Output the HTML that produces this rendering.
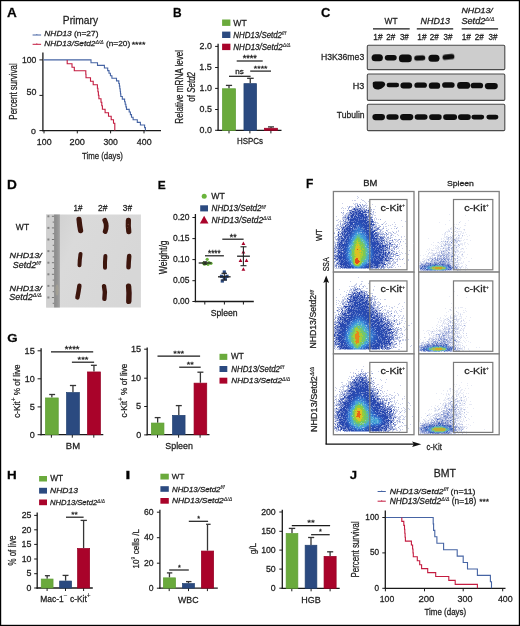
<!DOCTYPE html>
<html><head><meta charset="utf-8"><style>
html,body{margin:0;padding:0;background:#fff;overflow:hidden;}
svg{display:block;font-family:"Liberation Sans", sans-serif;will-change:transform;}
text{stroke:#222;stroke-width:0.26px;}
</style></head><body>
<svg shape-rendering="auto" width="520" height="626" viewBox="0 0 520 626" fill="#222">
<defs>
<filter id="bl" x="-30%" y="-60%" width="160%" height="220%"><feGaussianBlur stdDeviation="0.45"/></filter>
<filter id="bl2" filterUnits="userSpaceOnUse" x="0" y="0" width="520" height="626"><feGaussianBlur stdDeviation="0.45"/></filter>
<filter id="fb" x="-50%" y="-50%" width="200%" height="200%"><feGaussianBlur stdDeviation="2"/></filter>
<linearGradient id="pg" x1="0" y1="0" x2="1" y2="0.4"><stop offset="0" stop-color="#cdcdcd"/><stop offset="0.35" stop-color="#dadada"/><stop offset="1" stop-color="#d7d7d7"/></linearGradient>
<linearGradient id="rg" x1="0" y1="0" x2="1" y2="0"><stop offset="0" stop-color="#8a8a8a"/><stop offset="0.6" stop-color="#969696"/><stop offset="1" stop-color="#a4a4a4"/></linearGradient>
<clipPath id="clip00"><rect x="334.09999999999997" y="192.2" width="79.2" height="79.2"/></clipPath><clipPath id="clip01"><rect x="419.4" y="192.2" width="79.1" height="79.2"/></clipPath><clipPath id="clip10"><rect x="334.09999999999997" y="272.8" width="79.2" height="80.4"/></clipPath><clipPath id="clip11"><rect x="419.4" y="272.8" width="79.1" height="80.4"/></clipPath><clipPath id="clip20"><rect x="334.09999999999997" y="354.59999999999997" width="79.2" height="79.4"/></clipPath><clipPath id="clip21"><rect x="419.4" y="354.59999999999997" width="79.1" height="79.4"/></clipPath>
</defs>
<rect width="520" height="626" fill="#fff"/>
<text transform="translate(6.96 16.50) scale(1.0603 1)" font-size="12.791" fill="#000"><tspan font-weight="bold">A</tspan></text>
<text transform="translate(62.86 23.50) scale(0.9611 1)" font-size="10.621">Primary</text>
<line x1="32.6" y1="35.0" x2="41.1" y2="35.0" stroke="#4664a4" stroke-width="1.0"/>
<line x1="36.8" y1="34.0" x2="36.8" y2="35.0" stroke="#4664a4" stroke-width="0.8"/>
<text transform="translate(44.34 36.30) scale(1.0459 1)" font-size="8.0"><tspan font-style="italic">NHD13</tspan> (n=27)</text>
<line x1="32.6" y1="44.3" x2="41.1" y2="44.3" stroke="#c41c40" stroke-width="1.0"/>
<line x1="36.8" y1="43.3" x2="36.8" y2="44.3" stroke="#c41c40" stroke-width="0.8"/>
<text transform="translate(44.34 46.20) scale(1.0545 1)" font-size="7.862"><tspan font-style="italic">NHD13/Setd2</tspan><tspan font-style="italic" font-size="4.87" dy="-2.59" stroke-width="0.12">Δ/Δ</tspan><tspan dy="2.59"> (n=20)</tspan></text>
<text transform="translate(131.66 46.69) scale(1.1516 1)" font-size="7.692">****</text>
<line x1="42.9" y1="52.6" x2="42.9" y2="131.25" stroke="#1a1a1a" stroke-width="1.3"/>
<line x1="42.25" y1="130.6" x2="161" y2="130.6" stroke="#1a1a1a" stroke-width="1.3"/>
<line x1="39.4" y1="59.9" x2="42.9" y2="59.9" stroke="#1a1a1a" stroke-width="1"/>
<line x1="39.4" y1="95.4" x2="42.9" y2="95.4" stroke="#1a1a1a" stroke-width="1"/>
<line x1="39.4" y1="130.6" x2="42.9" y2="130.6" stroke="#1a1a1a" stroke-width="1"/>
<line x1="44" y1="130.4" x2="44" y2="133.4" stroke="#1a1a1a" stroke-width="1"/>
<line x1="77.3" y1="130.4" x2="77.3" y2="133.4" stroke="#1a1a1a" stroke-width="1"/>
<line x1="110.6" y1="130.4" x2="110.6" y2="133.4" stroke="#1a1a1a" stroke-width="1"/>
<line x1="144" y1="130.4" x2="144" y2="133.4" stroke="#1a1a1a" stroke-width="1"/>
<text transform="translate(22.04 62.62) scale(1.0355 1)" font-size="8.333">100</text>
<text transform="translate(26.54 94.51) scale(1.0170 1)" font-size="8.757">50</text>
<text transform="translate(30.96 133.52) scale(1.0914 1)" font-size="8.051">0</text>
<text transform="translate(36.83 145.00) scale(1.0300 1)" font-size="8.596">100</text>
<text transform="translate(69.54 145.00) scale(1.0683 1)" font-size="8.596">200</text>
<text transform="translate(103.42 145.00) scale(1.0054 1)" font-size="8.596">300</text>
<text transform="translate(136.80 145.00) scale(1.0322 1)" font-size="8.596">400</text>
<text transform="translate(81.93 158.80) scale(0.8477 1)" font-size="9.241">Time (days)</text>
<text transform="translate(16.80 119.65) rotate(-90) scale(0.7094 1)" font-size="11.172">Percent survival</text>
<path d="M43.5 59.9H91V62.8H97.5V65.4H104.4V68.0H107.7V70.6H109V73.2H110.4V75.8H111.9V78.3H116.5V80.9H118.8V83.5H119.4V86.1H119.8V88.7H120.2V91.3H120.5V93.9H120.8V96.5H122.3V99.1H124.6V101.7H125.2V104.3H125.9V106.9H126.5V109.4H129.2V112.0H130.4V114.6H131.5V117.2H133.1V119.8H137.3V122.4H140.4V125.0H144.6V127.6H145.4V130.4" fill="none" stroke="#4664a4" stroke-width="1.1"/>
<path d="M67.2 59.9H67.2V63.7H72.0V67.2H74.3V70.7H85.8V74.2H86.0V77.7H90.5V81.2H93.2V84.7H97.4V88.2H97.9V91.7H98.4V95.2H98.9V98.7H101V102.2H101.8V105.7H102.4V109.2H105.1V112.7H108.5V116.2H111.2V119.7H113.5V123.2H114.8V126.7H114.8V130.4" fill="none" stroke="#c41c40" stroke-width="1.1"/>
<text transform="translate(173.10 16.70) scale(0.9920 1)" font-size="12.064" fill="#000"><tspan font-weight="bold">B</tspan></text>
<rect x="222.10" y="19.50" width="8.30" height="6.40" fill="#6aaa3c"/>
<text transform="translate(233.37 25.90) scale(0.9357 1)" font-size="9.302">WT</text>
<rect x="222.10" y="31.60" width="8.30" height="6.40" fill="#2b4a80"/>
<text transform="translate(233.36 38.00) scale(0.9219 1)" font-size="8.552"><tspan font-style="italic">NHD13/Setd2</tspan><tspan font-style="italic" font-size="5.30" dy="-2.82" stroke-width="0.12">f/f</tspan></text>
<rect x="222.10" y="43.70" width="8.30" height="6.40" fill="#a9032a"/>
<text transform="translate(233.35 50.10) scale(0.9370 1)" font-size="8.552"><tspan font-style="italic">NHD13/Setd2</tspan><tspan font-style="italic" font-size="5.30" dy="-2.82" stroke-width="0.12">Δ/Δ</tspan></text>
<line x1="218.1" y1="43.8" x2="218.1" y2="131.05" stroke="#1a1a1a" stroke-width="1.3"/>
<line x1="217.45" y1="130.4" x2="281.5" y2="130.4" stroke="#1a1a1a" stroke-width="1.3"/>
<line x1="215.1" y1="130.3" x2="218.1" y2="130.3" stroke="#1a1a1a" stroke-width="1"/>
<line x1="215.1" y1="109.5" x2="218.1" y2="109.5" stroke="#1a1a1a" stroke-width="1"/>
<line x1="215.1" y1="88.4" x2="218.1" y2="88.4" stroke="#1a1a1a" stroke-width="1"/>
<line x1="215.1" y1="67.5" x2="218.1" y2="67.5" stroke="#1a1a1a" stroke-width="1"/>
<line x1="215.1" y1="46.4" x2="218.1" y2="46.4" stroke="#1a1a1a" stroke-width="1"/>
<text transform="translate(199.48 133.11) scale(1.0000 1)" font-size="8.898">0.0</text>
<text transform="translate(199.51 112.31) scale(1.0000 1)" font-size="8.898">0.5</text>
<text transform="translate(199.48 91.21) scale(1.0000 1)" font-size="8.898">1.0</text>
<text transform="translate(199.33 70.31) scale(1.0000 1)" font-size="9.026">1.5</text>
<text transform="translate(199.48 49.21) scale(1.0000 1)" font-size="8.898">2.0</text>
<line x1="229" y1="130.4" x2="229" y2="133.4" stroke="#1a1a1a" stroke-width="1"/>
<line x1="249.9" y1="130.4" x2="249.9" y2="133.4" stroke="#1a1a1a" stroke-width="1"/>
<line x1="270.9" y1="130.4" x2="270.9" y2="133.4" stroke="#1a1a1a" stroke-width="1"/>
<line x1="229.0" y1="88.4" x2="229.0" y2="85.4" stroke="#353535" stroke-width="1.3"/>
<line x1="225.9" y1="85.4" x2="232.1" y2="85.4" stroke="#353535" stroke-width="1.3"/>
<rect x="222.45" y="88.75" width="13.10" height="41.65" fill="#6aaa3c" stroke="#5e9d34" stroke-width="0.7"/>
<line x1="250.25" y1="83.3" x2="250.25" y2="78.3" stroke="#353535" stroke-width="1.3"/>
<line x1="247.1" y1="78.3" x2="253.7" y2="78.3" stroke="#353535" stroke-width="1.3"/>
<rect x="243.95" y="83.65" width="12.60" height="46.75" fill="#2b4a80" stroke="#22406f" stroke-width="0.7"/>
<line x1="271.04999999999995" y1="127.9" x2="271.04999999999995" y2="126.9" stroke="#353535" stroke-width="1.3"/>
<line x1="268" y1="126.9" x2="274" y2="126.9" stroke="#353535" stroke-width="1.3"/>
<rect x="264.55" y="128.25" width="13.00" height="2.15" fill="#a9032a" stroke="#960024" stroke-width="0.7"/>
<text transform="translate(237.05 144.40) scale(0.9240 1)" font-size="8.596">HSPCs</text>
<line x1="236.7" y1="61" x2="262.7" y2="61" stroke="#1a1a1a" stroke-width="1.2"/>
<text transform="translate(242.65 60.88) scale(1.1039 1)" font-size="8.262">****</text>
<line x1="229" y1="76.3" x2="250.6" y2="76.3" stroke="#1a1a1a" stroke-width="1.2"/>
<text transform="translate(235.37 73.60) scale(1.1428 1)" font-size="7.063">ns</text>
<line x1="250.2" y1="71.1" x2="271" y2="71.1" stroke="#1a1a1a" stroke-width="1.2"/>
<text transform="translate(253.86 71.39) scale(1.0940 1)" font-size="7.977">****</text>
<text transform="translate(182.90 123.66) rotate(-90) scale(0.7160 1)" font-size="11.31">Relative mRNA level</text>
<text transform="translate(195.10 101.63) rotate(-90) scale(0.7494 1)" font-size="10.621">of <tspan font-style="italic">Setd2</tspan></text>
<text transform="translate(320.97 16.90) scale(1.0800 1)" font-size="12.034" fill="#000"><tspan font-weight="bold">C</tspan></text>
<text transform="translate(384.57 24.20) scale(0.9606 1)" font-size="8.721">WT</text>
<text transform="translate(420.62 23.60) scale(1.0210 1)" font-size="8.739"><tspan font-style="italic">NHD13</tspan></text>
<text transform="translate(461.43 13.40) scale(1.1434 1)" font-size="7.724"><tspan font-style="italic">NHD13/</tspan></text>
<text transform="translate(461.44 23.90) scale(1.1038 1)" font-size="8.276"><tspan font-style="italic">Setd2</tspan><tspan font-style="italic" font-size="5.13" dy="-2.73" stroke-width="0.12">Δ/Δ</tspan></text>
<line x1="373" y1="28.9" x2="409.7" y2="28.9" stroke="#1a1a1a" stroke-width="1.1"/>
<line x1="416.8" y1="28.9" x2="453.2" y2="28.9" stroke="#1a1a1a" stroke-width="1.1"/>
<line x1="461.7" y1="28.9" x2="498.1" y2="28.9" stroke="#1a1a1a" stroke-width="1.1"/>
<text transform="translate(373.37 39.50) scale(0.9565 1)" font-size="8.721">1#</text>
<text transform="translate(386.29 39.50) scale(0.9465 1)" font-size="8.596">2#</text>
<text transform="translate(399.89 39.50) scale(0.9359 1)" font-size="8.596">3#</text>
<text transform="translate(417.27 39.50) scale(0.9565 1)" font-size="8.721">1#</text>
<text transform="translate(429.79 39.50) scale(0.9465 1)" font-size="8.596">2#</text>
<text transform="translate(443.59 39.50) scale(0.9359 1)" font-size="8.596">3#</text>
<text transform="translate(461.67 39.50) scale(0.9565 1)" font-size="8.721">1#</text>
<text transform="translate(474.79 39.50) scale(0.9465 1)" font-size="8.596">2#</text>
<text transform="translate(488.49 39.50) scale(0.9359 1)" font-size="8.596">3#</text>
<rect x="367.3" y="45.3" width="137.5" height="24.3" rx="1.2" fill="#cdcdcd" stroke="#4a4a4a" stroke-width="1.1"/>
<rect x="367.3" y="74" width="137.5" height="26.4" rx="1.2" fill="#cdcdcd" stroke="#4a4a4a" stroke-width="1.1"/>
<rect x="367.3" y="104.2" width="137.5" height="26.4" rx="1.2" fill="#cdcdcd" stroke="#4a4a4a" stroke-width="1.1"/>
<text transform="translate(320.89 60.00) scale(0.9459 1)" font-size="9.169">H3K36me3</text>
<text transform="translate(352.76 88.70) scale(1.0680 1)" font-size="8.453">H3</text>
<text transform="translate(336.81 118.30) scale(0.9691 1)" font-size="8.828">Tubulin</text>
<rect x="371.60" y="54.25" width="11.30" height="7.10" rx="3.50" fill="#0d0d0d" filter="url(#bl)" transform="rotate(0 377.2 57.8)"/>
<rect x="384.80" y="54.95" width="11.90" height="5.50" rx="2.75" fill="#0d0d0d" filter="url(#bl)" transform="rotate(0 390.8 57.7)"/>
<rect x="398.90" y="54.55" width="12.90" height="7.60" rx="3.50" fill="#0d0d0d" filter="url(#bl)" transform="rotate(0 405.4 58.3)"/>
<rect x="414.20" y="55.45" width="11.10" height="5.00" rx="2.50" fill="#0d0d0d" filter="url(#bl)" transform="rotate(-3 419.8 58.0)"/>
<rect x="428.40" y="54.65" width="11.10" height="7.20" rx="3.50" fill="#0d0d0d" filter="url(#bl)" transform="rotate(0 434.0 58.2)"/>
<rect x="442.50" y="54.25" width="11.90" height="5.30" rx="2.65" fill="#0d0d0d" filter="url(#bl)" transform="rotate(-6 448.4 56.9)"/>
<path d="M372.7 83Q372.5 81.4 375.2 81.4H381.9Q385.3 81.8 385.2 84.8Q384.1 88.1 378.6 89.6Q373.7 89.9 372.9 86.6Z" fill="#0d0d0d" filter="url(#bl)"/>
<rect x="386.60" y="82.65" width="12.50" height="4.50" rx="2.25" fill="#0d0d0d" filter="url(#bl)" transform="rotate(0 392.9 84.9)"/>
<rect x="400.40" y="82.45" width="11.80" height="6.00" rx="3.00" fill="#0d0d0d" filter="url(#bl)" transform="rotate(0 406.3 85.4)"/>
<rect x="414.40" y="82.45" width="12.50" height="5.40" rx="2.70" fill="#0d0d0d" filter="url(#bl)" transform="rotate(0 420.6 85.2)"/>
<rect x="428.80" y="82.45" width="11.40" height="6.40" rx="3.20" fill="#0d0d0d" filter="url(#bl)" transform="rotate(0 434.5 85.7)"/>
<rect x="442.10" y="82.25" width="12.50" height="5.60" rx="2.80" fill="#0d0d0d" filter="url(#bl)" transform="rotate(0 448.4 85.0)"/>
<rect x="457.10" y="81.95" width="13.10" height="6.90" rx="3.45" fill="#0d0d0d" filter="url(#bl)" transform="rotate(0 463.6 85.4)"/>
<rect x="470.60" y="82.65" width="12.50" height="5.70" rx="2.85" fill="#0d0d0d" filter="url(#bl)" transform="rotate(0 476.9 85.5)"/>
<rect x="484.80" y="82.95" width="13.00" height="6.20" rx="3.10" fill="#0d0d0d" filter="url(#bl)" transform="rotate(0 491.3 86.0)"/>
<rect x="372.40" y="114.00" width="12.60" height="6.20" rx="3.10" fill="#0d0d0d" filter="url(#bl)" transform="rotate(0 378.7 117.1)"/>
<rect x="386.40" y="114.35" width="12.20" height="5.50" rx="2.75" fill="#0d0d0d" filter="url(#bl)" transform="rotate(0 392.5 117.1)"/>
<rect x="400.00" y="114.00" width="13.30" height="6.20" rx="3.10" fill="#0d0d0d" filter="url(#bl)" transform="rotate(0 406.6 117.1)"/>
<rect x="414.70" y="114.35" width="12.80" height="5.50" rx="2.75" fill="#0d0d0d" filter="url(#bl)" transform="rotate(0 421.1 117.1)"/>
<rect x="429.10" y="114.25" width="12.60" height="5.70" rx="2.85" fill="#0d0d0d" filter="url(#bl)" transform="rotate(0 435.4 117.1)"/>
<rect x="443.10" y="114.15" width="14.00" height="5.90" rx="2.95" fill="#0d0d0d" filter="url(#bl)" transform="rotate(0 450.1 117.1)"/>
<rect x="458.00" y="114.25" width="12.80" height="5.70" rx="2.85" fill="#0d0d0d" filter="url(#bl)" transform="rotate(0 464.4 117.1)"/>
<rect x="471.40" y="114.65" width="12.80" height="4.90" rx="2.45" fill="#0d0d0d" filter="url(#bl)" transform="rotate(0 477.8 117.1)"/>
<rect x="486.40" y="114.65" width="12.00" height="4.90" rx="2.45" fill="#0d0d0d" filter="url(#bl)" transform="rotate(0 492.4 117.1)"/>
<text transform="translate(6.88 188.50) scale(1.0837 1)" font-size="12.645" fill="#000"><tspan font-weight="bold">D</tspan></text>
<text transform="translate(73.59 210.80) scale(0.9080 1)" font-size="8.866">1#</text>
<text transform="translate(97.97 210.80) scale(0.9743 1)" font-size="8.739">2#</text>
<text transform="translate(122.78 210.80) scale(0.9527 1)" font-size="8.739">3#</text>
<text transform="translate(15.87 230.40) scale(0.9596 1)" font-size="8.866">WT</text>
<text transform="translate(9.62 258.00) scale(1.1480 1)" font-size="7.862"><tspan font-style="italic">NHD13/</tspan></text>
<text transform="translate(12.75 268.00) scale(1.0158 1)" font-size="8.828"><tspan font-style="italic">Setd2</tspan><tspan font-style="italic" font-size="5.47" dy="-2.91" stroke-width="0.12">f/f</tspan></text>
<text transform="translate(9.62 290.60) scale(1.1480 1)" font-size="7.862"><tspan font-style="italic">NHD13/</tspan></text>
<text transform="translate(9.25 300.00) scale(1.0220 1)" font-size="8.828"><tspan font-style="italic">Setd2</tspan><tspan font-style="italic" font-size="5.47" dy="-2.91" stroke-width="0.12">Δ/Δ</tspan></text>
<rect x="46.2" y="214.5" width="94.7" height="93" fill="url(#pg)"/>
<rect x="46.2" y="214.5" width="7.9" height="93" fill="#d0d0d0"/>
<rect x="54.1" y="214.5" width="5.8" height="93" fill="url(#rg)"/>
<ellipse cx="57" cy="290" rx="1.6" ry="5.5" fill="#bcb498" opacity="0.35" filter="url(#bl2)"/>
<line x1="51.9" y1="216.3" x2="54.1" y2="216.3" stroke="#5e5e5e" stroke-width="0.8"/>
<rect x="47.40" y="215.30" width="2.00" height="2.00" fill="#858585"/>
<line x1="52.7" y1="222.10000000000002" x2="54.1" y2="222.10000000000002" stroke="#5e5e5e" stroke-width="0.8"/>
<line x1="51.9" y1="227.9" x2="54.1" y2="227.9" stroke="#5e5e5e" stroke-width="0.8"/>
<rect x="47.40" y="226.90" width="2.00" height="2.00" fill="#858585"/>
<line x1="52.7" y1="233.70000000000002" x2="54.1" y2="233.70000000000002" stroke="#5e5e5e" stroke-width="0.8"/>
<line x1="51.9" y1="239.5" x2="54.1" y2="239.5" stroke="#5e5e5e" stroke-width="0.8"/>
<rect x="47.40" y="238.50" width="2.00" height="2.00" fill="#858585"/>
<line x1="52.7" y1="245.3" x2="54.1" y2="245.3" stroke="#5e5e5e" stroke-width="0.8"/>
<line x1="51.9" y1="251.10000000000002" x2="54.1" y2="251.10000000000002" stroke="#5e5e5e" stroke-width="0.8"/>
<rect x="47.40" y="250.10" width="2.00" height="2.00" fill="#858585"/>
<line x1="52.7" y1="256.90000000000003" x2="54.1" y2="256.90000000000003" stroke="#5e5e5e" stroke-width="0.8"/>
<line x1="51.9" y1="262.7" x2="54.1" y2="262.7" stroke="#5e5e5e" stroke-width="0.8"/>
<rect x="47.40" y="261.70" width="2.00" height="2.00" fill="#858585"/>
<line x1="52.7" y1="268.5" x2="54.1" y2="268.5" stroke="#5e5e5e" stroke-width="0.8"/>
<line x1="51.9" y1="274.3" x2="54.1" y2="274.3" stroke="#5e5e5e" stroke-width="0.8"/>
<rect x="47.40" y="273.30" width="2.00" height="2.00" fill="#858585"/>
<line x1="52.7" y1="280.1" x2="54.1" y2="280.1" stroke="#5e5e5e" stroke-width="0.8"/>
<line x1="51.9" y1="285.9" x2="54.1" y2="285.9" stroke="#5e5e5e" stroke-width="0.8"/>
<rect x="47.40" y="284.90" width="2.00" height="2.00" fill="#858585"/>
<line x1="52.7" y1="291.7" x2="54.1" y2="291.7" stroke="#5e5e5e" stroke-width="0.8"/>
<line x1="51.9" y1="297.5" x2="54.1" y2="297.5" stroke="#5e5e5e" stroke-width="0.8"/>
<rect x="47.40" y="296.50" width="2.00" height="2.00" fill="#858585"/>
<line x1="52.7" y1="303.3" x2="54.1" y2="303.3" stroke="#5e5e5e" stroke-width="0.8"/>
<path d="M79.0 219.3Q79.6 226.0 80.6 230.6" fill="none" stroke="#3e1511" stroke-width="5.2" stroke-linecap="round" filter="url(#bl2)"/>
<path d="M104.8 220.3Q107.5 226.0 105.2 231.5" fill="none" stroke="#3e1511" stroke-width="4.8" stroke-linecap="round" filter="url(#bl2)"/>
<path d="M128.4 220.4Q128.0 226.0 128.8 231.6" fill="none" stroke="#3e1511" stroke-width="5.2" stroke-linecap="round" filter="url(#bl2)"/>
<circle cx="128.3" cy="224.5" r="0.8" fill="#7a4a40" opacity="0.7"/><circle cx="127.6" cy="227.5" r="0.6" fill="#7a4a40" opacity="0.6"/>
<path d="M80.5 254.0Q79.6 260.0 79.5 265.3" fill="none" stroke="#3e1511" stroke-width="4.0" stroke-linecap="round" filter="url(#bl2)"/>
<path d="M105.4 256.0Q104.8 262.0 105.0 267.8" fill="none" stroke="#3e1511" stroke-width="4.0" stroke-linecap="round" filter="url(#bl2)"/>
<path d="M129.2 256.0Q128.6 262.0 128.5 267.2" fill="none" stroke="#3e1511" stroke-width="4.5" stroke-linecap="round" filter="url(#bl2)"/>
<path d="M79.4 285.8Q78.6 292.0 77.4 297.4" fill="none" stroke="#3e1511" stroke-width="4.4" stroke-linecap="round" filter="url(#bl2)"/>
<path d="M104.0 286.2Q105.6 292.0 104.4 298.8" fill="none" stroke="#3e1511" stroke-width="4.4" stroke-linecap="round" filter="url(#bl2)"/>
<path d="M128.6 286.3Q129.4 293.0 128.8 301.4" fill="none" stroke="#3e1511" stroke-width="5.4" stroke-linecap="round" filter="url(#bl2)"/>
<text transform="translate(157.70 188.80) scale(1.0401 1)" font-size="11.483" fill="#000"><tspan font-weight="bold">E</tspan></text>
<circle cx="204.2" cy="196.2" r="2.5" fill="#6ab43c"/>
<text transform="translate(211.36 198.70) scale(1.0226 1)" font-size="8.576">WT</text>
<rect x="200.20" y="205.30" width="7.80" height="6.10" fill="#2b4a80"/>
<text transform="translate(211.55 211.40) scale(0.9654 1)" font-size="8.414"><tspan font-style="italic">NHD13/Setd2</tspan><tspan font-style="italic" font-size="5.22" dy="-2.78" stroke-width="0.12">f/f</tspan></text>
<path d="M204.15 215.82999999999998L208.45000000000002 223.57H199.85Z" fill="#a9032a"/>
<text transform="translate(211.54 222.60) scale(0.9926 1)" font-size="8.414"><tspan font-style="italic">NHD13/Setd2</tspan><tspan font-style="italic" font-size="5.22" dy="-2.78" stroke-width="0.12">Δ/Δ</tspan></text>
<line x1="195.4" y1="214" x2="195.4" y2="302.15" stroke="#1a1a1a" stroke-width="1.3"/>
<line x1="194.75" y1="301.5" x2="253.8" y2="301.5" stroke="#1a1a1a" stroke-width="1.3"/>
<line x1="192.4" y1="301.5" x2="195.4" y2="301.5" stroke="#1a1a1a" stroke-width="1"/>
<line x1="192.4" y1="280.7" x2="195.4" y2="280.7" stroke="#1a1a1a" stroke-width="1"/>
<line x1="192.4" y1="259.6" x2="195.4" y2="259.6" stroke="#1a1a1a" stroke-width="1"/>
<line x1="192.4" y1="238.6" x2="195.4" y2="238.6" stroke="#1a1a1a" stroke-width="1"/>
<line x1="192.4" y1="217.5" x2="195.4" y2="217.5" stroke="#1a1a1a" stroke-width="1"/>
<text transform="translate(172.94 304.12) scale(1.0000 1)" font-size="8.475">0.00</text>
<text transform="translate(172.96 283.32) scale(1.0000 1)" font-size="8.475">0.05</text>
<text transform="translate(172.94 262.22) scale(1.0000 1)" font-size="8.475">0.10</text>
<text transform="translate(172.96 241.22) scale(1.0000 1)" font-size="8.475">0.15</text>
<text transform="translate(172.94 220.12) scale(1.0000 1)" font-size="8.475">0.20</text>
<line x1="204.8" y1="301.5" x2="204.8" y2="304.5" stroke="#1a1a1a" stroke-width="1"/>
<line x1="224.4" y1="301.5" x2="224.4" y2="304.5" stroke="#1a1a1a" stroke-width="1"/>
<line x1="243.4" y1="301.5" x2="243.4" y2="304.5" stroke="#1a1a1a" stroke-width="1"/>
<text transform="translate(210.71 315.80) scale(0.9804 1)" font-size="8.828">Spleen</text>
<text transform="translate(167.10 274.33) rotate(-90) scale(0.7468 1)" font-size="11.586">Weight/g</text>
<line x1="205" y1="255.8" x2="223.9" y2="255.8" stroke="#1a1a1a" stroke-width="1.2"/>
<text transform="translate(208.07 256.08) scale(0.9443 1)" font-size="8.547">****</text>
<line x1="222.3" y1="239.2" x2="243.6" y2="239.2" stroke="#1a1a1a" stroke-width="1.2"/>
<text transform="translate(229.86 239.68) scale(1.0194 1)" font-size="8.547">**</text>
<circle cx="207.2" cy="259.3" r="1.6" fill="#6ab43c"/>
<circle cx="203.5" cy="263" r="1.6" fill="#6ab43c"/>
<circle cx="206" cy="263.5" r="1.6" fill="#6ab43c"/>
<circle cx="209" cy="262.6" r="1.6" fill="#6ab43c"/>
<circle cx="211" cy="263.3" r="1.6" fill="#6ab43c"/>
<circle cx="204.5" cy="264.2" r="1.6" fill="#6ab43c"/>
<circle cx="208" cy="264.3" r="1.6" fill="#6ab43c"/>
<line x1="198.7" y1="263" x2="211.5" y2="263" stroke="#222" stroke-width="1.3"/>
<line x1="205.1" y1="261.8" x2="205.1" y2="264.2" stroke="#222" stroke-width="1.1"/>
<line x1="203" y1="261.8" x2="207.2" y2="261.8" stroke="#222" stroke-width="1.0"/>
<line x1="203" y1="264.2" x2="207.2" y2="264.2" stroke="#222" stroke-width="1.0"/>
<rect x="222.70" y="270.40" width="3.20" height="3.20" fill="#2b4a80"/>
<rect x="219.90" y="274.70" width="3.20" height="3.20" fill="#2b4a80"/>
<rect x="225.40" y="274.70" width="3.20" height="3.20" fill="#2b4a80"/>
<rect x="220.70" y="279.40" width="3.20" height="3.20" fill="#2b4a80"/>
<rect x="222.70" y="275.90" width="3.20" height="3.20" fill="#2b4a80"/>
<rect x="223.70" y="277.40" width="3.20" height="3.20" fill="#2b4a80"/>
<line x1="218" y1="276.8" x2="230.6" y2="276.8" stroke="#222" stroke-width="1.3"/>
<line x1="224.3" y1="273.3" x2="224.3" y2="280" stroke="#222" stroke-width="1.1"/>
<line x1="221.5" y1="273.3" x2="227" y2="273.3" stroke="#222" stroke-width="1.1"/>
<line x1="221.5" y1="280" x2="227" y2="280" stroke="#222" stroke-width="1.1"/>
<path d="M243.4 241.48999999999998L245.3 244.91H241.5Z" fill="#a9032a"/>
<path d="M243.4 250.09L245.3 253.51000000000002H241.5Z" fill="#a9032a"/>
<path d="M240.5 258.59000000000003L242.4 262.01H238.6Z" fill="#a9032a"/>
<path d="M246.5 258.59000000000003L248.4 262.01H244.6Z" fill="#a9032a"/>
<path d="M243.4 267.29L245.3 270.71H241.5Z" fill="#a9032a"/>
<line x1="237.1" y1="256.2" x2="249.9" y2="256.2" stroke="#222" stroke-width="1.3"/>
<line x1="243.4" y1="246.8" x2="243.4" y2="265.7" stroke="#222" stroke-width="1.1"/>
<line x1="240.5" y1="246.8" x2="246.5" y2="246.8" stroke="#222" stroke-width="1.1"/>
<line x1="240.5" y1="265.7" x2="246.5" y2="265.7" stroke="#222" stroke-width="1.1"/>
<text transform="translate(306.09 188.40) scale(0.9625 1)" font-size="12.5" fill="#000"><tspan font-weight="bold">F</tspan></text>
<text transform="translate(363.23 185.50) scale(1.1383 1)" font-size="8.285">BM</text>
<text transform="translate(446.91 185.50) scale(1.1051 1)" font-size="7.862">Spleen</text>
<rect x="333.4" y="191.5" width="80.6" height="80.6" fill="#fff" stroke="#7f7f7f" stroke-width="1.3"/>
<g clip-path="url(#clip00)"><path transform="translate(334 192)" fill="#7dc853" d="M0 0m23 46h2v1h-2zm-1 1h4v1h-4zm0 1h1v1h-1zm2 0h2v1h-2zm-3 1h1v1h-1zm3 0h3v1h-3zm-4 1h3v1h-3zm6 0h2v1h-2zm-5 1h1v1h-1zm4 0h2v1h-2zm3 0h1v1h-1zm-8 1h1v1h-1zm6 0h3v1h-3zm-6 1h2v1h-2zm6 0h1v1h-1zm2 0h2v1h-2zm-8 1h1v1h-1zm7 0h2v1h-2zm-7 1h1v1h-1zm7 0h3v1h-3zm-7 1h1v1h-1zm7 0h1v1h-1zm2 0h1v1h-1zm-10 1h2v1h-2zm8 0h1v1h-1zm3 0h1v1h-1zm-11 1h1v1h-1zm9 0h3v1h-3zm-10 1h1v1h-1zm11 0h2v1h-2zm-11 1h2v1h-2zm9 0h1v1h-1zm2 0h2v1h-2zm-11 1h2v1h-2zm11 0h2v1h-2zm-11 1h2v1h-2zm11 0h2v1h-2zm-10 1h1v1h-1zm10 0h3v1h-3zm-11 1h3v1h-3zm10 0h2v1h-2zm-9 1h1v1h-1zm9 0h2v1h-2zm-9 1h1v1h-1zm8 0h2v1h-2zm3 0h1v1h-1zm-11 1h1v1h-1zm8 0h2v1h-2zm-8 1h1v1h-1zm8 0h1v1h-1zm-8 1h1v1h-1zm8 0h2v1h-2zm-8 1h1v1h-1zm8 0h1v1h-1zm-8 1h1v1h-1zm7 0h1v1h-1zm-6 1h1v1h-1zm5 0h1v1h-1zm-4 1h4v1h-4z"/>
<path transform="translate(334 192)" fill="#3269c8" d="M0 0m25 34h1v1h-1zm-1 1h1v1h-1zm-2 1h1v1h-1zm4 0h1v1h-1zm0 1h3v1h-3zm-6 1h2v1h-2zm3 0h1v1h-1zm-4 1h2v1h-2zm9 0h1v1h-1zm0 1h1v1h-1zm2 0h1v1h-1zm-12 1h2v1h-2zm-1 1h2v1h-2zm14 0h2v1h-2zm-14 1h1v1h-1zm15 0h1v1h-1zm0 1h1v1h-1zm-16 1h2v1h-2zm16 0h1v1h-1zm-16 1h1v1h-1zm-1 1h2v1h-2zm19 0h1v1h-1zm-19 1h1v1h-1zm19 0h1v1h-1zm-19 1h1v1h-1zm19 0h1v1h-1zm-20 1h1v1h-1zm22 2h1v1h-1zm-22 1h1v1h-1zm-1 2h1v1h-1zm0 1h1v1h-1zm24 0h1v1h-1zm0 1h1v1h-1zm0 1h1v1h-1zm-25 1h1v1h-1zm25 0h1v1h-1zm-24 1h1v1h-1zm24 0h1v1h-1zm-24 1h1v1h-1zm-1 1h1v1h-1zm25 1h1v1h-1zm0 1h1v1h-1zm-25 1h1v1h-1zm25 0h1v1h-1zm-25 1h2v1h-2zm25 0h1v1h-1zm-24 1h2v1h-2zm23 0h2v1h-2zm0 1h1v1h-1zm-22 1h1v1h-1zm1 1h1v1h-1zm20 0h1v1h-1zm-20 1h2v1h-2zm17 1h1v1h-1zm-15 1h1v1h-1zm14 0h1v1h-1zm-1 1h1v1h-1zm-2 1h2v1h-2z"/>
<path transform="translate(334 192)" fill="#93a2d5" d="M0 0m23 12h1v1h-1zm2 0h1v1h-1zm3 0h1v1h-1zm2 1h1v1h-1zm-15 1h1v1h-1zm6 0h1v1h-1zm6 0h1v1h-1zm2 0h1v1h-1zm-14 1h1v1h-1zm6 0h2v1h-2zm6 0h1v1h-1zm5 0h1v1h-1zm4 0h1v1h-1zm-22 1h1v1h-1zm5 0h1v1h-1zm2 0h4v1h-4zm7 0h1v1h-1zm2 0h1v1h-1zm-12 1h1v1h-1zm6 0h2v1h-2zm3 0h1v1h-1zm2 0h2v1h-2zm6 0h1v1h-1zm2 0h1v1h-1zm-24 1h1v1h-1zm7 0h1v1h-1zm2 0h1v1h-1zm4 0h1v1h-1zm5 0h1v1h-1zm2 0h1v1h-1zm-17 1h2v1h-2zm13 0h1v1h-1zm7 0h1v1h-1zm3 0h1v1h-1zm-32 1h1v1h-1zm2 0h1v1h-1zm6 0h1v1h-1zm2 0h1v1h-1zm-5 1h1v1h-1zm3 0h1v1h-1zm3 0h1v1h-1zm11 0h1v1h-1zm2 0h1v1h-1zm3 0h1v1h-1zm-20 1h1v1h-1zm2 0h2v1h-2zm18 0h2v1h-2zm3 0h1v1h-1zm-26 1h1v1h-1zm4 0h1v1h-1zm5 0h1v1h-1zm2 0h1v1h-1zm8 0h1v1h-1zm2 0h1v1h-1zm-21 1h1v1h-1zm2 0h1v1h-1zm6 0h1v1h-1zm4 0h1v1h-1zm12 0h1v1h-1zm-26 1h2v1h-2zm7 0h1v1h-1zm3 0h1v1h-1zm15 0h2v1h-2zm4 0h1v1h-1zm-26 1h1v1h-1zm25 0h1v1h-1zm-26 1h2v1h-2zm19 0h1v1h-1zm5 0h2v1h-2zm11 0h1v1h-1zm-35 1h1v1h-1zm4 0h1v1h-1zm18 0h2v1h-2zm3 0h2v1h-2zm-26 1h1v1h-1zm3 0h1v1h-1zm19 0h1v1h-1zm-21 1h1v1h-1zm25 0h1v1h-1zm3 0h3v1h-3zm-33 1h1v1h-1zm8 0h1v1h-1zm25 0h1v1h-1zm-33 1h1v1h-1zm2 0h3v1h-3zm7 0h1v1h-1zm20 0h1v1h-1zm13 0h1v1h-1zm-40 1h1v1h-1zm6 0h1v1h-1zm10 0h1v1h-1zm13 0h1v1h-1zm-31 1h1v1h-1zm3 0h2v1h-2zm3 0h1v1h-1zm26 0h1v1h-1zm3 0h2v1h-2zm5 0h1v1h-1zm-38 1h1v1h-1zm3 0h1v1h-1zm30 0h1v1h-1zm3 0h2v1h-2zm-34 1h1v1h-1zm9 0h1v1h-1zm23 0h1v1h-1zm7 0h1v1h-1zm13 0h1v1h-1zm-58 1h1v1h-1zm5 0h1v1h-1zm24 0h1v1h-1zm8 0h2v1h-2zm3 0h2v1h-2zm-37 1h3v1h-3zm31 0h2v1h-2zm8 0h1v1h-1zm6 0h1v1h-1zm-48 1h1v1h-1zm2 0h1v1h-1zm40 0h1v1h-1zm-34 1h1v1h-1zm31 0h2v1h-2zm8 0h1v1h-1zm8 0h1v1h-1zm-59 1h1v1h-1zm5 0h2v1h-2zm4 0h1v1h-1zm2 0h1v1h-1zm28 0h1v1h-1zm4 0h3v1h-3zm6 0h1v1h-1zm-8 1h2v1h-2zm5 0h3v1h-3zm4 0h1v1h-1zm3 0h1v1h-1zm-46 1h1v1h-1zm33 0h1v1h-1zm4 0h1v1h-1zm8 0h1v1h-1zm5 0h1v1h-1zm-55 1h1v1h-1zm2 0h1v1h-1zm36 0h1v1h-1zm4 0h1v1h-1zm2 0h2v1h-2zm3 0h2v1h-2zm-44 1h2v1h-2zm37 0h1v1h-1zm7 0h2v1h-2zm4 0h2v1h-2zm-50 1h2v1h-2zm3 0h1v1h-1zm6 0h1v1h-1zm33 0h1v1h-1zm11 0h1v1h-1zm-54 1h2v1h-2zm4 0h2v1h-2zm5 0h1v1h-1zm27 0h1v1h-1zm5 0h2v1h-2zm3 0h1v1h-1zm2 0h1v1h-1zm2 0h1v1h-1zm2 0h1v1h-1zm8 0h1v1h-1zm5 0h1v1h-1zm-60 1h2v1h-2zm39 0h2v1h-2zm6 0h1v1h-1zm5 0h2v1h-2zm-51 1h1v1h-1zm2 0h1v1h-1zm42 0h1v1h-1zm2 0h1v1h-1zm16 0h1v1h-1zm-61 1h1v1h-1zm4 0h1v1h-1zm36 0h1v1h-1zm8 0h1v1h-1zm2 0h1v1h-1zm2 0h1v1h-1zm-54 1h2v1h-2zm47 0h2v1h-2zm3 0h1v1h-1zm-52 1h1v1h-1zm46 0h1v1h-1zm4 0h1v1h-1zm2 0h5v1h-5zm7 0h1v1h-1zm3 0h1v1h-1zm-62 1h1v1h-1zm3 0h1v1h-1zm40 0h1v1h-1zm3 0h1v1h-1zm5 0h1v1h-1zm3 0h1v1h-1zm2 0h1v1h-1zm-56 1h3v1h-3zm42 0h1v1h-1zm10 0h1v1h-1zm4 0h1v1h-1zm3 0h1v1h-1zm3 0h1v1h-1zm-62 1h1v1h-1zm6 0h1v1h-1zm32 0h1v1h-1zm11 0h2v1h-2zm9 0h1v1h-1zm2 0h2v1h-2zm-59 1h1v1h-1zm45 0h1v1h-1zm3 0h1v1h-1zm4 0h1v1h-1zm6 0h1v1h-1zm-55 1h1v1h-1zm3 0h1v1h-1zm42 0h2v1h-2zm3 0h1v1h-1zm2 0h1v1h-1zm5 0h1v1h-1zm-60 1h2v1h-2zm3 0h1v1h-1zm49 0h3v1h-3zm6 0h1v1h-1zm-58 1h1v1h-1zm2 0h1v1h-1zm46 0h1v1h-1zm3 0h1v1h-1zm3 0h2v1h-2zm5 0h2v1h-2zm-9 1h1v1h-1zm8 0h1v1h-1zm-10 1h1v1h-1zm4 0h1v1h-1zm7 0h1v1h-1zm4 0h1v1h-1zm-62 1h1v1h-1zm2 0h1v1h-1zm44 0h1v1h-1zm5 0h1v1h-1zm4 0h2v1h-2zm3 0h3v1h-3zm-58 1h1v1h-1zm7 0h1v1h-1zm42 0h1v1h-1zm5 0h2v1h-2zm4 0h1v1h-1zm3 0h1v1h-1zm2 0h1v1h-1zm-64 1h1v1h-1zm46 0h1v1h-1zm4 0h1v1h-1zm5 0h5v1h-5zm-54 1h3v1h-3zm52 0h1v1h-1zm2 0h1v1h-1zm-6 1h2v1h-2zm4 0h1v1h-1zm2 0h1v1h-1zm3 0h1v1h-1zm-57 1h1v1h-1zm3 0h1v1h-1zm46 0h1v1h-1zm4 0h2v1h-2zm5 0h1v1h-1zm4 0h1v1h-1zm5 0h1v1h-1zm-65 1h2v1h-2zm46 0h1v1h-1zm6 0h1v1h-1zm3 0h1v1h-1zm-58 1h2v1h-2zm4 0h1v1h-1zm45 0h2v1h-2zm3 0h2v1h-2zm3 0h1v1h-1zm2 0h1v1h-1zm-57 1h1v1h-1zm3 0h1v1h-1zm2 0h1v1h-1zm44 0h1v1h-1zm5 0h1v1h-1zm7 0h1v1h-1zm-59 1h1v1h-1zm2 0h1v1h-1zm48 0h1v1h-1zm2 0h3v1h-3zm-52 1h1v1h-1zm3 0h1v1h-1zm40 0h4v1h-4zm8 0h1v1h-1zm10 0h1v1h-1zm-62 1h1v1h-1zm4 0h2v1h-2zm3 0h1v1h-1zm43 0h1v1h-1zm2 0h1v1h-1zm5 0h1v1h-1zm-57 1h2v1h-2zm4 0h1v1h-1zm34 0h1v1h-1zm2 0h1v1h-1zm-39 1h1v1h-1zm2 0h1v1h-1zm2 0h1v1h-1zm38 0h2v1h-2zm4 0h3v1h-3zm5 0h1v1h-1zm2 0h1v1h-1zm2 0h1v1h-1zm-51 1h1v1h-1zm2 0h1v1h-1zm2 0h1v1h-1zm2 0h5v1h-5zm6 0h2v1h-2zm9 0h1v1h-1zm2 0h3v1h-3zm4 0h2v1h-2zm3 0h3v1h-3zm5 0h2v1h-2zm3 0h1v1h-1zm2 0h2v1h-2zm3 0h1v1h-1z"/>
<path transform="translate(334 192)" fill="#6da9e2" d="M0 0m23 40h1v1h-1zm2 0h2v1h-2zm-5 3h1v1h-1zm11 0h1v1h-1zm-13 2h1v1h-1zm-1 2h1v1h-1zm0 5h1v1h-1zm-2 1h2v1h-2zm19 1h1v1h-1zm-20 1h1v1h-1zm20 1h1v1h-1zm-19 1h1v1h-1zm20 0h2v1h-2zm-1 1h2v1h-2zm-20 1h1v1h-1zm22 1h1v1h-1zm-22 1h1v1h-1zm0 2h1v1h-1zm19 5h1v1h-1zm0 1h1v1h-1zm0 1h2v1h-2zm-15 2h1v1h-1z"/>
<path transform="translate(334 192)" fill="#5d73c0" d="M0 0m25 16h2v1h-2zm-6 1h1v1h-1zm2 0h2v1h-2zm5 0h1v1h-1zm4 1h1v1h-1zm0 1h1v1h-1zm-12 1h1v1h-1zm13 0h3v1h-3zm-15 1h1v1h-1zm-1 1h1v1h-1zm-1 1h1v1h-1zm20 0h1v1h-1zm-20 1h1v1h-1zm20 0h1v1h-1zm-21 1h1v1h-1zm23 0h1v1h-1zm-23 1h1v1h-1zm23 0h1v1h-1zm1 1h1v1h-1zm-26 2h1v1h-1zm1 1h1v1h-1zm25 0h2v1h-2zm-27 1h2v1h-2zm28 1h1v1h-1zm0 1h2v1h-2zm2 2h1v1h-1zm-32 1h2v1h-2zm33 2h2v1h-2zm-33 1h1v1h-1zm-1 1h1v1h-1zm35 0h1v1h-1zm-35 1h1v1h-1zm35 0h1v1h-1zm-36 1h1v1h-1zm37 0h2v1h-2zm0 1h1v1h-1zm-38 1h2v1h-2zm40 0h1v1h-1zm2 1h1v1h-1zm-42 1h1v1h-1zm41 0h3v1h-3zm-42 1h2v1h-2zm43 0h1v1h-1zm-43 1h1v1h-1zm42 0h3v1h-3zm-41 1h1v1h-1zm-1 1h1v1h-1zm44 0h1v1h-1zm2 0h1v1h-1zm-47 2h1v1h-1zm49 0h1v1h-1zm-49 1h1v1h-1zm47 0h1v1h-1zm3 0h1v1h-1zm-3 1h1v1h-1zm-48 1h1v1h-1zm2 0h1v1h-1zm49 0h1v1h-1zm2 0h1v1h-1zm-52 1h1v1h-1zm48 0h1v1h-1zm2 0h1v1h-1zm2 0h1v1h-1zm-3 1h1v1h-1zm-49 2h1v1h-1zm49 1h1v1h-1zm-49 1h1v1h-1zm50 0h3v1h-3zm0 1h2v1h-2zm-51 1h1v1h-1zm51 0h1v1h-1zm-52 1h2v1h-2zm51 0h1v1h-1zm0 1h1v1h-1zm2 0h1v1h-1zm-2 1h1v1h-1zm2 0h1v1h-1zm-52 1h1v1h-1zm50 0h1v1h-1zm-50 1h1v1h-1zm49 0h1v1h-1zm3 0h1v1h-1zm-4 2h1v1h-1zm-3 1h1v1h-1zm2 0h2v1h-2zm-45 1h1v1h-1zm45 0h1v1h-1zm-1 1h2v1h-2zm-44 1h1v1h-1zm41 0h1v1h-1zm2 0h3v1h-3zm0 1h1v1h-1z"/>
<path transform="translate(334 192)" fill="#2849b1" d="M0 0m21 24h2v1h-2zm3 0h1v1h-1zm2 0h2v1h-2zm-6 1h1v1h-1zm2 0h4v1h-4zm5 0h1v1h-1zm-8 1h3v1h-3zm4 0h1v1h-1zm2 0h3v1h-3zm4 0h1v1h-1zm-10 1h3v1h-3zm4 0h1v1h-1zm6 0h1v1h-1zm-10 1h1v1h-1zm8 0h4v1h-4zm-7 1h1v1h-1zm9 0h3v1h-3zm-11 1h2v1h-2zm12 0h2v1h-2zm-13 1h2v1h-2zm14 0h1v1h-1zm-14 1h2v1h-2zm15 0h1v1h-1zm-1 1h2v1h-2zm-14 1h1v1h-1zm15 0h2v1h-2zm-17 1h1v1h-1zm-1 1h4v1h-4zm18 0h3v1h-3zm-17 1h1v1h-1zm-1 1h2v1h-2zm20 0h1v1h-1zm-20 1h2v1h-2zm20 0h2v1h-2zm-21 1h1v1h-1zm22 0h1v1h-1zm-22 1h2v1h-2zm23 0h1v1h-1zm-24 1h2v1h-2zm24 0h2v1h-2zm-24 1h2v1h-2zm25 0h1v1h-1zm0 1h1v1h-1zm-26 1h1v1h-1zm27 0h1v1h-1zm-27 1h1v1h-1zm26 0h2v1h-2zm-27 1h1v1h-1zm29 0h1v1h-1zm0 1h1v1h-1zm1 2h1v1h-1zm-30 1h1v1h-1zm29 0h3v1h-3zm-30 1h2v1h-2zm31 0h2v1h-2zm-31 1h2v1h-2zm31 0h1v1h-1zm-31 1h1v1h-1zm31 0h3v1h-3zm-32 1h2v1h-2zm33 0h1v1h-1zm1 1h2v1h-2zm-33 1h1v1h-1zm33 0h1v1h-1zm-34 1h1v1h-1zm34 0h2v1h-2zm0 1h1v1h-1zm1 1h1v1h-1zm-35 1h1v1h-1zm34 0h2v1h-2zm-35 1h1v1h-1zm0 1h1v1h-1zm2 0h1v1h-1zm32 0h1v1h-1zm4 0h1v1h-1zm-2 1h2v1h-2zm-35 1h2v1h-2zm34 0h1v1h-1zm-33 1h1v1h-1zm33 0h2v1h-2zm-33 1h1v1h-1zm32 0h1v1h-1zm-33 1h1v1h-1zm2 0h1v1h-1zm31 0h1v1h-1zm-32 1h1v1h-1zm32 0h2v1h-2zm-31 1h1v1h-1zm29 0h4v1h-4zm-29 1h2v1h-2zm30 0h1v1h-1zm-29 1h1v1h-1zm26 0h1v1h-1zm-26 1h3v1h-3zm2 1h1v1h-1zm23 0h2v1h-2zm-22 1h1v1h-1zm20 0h1v1h-1zm2 0h1v1h-1z"/>
<path transform="translate(334 192)" fill="#9cbee7" d="M0 0m27 40h1v1h-1zm-4 1h1v1h-1zm-8 13h1v1h-1zm16 0h1v1h-1zm5 1h1v1h-1zm0 11h1v1h-1zm-19 5h1v1h-1zm3 5h7v1h-7zm8 0h1v1h-1z"/>
<path transform="translate(334 192)" fill="#5d72bf" d="M0 0m23 13h1v1h-1zm3 0h1v1h-1zm6 4h1v1h-1zm-17 1h3v1h-3zm17 0h1v1h-1zm2 1h1v1h-1zm0 1h1v1h-1zm-23 5h1v1h-1zm26 0h1v1h-1zm1 2h1v1h-1zm-29 1h1v1h-1zm29 0h1v1h-1zm1 1h1v1h-1zm1 3h1v1h-1zm-33 3h1v1h-1zm36 1h2v1h-2zm-38 1h1v1h-1zm38 0h1v1h-1zm9 4h1v1h-1zm-48 4h1v1h-1zm44 0h1v1h-1zm1 1h1v1h-1zm9 2h1v1h-1zm-6 1h1v1h-1zm-49 1h1v1h-1zm52 1h1v1h-1zm3 1h1v1h-1zm4 2h1v1h-1zm-62 2h1v1h-1zm1 1h1v1h-1zm56 1h1v1h-1zm-57 2h2v1h-2zm57 1h1v1h-1zm5 0h1v1h-1zm-62 2h1v1h-1zm63 0h1v1h-1zm-62 3h1v1h-1zm56 0h1v1h-1zm-55 7h1v1h-1z"/>
<path transform="translate(334 192)" fill="#57b9af" d="M0 0m24 42h1v1h-1zm-1 1h3v1h-3zm-1 1h1v1h-1zm2 0h2v1h-2zm-2 1h1v1h-1zm-1 1h1v1h-1zm5 0h2v1h-2zm1 1h1v1h-1zm0 1h1v1h-1zm2 0h1v1h-1zm-2 1h1v1h-1zm2 0h2v1h-2zm1 1h1v1h-1zm-11 1h1v1h-1zm11 0h1v1h-1zm-12 1h2v1h-2zm13 1h2v1h-2zm-14 1h1v1h-1zm0 1h2v1h-2zm14 0h2v1h-2zm-14 1h1v1h-1zm15 0h1v1h-1zm-15 1h1v1h-1zm15 0h2v1h-2zm0 1h2v1h-2zm-15 1h1v1h-1zm0 1h1v1h-1zm16 0h1v1h-1zm-17 1h2v1h-2zm16 0h2v1h-2zm0 1h2v1h-2zm-16 1h1v1h-1zm16 0h2v1h-2zm0 1h1v1h-1zm0 1h1v1h-1zm-15 1h1v1h-1zm14 0h2v1h-2zm-14 2h2v1h-2zm12 0h2v1h-2zm2 1h1v1h-1zm-13 1h1v1h-1zm11 0h1v1h-1zm-10 2h1v1h-1zm1 1h1v1h-1zm6 0h1v1h-1zm-3 1h2v1h-2z"/>
<path transform="translate(334 192)" fill="#5d74c1" d="M0 0m23 18h2v1h-2zm4 0h2v1h-2zm-7 1h4v1h-4zm5 0h1v1h-1zm2 0h1v1h-1zm-8 1h2v1h-2zm4 0h1v1h-1zm5 0h1v1h-1zm2 2h1v1h-1zm-14 1h1v1h-1zm0 1h1v1h-1zm15 0h1v1h-1zm2 0h1v1h-1zm-18 1h1v1h-1zm18 0h1v1h-1zm-17 1h1v1h-1zm17 0h1v1h-1zm-18 1h1v1h-1zm19 0h1v1h-1zm-20 1h1v1h-1zm21 0h1v1h-1zm0 1h2v1h-2zm-22 1h2v1h-2zm22 0h1v1h-1zm-22 1h1v1h-1zm23 0h1v1h-1zm-24 1h2v1h-2zm0 1h1v1h-1zm24 0h1v1h-1zm0 1h2v1h-2zm-26 1h1v1h-1zm2 0h1v1h-1zm26 0h1v1h-1zm-27 1h1v1h-1zm26 0h2v1h-2zm-26 1h1v1h-1zm-2 2h1v1h-1zm-1 1h3v1h-3zm33 0h1v1h-1zm-1 1h1v1h-1zm-31 1h1v1h-1zm-1 1h1v1h-1zm33 0h1v1h-1zm1 1h2v1h-2zm-35 1h2v1h-2zm36 0h1v1h-1zm0 1h2v1h-2zm2 1h1v1h-1zm-1 2h2v1h-2zm2 1h1v1h-1zm-40 1h1v1h-1zm39 0h2v1h-2zm3 0h1v1h-1zm-44 1h1v1h-1zm41 0h2v1h-2zm3 0h1v1h-1zm-44 2h1v1h-1zm43 0h1v1h-1zm-42 1h1v1h-1zm43 0h2v1h-2zm-44 1h1v1h-1zm45 0h1v1h-1zm-45 1h1v1h-1zm45 0h1v1h-1zm-44 1h1v1h-1zm43 0h1v1h-1zm2 0h1v1h-1zm-46 1h1v1h-1zm0 2h1v1h-1zm46 0h1v1h-1zm0 1h1v1h-1zm-47 1h2v1h-2zm46 0h1v1h-1zm3 0h1v1h-1zm-48 1h1v1h-1zm47 0h1v1h-1zm-1 1h1v1h-1zm-47 1h2v1h-2zm2 1h1v1h-1zm43 0h2v1h-2zm2 1h1v1h-1zm-4 1h3v1h-3zm-42 1h1v1h-1zm2 0h1v1h-1zm42 0h1v1h-1zm-43 1h1v1h-1zm41 0h1v1h-1zm-2 2h3v1h-3zm-37 1h2v1h-2zm37 0h1v1h-1zm-36 1h2v1h-2zm33 0h1v1h-1z"/>
<path transform="translate(334 192)" fill="#c9d0e9" d="M0 0m22 11h2v1h-2zm-2 1h2v1h-2zm6 0h1v1h-1zm3 1h1v1h-1zm2 0h1v1h-1zm-15 1h3v1h-3zm16 0h1v1h-1zm-15 1h1v1h-1zm17 1h1v1h-1zm2 0h1v1h-1zm-22 1h1v1h-1zm20 0h1v1h-1zm2 0h1v1h-1zm0 1h1v1h-1zm1 1h1v1h-1zm-26 3h1v1h-1zm27 0h2v1h-2zm-28 1h1v1h-1zm30 0h1v1h-1zm-31 1h2v1h-2zm-1 1h1v1h-1zm0 1h1v1h-1zm32 0h1v1h-1zm-32 1h1v1h-1zm-2 2h1v1h-1zm0 1h1v1h-1zm37 0h1v1h-1zm0 1h2v1h-2zm-39 2h1v1h-1zm40 0h2v1h-2zm-39 1h1v1h-1zm40 0h1v1h-1zm-42 1h1v1h-1zm2 0h1v1h-1zm-2 1h2v1h-2zm45 0h1v1h-1zm-45 1h1v1h-1zm45 0h1v1h-1zm-46 1h2v1h-2zm46 1h2v1h-2zm6 1h2v1h-2zm0 1h1v1h-1zm2 0h1v1h-1zm-2 1h1v1h-1zm2 1h1v1h-1zm-55 1h1v1h-1zm53 0h1v1h-1zm2 0h1v1h-1zm-55 1h1v1h-1zm55 0h3v1h-3zm2 2h1v1h-1zm3 1h1v1h-1zm-61 1h1v1h-1zm59 0h1v1h-1zm3 0h1v1h-1zm-62 1h1v1h-1zm58 0h1v1h-1zm3 0h1v1h-1zm-61 1h1v1h-1zm60 0h1v1h-1zm1 1h1v1h-1zm-61 1h1v1h-1zm61 0h2v1h-2zm-1 2h1v1h-1zm3 1h1v1h-1zm-1 1h1v1h-1zm0 2h1v1h-1zm0 1h1v1h-1zm-1 3h1v1h-1zm0 1h1v1h-1zm0 1h1v1h-1zm0 2h2v1h-2zm-2 1h1v1h-1zm0 1h2v1h-2zm0 1h2v1h-2zm-59 1h1v1h-1zm58 0h3v1h-3zm0 1h2v1h-2zm-1 1h1v1h-1zm-57 1h1v1h-1zm57 0h1v1h-1zm-1 1h1v1h-1zm-55 1h1v1h-1zm53 0h1v1h-1z"/>
<path transform="translate(334 192)" fill="#dec023" d="M0 0m23 50h1v1h-1zm0 2h2v1h-2zm-1 1h1v1h-1zm2 0h1v1h-1zm-2 1h4v1h-4zm0 1h3v1h-3zm-1 1h5v1h-5zm0 1h2v1h-2zm3 0h2v1h-2zm-3 1h4v1h-4zm5 0h1v1h-1zm-5 1h6v1h-6zm0 1h4v1h-4zm0 1h6v1h-6zm1 1h4v1h-4zm-1 1h5v1h-5zm1 1h4v1h-4zm-1 1h5v1h-5zm0 1h1v1h-1zm3 0h2v1h-2zm0 1h2v1h-2zm1 1h1v1h-1zm0 2h1v1h-1zm-4 1h1v1h-1zm3 0h1v1h-1zm-2 1h2v1h-2z"/>
<path transform="translate(334 192)" fill="#284bb3" d="M0 0m22 27h1v1h-1zm3 0h1v1h-1zm-4 1h3v1h-3zm4 0h2v1h-2zm-2 1h6v1h-6zm-3 1h3v1h-3zm5 0h4v1h-4zm-1 1h1v1h-1zm3 0h1v1h-1zm2 0h1v1h-1zm-9 1h1v1h-1zm9 0h2v1h-2zm-10 1h1v1h-1zm10 0h2v1h-2zm-10 1h1v1h-1zm11 0h2v1h-2zm-12 1h1v1h-1zm11 0h1v1h-1zm2 0h2v1h-2zm-13 1h1v1h-1zm13 0h1v1h-1zm-15 1h1v1h-1zm2 0h1v1h-1zm13 0h2v1h-2zm-15 1h1v1h-1zm2 0h1v1h-1zm14 0h2v1h-2zm1 1h1v1h-1zm-18 1h2v1h-2zm18 0h1v1h-1zm-18 1h1v1h-1zm18 0h1v1h-1zm-17 1h1v1h-1zm19 0h1v1h-1zm-1 1h2v1h-2zm-20 1h1v1h-1zm-1 1h1v1h-1zm22 0h3v1h-3zm-23 2h2v1h-2zm25 0h1v1h-1zm-25 1h1v1h-1zm25 0h1v1h-1zm-26 1h2v1h-2zm26 0h1v1h-1zm-25 1h1v1h-1zm26 0h2v1h-2zm0 1h1v1h-1zm-27 1h1v1h-1zm27 0h2v1h-2zm0 1h2v1h-2zm-27 1h1v1h-1zm28 0h1v1h-1zm1 1h1v1h-1zm-30 1h1v1h-1zm29 0h2v1h-2zm-29 1h1v1h-1zm30 0h1v1h-1zm-31 1h1v1h-1zm32 0h1v1h-1zm-31 1h1v1h-1zm30 0h2v1h-2zm-30 1h1v1h-1zm30 0h3v1h-3zm-31 1h1v1h-1zm31 0h1v1h-1zm-31 1h1v1h-1zm32 0h1v1h-1zm-31 1h1v1h-1zm-1 1h2v1h-2zm31 0h3v1h-3zm1 1h1v1h-1zm-31 1h1v1h-1zm30 0h1v1h-1zm0 1h1v1h-1zm0 1h1v1h-1zm-29 1h2v1h-2zm27 0h3v1h-3zm-27 1h2v1h-2zm26 0h2v1h-2zm-25 1h1v1h-1zm26 0h1v1h-1zm-26 1h1v1h-1zm24 0h1v1h-1zm-1 1h2v1h-2zm-21 1h2v1h-2zm19 0h3v1h-3zm-18 1h2v1h-2zm17 0h2v1h-2z"/>
<path transform="translate(334 192)" fill="#5d77c5" d="M0 0m25 24h1v1h-1zm-4 1h1v1h-1zm5 0h1v1h-1zm2 0h1v1h-1zm-6 1h1v1h-1zm2 0h1v1h-1zm4 0h1v1h-1zm-4 1h1v1h-1zm2 0h3v1h-3zm-6 1h1v1h-1zm4 0h1v1h-1zm-5 1h1v1h-1zm2 0h1v1h-1zm8 1h1v1h-1zm-9 1h1v1h-1zm8 0h1v1h-1zm2 0h1v1h-1zm-11 1h1v1h-1zm12 0h1v1h-1zm-14 1h2v1h-2zm3 0h1v1h-1zm-4 1h1v1h-1zm2 0h1v1h-1zm-2 1h1v1h-1zm3 0h1v1h-1zm14 0h1v1h-1zm-3 1h1v1h-1zm-13 1h1v1h-1zm17 0h1v1h-1zm-17 1h1v1h-1zm18 0h1v1h-1zm-19 1h1v1h-1zm-2 1h1v1h-1zm20 0h1v1h-1zm1 1h1v1h-1zm-21 1h2v1h-2zm0 1h1v1h-1zm22 0h1v1h-1zm-24 1h2v1h-2zm24 0h1v1h-1zm-24 1h1v1h-1zm-1 3h1v1h-1zm25 0h1v1h-1zm2 0h1v1h-1zm-28 1h1v1h-1zm28 0h2v1h-2zm-28 1h2v1h-2zm1 1h1v1h-1zm30 2h2v1h-2zm-31 1h1v1h-1zm0 1h1v1h-1zm-1 1h1v1h-1zm32 0h1v1h-1zm0 1h1v1h-1zm2 0h1v1h-1zm-33 1h1v1h-1zm30 0h1v1h-1zm-31 1h1v1h-1zm34 0h1v1h-1zm-35 1h2v1h-2zm36 0h1v1h-1zm-3 1h1v1h-1zm3 0h1v1h-1zm-36 1h1v1h-1zm2 0h1v1h-1zm30 0h1v1h-1zm2 0h3v1h-3zm-2 1h1v1h-1zm2 0h2v1h-2zm-34 1h1v1h-1zm32 1h1v1h-1zm3 0h1v1h-1zm-35 1h1v1h-1zm31 0h1v1h-1zm2 0h1v1h-1zm-33 1h1v1h-1zm2 0h1v1h-1zm29 0h1v1h-1zm3 0h2v1h-2zm-33 1h1v1h-1zm30 0h1v1h-1zm3 0h1v1h-1zm-32 1h1v1h-1zm3 0h1v1h-1zm24 2h1v1h-1zm2 0h1v1h-1zm-26 1h1v1h-1zm25 0h3v1h-3zm-24 1h1v1h-1zm23 0h1v1h-1zm-25 1h1v1h-1zm1 1h1v1h-1z"/>
<path transform="translate(334 192)" fill="#c9cfe9" d="M0 0m26 10h1v1h-1zm-7 1h1v1h-1zm2 0h1v1h-1zm11 0h1v1h-1zm-1 1h1v1h-1zm1 1h2v1h-2zm-19 1h1v1h-1zm22 0h1v1h-1zm-21 1h1v1h-1zm20 0h1v1h-1zm-23 1h1v1h-1zm26 2h1v1h-1zm1 2h2v1h-2zm-30 1h2v1h-2zm31 0h1v1h-1zm-30 1h1v1h-1zm-1 1h1v1h-1zm33 0h1v1h-1zm0 2h1v1h-1zm1 1h1v1h-1zm-38 1h1v1h-1zm38 0h1v1h-1zm2 0h1v1h-1zm-38 1h1v1h-1zm-1 1h1v1h-1zm-1 1h1v1h-1zm-1 2h2v1h-2zm44 0h1v1h-1zm-45 1h2v1h-2zm0 1h1v1h-1zm47 0h1v1h-1zm2 0h2v1h-2zm-2 1h1v1h-1zm-48 1h2v1h-2zm51 0h1v1h-1zm5 0h1v1h-1zm-3 1h1v1h-1zm-1 1h1v1h-1zm0 1h1v1h-1zm5 0h1v1h-1zm-58 1h1v1h-1zm56 0h1v1h-1zm1 1h1v1h-1zm3 0h2v1h-2zm-3 1h2v1h-2zm2 1h1v1h-1zm5 0h1v1h-1zm-3 1h1v1h-1zm-61 1h1v1h-1zm61 2h2v1h-2zm3 0h1v1h-1zm-1 1h2v1h-2zm0 1h1v1h-1zm1 1h1v1h-1zm2 0h1v1h-1zm-1 1h1v1h-1zm0 1h1v1h-1zm-2 1h1v1h-1zm4 0h1v1h-1zm-2 1h1v1h-1zm-1 1h1v1h-1zm0 1h1v1h-1zm4 0h1v1h-1zm-3 2h1v1h-1zm-1 1h1v1h-1zm1 1h1v1h-1zm2 0h1v1h-1zm-2 2h2v1h-2zm0 2h1v1h-1zm-1 1h1v1h-1zm-1 1h1v1h-1zm2 0h1v1h-1zm0 1h1v1h-1zm-2 1h1v1h-1zm-1 1h2v1h-2zm-1 2h1v1h-1zm-1 2h1v1h-1zm-1 1h1v1h-1zm-1 1h1v1h-1zm3 0h1v1h-1z"/>
<path transform="translate(334 192)" fill="#7cc6ce" d="M0 0m28 48h1v1h-1zm-9 1h1v1h-1zm10 1h1v1h-1zm3 2h1v1h-1zm-14 1h1v1h-1zm-2 3h1v1h-1zm17 0h1v1h-1zm-1 4h1v1h-1zm-17 1h1v1h-1zm19 0h1v1h-1zm-17 3h1v1h-1zm-1 3h1v1h-1zm15 0h1v1h-1zm-3 3h1v1h-1zm-1 2h1v1h-1z"/>
<path transform="translate(334 192)" fill="#c9cfe9" d="M0 0m23 4h1v1h-1zm1 1h1v1h-1zm-1 1h1v1h-1zm4 1h1v1h-1zm12 0h1v1h-1zm-21 1h1v1h-1zm2 0h2v1h-2zm8 0h2v1h-2zm2 1h1v1h-1zm4 0h1v1h-1zm-3 1h1v1h-1zm-23 1h1v1h-1zm30 1h1v1h-1zm3 2h1v1h-1zm-33 1h1v1h-1zm-1 1h1v1h-1zm2 0h1v1h-1zm30 1h2v1h-2zm-30 1h1v1h-1zm49 0h1v1h-1zm-17 2h1v1h-1zm-39 4h1v1h-1zm0 4h2v1h-2zm65 0h1v1h-1zm-16 1h1v1h-1zm20 0h1v1h-1zm-21 1h1v1h-1zm10 0h1v1h-1zm-11 1h1v1h-1zm3 0h1v1h-1zm-1 1h1v1h-1zm7 0h1v1h-1zm3 0h1v1h-1zm-7 1h1v1h-1zm2 0h1v1h-1zm4 1h2v1h-2zm8 0h1v1h-1zm-5 1h1v1h-1zm-3 1h1v1h-1zm4 2h1v1h-1zm-2 1h1v1h-1zm2 0h1v1h-1zm-2 1h1v1h-1zm1 2h1v1h-1zm4 2h1v1h-1zm3 0h1v1h-1zm-3 1h1v1h-1zm0 2h1v1h-1zm4 0h1v1h-1zm-2 2h1v1h-1zm2 2h1v1h-1zm8 0h1v1h-1zm-7 3h1v1h-1zm3 4h1v1h-1zm-7 3h1v1h-1zm3 0h1v1h-1zm3 1h1v1h-1zm-5 4h1v1h-1zm-3 1h1v1h-1zm8 0h1v1h-1zm0 1h1v1h-1zm-4 3h1v1h-1zm-6 3h1v1h-1zm2 0h1v1h-1z"/>
<path transform="translate(334 192)" fill="#2845ab" d="M0 0m24 14h1v1h-1zm-4 2h1v1h-1zm0 1h1v1h-1zm3 0h1v1h-1zm-2 1h1v1h-1zm13 0h1v1h-1zm-16 1h2v1h-2zm13 0h1v1h-1zm-15 1h1v1h-1zm14 0h1v1h-1zm-13 1h1v1h-1zm19 0h1v1h-1zm-4 1h1v1h-1zm-18 3h1v1h-1zm0 1h1v1h-1zm0 1h1v1h-1zm23 2h2v1h-2zm0 2h1v1h-1zm0 1h1v1h-1zm2 0h1v1h-1zm-28 1h1v1h-1zm-2 2h1v1h-1zm-1 2h1v1h-1zm2 1h1v1h-1zm30 0h1v1h-1zm0 1h1v1h-1zm-36 1h1v1h-1zm4 1h1v1h-1zm33 0h1v1h-1zm-37 1h1v1h-1zm0 1h1v1h-1zm38 0h1v1h-1zm-35 1h1v1h-1zm39 1h1v1h-1zm3 3h1v1h-1zm-2 1h1v1h-1zm-42 2h1v1h-1zm42 0h1v1h-1zm9 0h1v1h-1zm-51 1h1v1h-1zm0 1h1v1h-1zm44 0h1v1h-1zm2 0h1v1h-1zm0 1h1v1h-1zm4 0h1v1h-1zm-3 1h1v1h-1zm-1 3h1v1h-1zm0 2h1v1h-1zm3 0h2v1h-2zm-3 1h1v1h-1zm-48 3h1v1h-1zm50 0h1v1h-1zm-53 2h1v1h-1zm51 0h1v1h-1zm5 0h1v1h-1zm-53 1h1v1h-1zm48 0h1v1h-1zm1 1h2v1h-2zm-49 3h1v1h-1zm45 0h1v1h-1zm2 1h2v1h-2zm-44 2h1v1h-1zm1 1h1v1h-1zm36 0h1v1h-1z"/>
<path transform="translate(334 192)" fill="#c9d0e9" d="M0 0m21 13h1v1h-1zm3 0h1v1h-1zm4 0h1v1h-1zm-3 1h1v1h-1zm5 0h1v1h-1zm1 1h1v1h-1zm-13 1h1v1h-1zm15 0h1v1h-1zm-20 4h2v1h-2zm1 1h1v1h-1zm23 0h1v1h-1zm-25 1h1v1h-1zm24 0h1v1h-1zm-24 1h1v1h-1zm26 0h1v1h-1zm-1 1h2v1h-2zm-28 2h1v1h-1zm0 1h2v1h-2zm31 0h1v1h-1zm0 1h1v1h-1zm-33 1h3v1h-3zm34 0h1v1h-1zm1 1h1v1h-1zm-34 1h1v1h-1zm33 0h1v1h-1zm-35 2h2v1h-2zm1 1h1v1h-1zm36 1h1v1h-1zm-37 1h1v1h-1zm40 1h2v1h-2zm1 1h1v1h-1zm-42 1h1v1h-1zm0 1h1v1h-1zm42 0h2v1h-2zm-44 1h1v1h-1zm45 0h1v1h-1zm-45 1h1v1h-1zm46 0h1v1h-1zm2 0h2v1h-2zm-48 1h1v1h-1zm47 0h1v1h-1zm-47 1h1v1h-1zm49 0h1v1h-1zm-51 2h1v1h-1zm50 0h5v1h-5zm-50 1h1v1h-1zm53 0h1v1h-1zm3 1h1v1h-1zm-3 1h2v1h-2zm4 0h1v1h-1zm-57 1h1v1h-1zm58 0h1v1h-1zm-58 1h1v1h-1zm58 1h1v1h-1zm-3 1h1v1h-1zm2 0h1v1h-1zm-58 1h1v1h-1zm58 0h2v1h-2zm-58 1h1v1h-1zm58 1h2v1h-2zm-58 1h1v1h-1zm58 0h1v1h-1zm1 1h1v1h-1zm-1 1h1v1h-1zm2 1h1v1h-1zm-60 1h1v1h-1zm61 0h1v1h-1zm-4 4h1v1h-1zm3 1h1v1h-1zm-2 1h1v1h-1zm-2 2h1v1h-1zm-56 3h2v1h-2zm56 0h1v1h-1zm-56 1h1v1h-1zm54 0h1v1h-1zm-2 1h1v1h-1zm3 0h2v1h-2zm-55 1h1v1h-1zm54 0h1v1h-1zm-52 1h3v1h-3z"/>
<path transform="translate(334 192)" fill="#658ed5" d="M0 0m23 35h1v1h-1zm2 0h1v1h-1zm-2 1h1v1h-1zm4 0h2v1h-2zm-7 1h1v1h-1zm2 0h1v1h-1zm4 1h2v1h-2zm-7 2h1v1h-1zm10 0h1v1h-1zm2 1h1v1h-1zm-1 1h1v1h-1zm-15 4h1v1h-1zm18 2h1v1h-1zm1 2h1v1h-1zm-20 2h1v1h-1zm-2 8h1v1h-1zm24 1h1v1h-1zm-23 3h1v1h-1zm1 4h1v1h-1zm21 1h1v1h-1zm-2 2h1v1h-1zm-16 1h1v1h-1zm-1 1h1v1h-1zm13 1h1v1h-1zm-9 1h1v1h-1z"/>
<path transform="translate(334 192)" fill="#2b56ba" d="M0 0m24 30h1v1h-1zm1 1h2v1h-2zm-3 1h1v1h-1zm2 0h2v1h-2zm1 1h4v1h-4zm2 1h1v1h-1zm-6 1h1v1h-1zm5 0h1v1h-1zm-6 1h1v1h-1zm10 1h1v1h-1zm0 1h1v1h-1zm2 1h1v1h-1zm-15 1h1v1h-1zm0 1h1v1h-1zm15 0h1v1h-1zm1 1h1v1h-1zm-17 1h1v1h-1zm18 1h1v1h-1zm0 1h1v1h-1zm-20 1h1v1h-1zm0 1h1v1h-1zm21 0h1v1h-1zm-22 4h1v1h-1zm0 1h1v1h-1zm24 0h1v1h-1zm-25 1h1v1h-1zm-1 3h2v1h-2zm27 0h1v1h-1zm-27 1h1v1h-1zm27 0h2v1h-2zm-27 1h1v1h-1zm0 1h1v1h-1zm28 0h1v1h-1zm0 1h1v1h-1zm0 1h1v1h-1zm0 2h1v1h-1zm0 1h1v1h-1zm-27 3h1v1h-1zm-1 1h1v1h-1zm26 1h1v1h-1zm-24 1h1v1h-1zm22 1h1v1h-1zm-20 2h1v1h-1zm1 1h1v1h-1z"/>
<path transform="translate(334 192)" fill="#6080cb" d="M0 0m23 30h1v1h-1zm-1 3h1v1h-1zm0 1h3v1h-3zm7 0h1v1h-1zm-1 1h1v1h-1zm-7 1h1v1h-1zm8 0h1v1h-1zm-10 1h1v1h-1zm2 0h1v1h-1zm8 0h1v1h-1zm2 1h1v1h-1zm-13 2h1v1h-1zm13 0h1v1h-1zm2 3h1v1h-1zm-18 1h1v1h-1zm0 1h1v1h-1zm-2 3h1v1h-1zm22 0h1v1h-1zm-22 2h1v1h-1zm22 0h1v1h-1zm1 1h1v1h-1zm1 2h1v1h-1zm-1 1h1v1h-1zm-24 1h1v1h-1zm-1 6h1v1h-1zm27 3h1v1h-1zm-26 4h1v1h-1zm24 1h1v1h-1zm0 1h1v1h-1zm-3 3h1v1h-1zm-16 2h1v1h-1z"/>
<path transform="translate(334 192)" fill="#c9d0ea" d="M0 0m28 17h1v1h-1zm-9 1h1v1h-1zm10 0h1v1h-1zm-2 2h1v1h-1zm3 1h1v1h-1zm2 0h2v1h-2zm1 2h1v1h-1zm-18 1h1v1h-1zm0 2h1v1h-1zm19 0h2v1h-2zm-21 1h1v1h-1zm0 1h1v1h-1zm-1 1h1v1h-1zm2 0h1v1h-1zm-2 2h1v1h-1zm-1 1h1v1h-1zm28 2h2v1h-2zm-2 1h1v1h-1zm2 0h1v1h-1zm0 1h2v1h-2zm0 1h2v1h-2zm-32 2h1v1h-1zm34 0h1v1h-1zm-34 3h1v1h-1zm-1 1h1v1h-1zm2 1h1v1h-1zm1 1h1v1h-1zm32 0h1v1h-1zm3 0h2v1h-2zm2 4h1v1h-1zm3 0h1v1h-1zm-2 1h1v1h-1zm2 0h1v1h-1zm0 1h1v1h-1zm0 1h2v1h-2zm3 2h1v1h-1zm2 1h1v1h-1zm-2 1h1v1h-1zm-50 1h2v1h-2zm52 0h1v1h-1zm-52 1h1v1h-1zm48 1h1v1h-1zm2 0h2v1h-2zm-50 1h2v1h-2zm0 2h1v1h-1zm3 0h1v1h-1zm50 0h1v1h-1zm-1 1h1v1h-1zm-3 2h1v1h-1zm-49 1h1v1h-1zm1 3h1v1h-1zm48 0h1v1h-1zm0 1h1v1h-1zm-47 3h1v1h-1zm43 0h1v1h-1zm-1 1h1v1h-1zm0 1h1v1h-1zm-37 1h1v1h-1zm2 0h1v1h-1zm28 0h2v1h-2zm4 0h1v1h-1z"/>
<path transform="translate(334 192)" fill="#2848af" d="M0 0m24 21h1v1h-1zm2 0h1v1h-1zm-4 1h1v1h-1zm2 0h1v1h-1zm3 0h1v1h-1zm-6 1h1v1h-1zm3 0h6v1h-6zm-4 1h1v1h-1zm8 0h2v1h-2zm-10 1h1v1h-1zm11 0h3v1h-3zm2 1h1v1h-1zm-14 1h2v1h-2zm14 0h1v1h-1zm-15 1h3v1h-3zm15 0h2v1h-2zm2 1h1v1h-1zm-17 1h2v1h-2zm16 0h2v1h-2zm-16 1h1v1h-1zm16 0h1v1h-1zm-16 1h1v1h-1zm18 0h1v1h-1zm-19 1h2v1h-2zm18 0h2v1h-2zm-18 1h1v1h-1zm19 0h2v1h-2zm1 1h1v1h-1zm0 1h2v1h-2zm-22 1h1v1h-1zm0 1h1v1h-1zm23 0h1v1h-1zm-24 1h1v1h-1zm24 0h1v1h-1zm-25 1h1v1h-1zm25 0h3v1h-3zm1 1h2v1h-2zm-27 1h1v1h-1zm28 0h1v1h-1zm-27 1h1v1h-1zm27 0h2v1h-2zm-28 1h2v1h-2zm28 0h2v1h-2zm-28 1h1v1h-1zm30 0h1v1h-1zm-1 1h3v1h-3zm-30 1h1v1h-1zm0 1h1v1h-1zm31 1h1v1h-1zm1 1h1v1h-1zm1 1h2v1h-2zm-34 1h1v1h-1zm35 0h2v1h-2zm-36 1h2v1h-2zm36 0h1v1h-1zm-36 1h1v1h-1zm36 1h1v1h-1zm2 0h1v1h-1zm-38 1h1v1h-1zm37 0h2v1h-2zm0 1h1v1h-1zm2 0h1v1h-1zm-39 1h1v1h-1zm37 0h1v1h-1zm0 1h2v1h-2zm-38 1h2v1h-2zm39 0h3v1h-3zm-38 1h1v1h-1zm-1 1h1v1h-1zm39 0h2v1h-2zm1 1h1v1h-1zm-40 1h2v1h-2zm39 0h1v1h-1zm-39 1h2v1h-2zm38 0h2v1h-2zm-38 1h2v1h-2zm39 0h2v1h-2zm-39 1h1v1h-1zm38 0h1v1h-1zm-37 1h1v1h-1zm36 0h1v1h-1zm2 0h1v1h-1zm-38 1h2v1h-2zm36 0h2v1h-2zm-36 1h2v1h-2zm36 0h2v1h-2zm-34 1h1v1h-1zm32 0h4v1h-4zm-32 1h2v1h-2zm32 0h2v1h-2zm-1 1h3v1h-3zm-29 1h1v1h-1zm27 0h1v1h-1zm-27 1h2v1h-2z"/>
<path transform="translate(334 192)" fill="#4aacd0" d="M0 0m22 41h1v1h-1zm3 0h1v1h-1zm-2 1h1v1h-1zm2 0h1v1h-1zm-4 1h2v1h-2zm5 0h2v1h-2zm-5 1h1v1h-1zm5 0h1v1h-1zm-6 1h2v1h-2zm6 0h3v1h-3zm-6 1h1v1h-1zm8 0h1v1h-1zm-9 1h2v1h-2zm10 0h1v1h-1zm-10 1h1v1h-1zm11 0h1v1h-1zm-12 1h1v1h-1zm13 0h1v1h-1zm-13 1h1v1h-1zm13 0h1v1h-1zm-13 1h1v1h-1zm13 0h2v1h-2zm0 1h1v1h-1zm-14 1h1v1h-1zm-1 1h1v1h-1zm16 0h1v1h-1zm-16 1h1v1h-1zm18 2h1v1h-1zm-18 2h1v1h-1zm17 0h2v1h-2zm-18 1h2v1h-2zm1 2h1v1h-1zm18 0h1v1h-1zm-19 1h1v1h-1zm1 1h1v1h-1zm17 0h2v1h-2zm-17 1h2v1h-2zm17 0h1v1h-1zm-17 1h1v1h-1zm17 0h2v1h-2zm-16 1h1v1h-1zm15 0h2v1h-2zm-1 1h2v1h-2zm-14 1h1v1h-1zm13 0h1v1h-1zm2 0h1v1h-1zm-2 1h1v1h-1zm-12 1h1v1h-1zm10 0h2v1h-2zm3 0h1v1h-1zm-4 2h1v1h-1zm-6 1h2v1h-2zm4 0h1v1h-1z"/>
<path transform="translate(334 192)" fill="#c9d0e9" d="M0 0m22 14h2v1h-2zm4 0h1v1h-1zm-7 1h1v1h-1zm4 0h2v1h-2zm3 0h1v1h-1zm2 0h2v1h-2zm-1 1h1v1h-1zm2 0h1v1h-1zm-12 1h1v1h-1zm14 0h1v1h-1zm-13 1h1v1h-1zm-3 1h1v1h-1zm17 0h2v1h-2zm3 0h1v1h-1zm0 1h1v1h-1zm-22 1h1v1h-1zm0 1h1v1h-1zm0 1h1v1h-1zm22 0h2v1h-2zm-23 1h1v1h-1zm24 0h1v1h-1zm-24 1h1v1h-1zm-2 1h2v1h-2zm2 2h1v1h-1zm-3 2h2v1h-2zm0 1h1v1h-1zm32 1h2v1h-2zm-32 1h1v1h-1zm31 0h3v1h-3zm-32 1h1v1h-1zm34 1h1v1h-1zm-35 1h1v1h-1zm34 0h1v1h-1zm-34 1h1v1h-1zm-2 1h1v1h-1zm38 0h1v1h-1zm0 1h1v1h-1zm2 0h1v1h-1zm0 1h2v1h-2zm-41 1h1v1h-1zm42 0h2v1h-2zm-41 1h1v1h-1zm40 0h1v1h-1zm1 1h1v1h-1zm2 0h1v1h-1zm0 1h1v1h-1zm3 1h1v1h-1zm-2 2h1v1h-1zm4 0h1v1h-1zm-51 1h2v1h-2zm49 0h3v1h-3zm-48 1h1v1h-1zm48 0h1v1h-1zm2 0h1v1h-1zm-51 1h1v1h-1zm50 0h1v1h-1zm2 0h1v1h-1zm2 0h1v1h-1zm-4 1h1v1h-1zm-50 1h1v1h-1zm52 1h1v1h-1zm2 1h1v1h-1zm-53 1h1v1h-1zm-2 1h1v1h-1zm56 0h1v1h-1zm-1 1h2v1h-2zm-1 1h1v1h-1zm-54 1h1v1h-1zm55 0h1v1h-1zm0 1h2v1h-2zm-54 1h1v1h-1zm54 0h1v1h-1zm2 0h1v1h-1zm-58 1h1v1h-1zm58 0h1v1h-1zm-4 2h1v1h-1zm-54 1h1v1h-1zm56 0h1v1h-1zm-56 2h1v1h-1zm53 0h1v1h-1zm3 0h1v1h-1zm-55 1h1v1h-1zm55 0h1v1h-1zm-2 1h1v1h-1zm-52 1h1v1h-1zm51 0h1v1h-1zm2 0h2v1h-2zm-2 1h1v1h-1zm-50 1h1v1h-1zm49 0h1v1h-1zm3 0h1v1h-1zm-52 1h1v1h-1zm47 1h2v1h-2zm3 0h1v1h-1zm-48 1h1v1h-1zm46 0h1v1h-1zm-46 1h1v1h-1zm45 0h1v1h-1z"/>
<path transform="translate(334 192)" fill="#2e5fc0" d="M0 0m26 32h1v1h-1zm-3 1h1v1h-1zm3 1h1v1h-1zm-4 1h1v1h-1zm5 0h1v1h-1zm-8 3h1v1h-1zm10 0h1v1h-1zm-11 1h1v1h-1zm11 0h2v1h-2zm-13 5h2v1h-2zm17 0h1v1h-1zm0 1h1v1h-1zm0 1h2v1h-2zm-19 3h1v1h-1zm21 0h1v1h-1zm1 1h1v1h-1zm-22 1h1v1h-1zm21 0h1v1h-1zm-22 2h1v1h-1zm23 0h1v1h-1zm-23 1h1v1h-1zm24 0h1v1h-1zm0 1h1v1h-1zm-25 2h1v1h-1zm0 1h1v1h-1zm26 0h1v1h-1zm0 1h1v1h-1zm0 1h1v1h-1zm-26 1h1v1h-1zm26 0h1v1h-1zm0 1h1v1h-1zm-26 1h1v1h-1zm26 0h1v1h-1zm-27 1h2v1h-2zm27 1h1v1h-1zm0 1h1v1h-1zm-25 2h1v1h-1zm1 2h1v1h-1zm20 1h1v1h-1zm-19 1h2v1h-2zm18 0h2v1h-2zm-1 1h1v1h-1zm-15 1h2v1h-2zm14 0h1v1h-1zm-12 1h1v1h-1zm8 0h1v1h-1zm3 0h1v1h-1z"/>
<path transform="translate(334 192)" fill="#2846ad" d="M0 0m25 18h1v1h-1zm-1 1h1v1h-1zm2 0h1v1h-1zm2 0h1v1h-1zm-7 1h2v1h-2zm4 0h2v1h-2zm4 0h1v1h-1zm-10 1h1v1h-1zm3 0h1v1h-1zm3 0h1v1h-1zm2 0h2v1h-2zm-9 1h2v1h-2zm10 0h1v1h-1zm3 0h1v1h-1zm-14 1h3v1h-3zm14 0h1v1h-1zm-14 1h2v1h-2zm15 0h1v1h-1zm-15 1h1v1h-1zm15 0h1v1h-1zm-16 2h1v1h-1zm0 2h1v1h-1zm18 0h1v1h-1zm-19 1h1v1h-1zm20 1h1v1h-1zm-21 1h1v1h-1zm22 0h1v1h-1zm-25 2h1v1h-1zm3 0h1v1h-1zm-1 1h1v1h-1zm23 0h1v1h-1zm-24 1h2v1h-2zm-2 1h1v1h-1zm2 0h1v1h-1zm25 0h1v1h-1zm-27 2h2v1h-2zm28 0h2v1h-2zm1 1h1v1h-1zm-29 1h1v1h-1zm-2 1h1v1h-1zm32 0h1v1h-1zm1 2h1v1h-1zm-34 2h2v1h-2zm35 0h1v1h-1zm0 1h1v1h-1zm-35 1h2v1h-2zm0 1h1v1h-1zm35 0h2v1h-2zm-36 1h2v1h-2zm37 0h1v1h-1zm-36 1h1v1h-1zm37 0h1v1h-1zm-38 1h1v1h-1zm39 1h2v1h-2zm3 0h1v1h-1zm-43 1h1v1h-1zm40 0h2v1h-2zm3 0h2v1h-2zm-42 1h1v1h-1zm40 0h2v1h-2zm-41 1h1v1h-1zm43 0h1v1h-1zm-1 1h1v1h-1zm-43 1h1v1h-1zm43 0h1v1h-1zm2 0h1v1h-1zm-44 1h1v1h-1zm44 0h1v1h-1zm-45 1h2v1h-2zm45 0h1v1h-1zm0 1h1v1h-1zm-45 1h1v1h-1zm44 0h2v1h-2zm3 0h1v1h-1zm-46 1h1v1h-1zm46 0h1v1h-1zm-46 1h1v1h-1zm42 0h3v1h-3zm-43 1h2v1h-2zm44 0h2v1h-2zm-43 1h1v1h-1zm42 0h2v1h-2zm-1 1h2v1h-2zm-41 1h1v1h-1zm41 0h3v1h-3zm-41 1h1v1h-1zm40 1h1v1h-1zm2 0h1v1h-1zm-41 1h2v1h-2zm39 0h1v1h-1zm-39 1h3v1h-3zm37 0h1v1h-1zm-36 1h1v1h-1zm2 0h1v1h-1zm34 0h1v1h-1zm0 1h1v1h-1zm-33 1h1v1h-1zm32 0h1v1h-1z"/>
<path transform="translate(334 192)" fill="#c9d1eb" d="M0 0m19 31h1v1h-1zm-2 4h1v1h-1zm-8 16h1v1h-1zm-1 8h1v1h-1zm27 16h1v1h-1zm-18 1h1v1h-1zm15 0h1v1h-1zm3 0h1v1h-1z"/>
<path transform="translate(334 192)" fill="#387bd2" d="M0 0m24 36h2v1h-2zm-1 1h3v1h-3zm-1 1h1v1h-1zm2 0h2v1h-2zm4 0h1v1h-1zm-7 1h2v1h-2zm3 0h4v1h-4zm-4 1h3v1h-3zm0 1h1v1h-1zm8 0h3v1h-3zm-9 1h2v1h-2zm8 0h1v1h-1zm2 0h1v1h-1zm-11 1h2v1h-2zm12 0h1v1h-1zm-12 1h1v1h-1zm13 0h1v1h-1zm-14 2h1v1h-1zm15 0h1v1h-1zm0 1h2v1h-2zm-16 1h2v1h-2zm16 0h1v1h-1zm-16 1h1v1h-1zm-1 1h2v1h-2zm0 1h1v1h-1zm18 0h2v1h-2zm-18 1h1v1h-1zm19 0h2v1h-2zm1 1h1v1h-1zm-21 1h1v1h-1zm20 1h2v1h-2zm-20 1h1v1h-1zm22 0h1v1h-1zm-23 1h2v1h-2zm0 1h2v1h-2zm23 0h1v1h-1zm-23 1h1v1h-1zm23 0h1v1h-1zm-22 1h1v1h-1zm23 1h1v1h-1zm-24 1h1v1h-1zm23 0h2v1h-2zm-23 1h1v1h-1zm23 0h1v1h-1zm-22 1h1v1h-1zm22 0h1v1h-1zm-23 1h1v1h-1zm22 0h2v1h-2zm-21 1h1v1h-1zm21 0h1v1h-1zm0 1h1v1h-1zm-1 1h2v1h-2zm-19 1h2v1h-2zm19 0h1v1h-1zm-18 1h1v1h-1zm16 1h1v1h-1zm-1 1h1v1h-1zm-13 1h1v1h-1zm11 0h2v1h-2zm-10 1h1v1h-1zm8 0h2v1h-2zm-6 1h2v1h-2zm4 0h2v1h-2z"/>
<path transform="translate(334 192)" fill="#e74e17" d="M0 0m23 57h1v1h-1zm-1 9h2v1h-2zm-1 1h3v1h-3zm0 1h4v1h-4zm0 1h5v1h-5zm0 1h4v1h-4zm1 1h2v1h-2z"/>
<path transform="translate(334 192)" fill="#6ac381" d="M0 0m23 44h1v1h-1zm0 1h3v1h-3zm-1 1h1v1h-1zm3 0h1v1h-1zm-4 1h1v1h-1zm5 0h1v1h-1zm2 0h1v1h-1zm-8 1h2v1h-2zm6 0h1v1h-1zm-6 1h1v1h-1zm8 0h1v1h-1zm-9 1h1v1h-1zm9 0h1v1h-1zm-8 1h1v1h-1zm7 0h1v1h-1zm2 0h1v1h-1zm0 1h2v1h-2zm-10 1h1v1h-1zm11 0h1v1h-1zm-12 1h2v1h-2zm11 0h2v1h-2zm-10 1h1v1h-1zm11 0h1v1h-1zm-12 1h2v1h-2zm12 0h2v1h-2zm-14 1h1v1h-1zm2 0h1v1h-1zm13 0h1v1h-1zm-14 1h2v1h-2zm14 0h1v1h-1zm-12 1h1v1h-1zm12 0h2v1h-2zm0 1h1v1h-1zm0 1h1v1h-1zm-14 1h1v1h-1zm14 0h1v1h-1zm-14 1h2v1h-2zm13 1h2v1h-2zm-12 1h1v1h-1zm12 0h2v1h-2zm-12 1h1v1h-1zm11 0h1v1h-1zm-11 1h1v1h-1zm11 0h2v1h-2zm-1 1h1v1h-1zm-10 1h1v1h-1zm11 0h1v1h-1zm-2 2h1v1h-1zm-1 1h1v1h-1zm-1 1h1v1h-1z"/>
<path transform="translate(334 192)" fill="#a8cf35" d="M0 0m23 48h1v1h-1zm-1 1h2v1h-2zm2 1h2v1h-2zm-2 1h3v1h-3zm-1 1h2v1h-2zm4 0h1v1h-1zm-2 1h1v1h-1zm2 0h1v1h-1zm2 0h1v1h-1zm-6 1h1v1h-1zm5 0h1v1h-1zm-5 1h1v1h-1zm4 0h2v1h-2zm1 1h1v1h-1zm2 0h1v1h-1zm-2 1h1v1h-1zm2 0h2v1h-2zm-8 1h1v1h-1zm5 0h1v1h-1zm2 0h1v1h-1zm-7 1h1v1h-1zm7 0h2v1h-2zm-7 1h1v1h-1zm5 0h2v1h-2zm3 0h1v1h-1zm-8 1h1v1h-1zm7 0h2v1h-2zm-7 1h2v1h-2zm6 0h3v1h-3zm-6 1h1v1h-1zm6 0h3v1h-3zm-5 1h1v1h-1zm5 0h2v1h-2zm-6 1h1v1h-1zm6 0h2v1h-2zm-6 1h1v1h-1zm6 0h1v1h-1zm-6 1h1v1h-1zm6 0h1v1h-1zm-6 1h1v1h-1zm6 0h1v1h-1zm-6 1h1v1h-1zm6 0h1v1h-1zm-6 1h1v1h-1zm6 0h1v1h-1zm-6 1h1v1h-1zm5 0h1v1h-1zm-4 1h1v1h-1zm3 0h1v1h-1z"/>
<path transform="translate(334 192)" fill="#5d75c2" d="M0 0m24 20h1v1h-1zm-4 1h2v1h-2zm3 0h1v1h-1zm-3 1h2v1h-2zm3 0h1v1h-1zm2 0h2v1h-2zm4 0h1v1h-1zm-6 1h1v1h-1zm7 1h1v1h-1zm-13 2h2v1h-2zm13 0h1v1h-1zm2 0h1v1h-1zm0 1h2v1h-2zm-17 2h1v1h-1zm2 0h2v1h-2zm17 1h1v1h-1zm-19 1h1v1h-1zm18 0h2v1h-2zm0 1h1v1h-1zm-20 1h1v1h-1zm22 0h1v1h-1zm-22 1h1v1h-1zm1 1h1v1h-1zm20 0h1v1h-1zm-20 2h1v1h-1zm21 0h2v1h-2zm3 0h1v1h-1zm-27 1h2v1h-2zm26 0h1v1h-1zm-24 1h1v1h-1zm24 0h1v1h-1zm-25 2h1v1h-1zm-1 1h1v1h-1zm28 0h1v1h-1zm-30 1h2v1h-2zm0 1h1v1h-1zm30 1h1v1h-1zm-30 1h2v1h-2zm-1 1h1v1h-1zm32 0h2v1h-2zm-30 1h1v1h-1zm30 0h4v1h-4zm-32 1h2v1h-2zm33 0h1v1h-1zm-33 1h1v1h-1zm34 0h1v1h-1zm2 0h1v1h-1zm-36 1h1v1h-1zm-1 1h1v1h-1zm35 0h1v1h-1zm-36 1h1v1h-1zm0 1h1v1h-1zm2 0h1v1h-1zm36 0h1v1h-1zm-2 1h1v1h-1zm2 0h1v1h-1zm-38 1h1v1h-1zm2 0h1v1h-1zm38 0h1v1h-1zm-40 1h2v1h-2zm39 0h1v1h-1zm3 0h1v1h-1zm-42 1h1v1h-1zm39 0h2v1h-2zm-39 1h2v1h-2zm40 0h2v1h-2zm2 1h1v1h-1zm-43 1h2v1h-2zm40 0h3v1h-3zm-39 2h1v1h-1zm38 0h1v1h-1zm3 0h2v1h-2zm-1 2h2v1h-2zm-2 1h1v1h-1zm-37 1h1v1h-1zm38 0h1v1h-1zm-39 1h1v1h-1zm38 0h1v1h-1zm-38 1h1v1h-1zm39 0h1v1h-1zm-36 1h1v1h-1zm37 0h1v1h-1zm-38 1h1v1h-1zm36 1h1v1h-1zm-34 1h1v1h-1zm28 0h2v1h-2zm-29 1h2v1h-2zm31 0h1v1h-1zm2 0h1v1h-1zm-5 1h4v1h-4z"/>
<path transform="translate(334 192)" fill="#4094da" d="M0 0m23 39h1v1h-1zm1 1h1v1h-1zm-3 1h1v1h-1zm3 0h1v1h-1zm2 0h2v1h-2zm-5 1h2v1h-2zm5 0h1v1h-1zm2 0h1v1h-1zm0 1h2v1h-2zm-9 1h2v1h-2zm8 0h4v1h-4zm-8 1h1v1h-1zm10 0h3v1h-3zm-11 1h2v1h-2zm11 0h3v1h-3zm-11 1h1v1h-1zm12 0h2v1h-2zm-12 1h1v1h-1zm13 0h1v1h-1zm-14 1h1v1h-1zm15 0h2v1h-2zm-15 1h1v1h-1zm15 0h2v1h-2zm-16 1h2v1h-2zm0 1h1v1h-1zm17 0h1v1h-1zm0 1h2v1h-2zm0 1h1v1h-1zm2 0h1v1h-1zm-20 1h1v1h-1zm18 0h1v1h-1zm-18 1h1v1h-1zm20 0h1v1h-1zm-20 2h2v1h-2zm0 1h1v1h-1zm20 0h1v1h-1zm-1 1h2v1h-2zm1 1h1v1h-1zm-21 1h2v1h-2zm21 0h1v1h-1zm-1 1h2v1h-2zm-19 1h1v1h-1zm20 0h1v1h-1zm-21 1h2v1h-2zm20 0h1v1h-1zm-19 1h1v1h-1zm0 1h1v1h-1zm19 0h1v1h-1zm-19 1h2v1h-2zm2 2h1v1h-1zm14 0h2v1h-2zm-1 1h1v1h-1zm-2 1h3v1h-3zm-9 1h1v1h-1zm9 0h1v1h-1zm-8 1h1v1h-1zm6 0h1v1h-1zm-3 1h2v1h-2z"/>
<path transform="translate(334 192)" fill="#2950b6" d="M0 0m22 29h1v1h-1zm-1 2h3v1h-3zm0 1h1v1h-1zm2 0h1v1h-1zm4 0h2v1h-2zm-6 1h1v1h-1zm-1 1h2v1h-2zm8 0h1v1h-1zm-8 1h1v1h-1zm10 0h1v1h-1zm-13 4h1v1h-1zm14 0h1v1h-1zm1 1h1v1h-1zm-16 1h1v1h-1zm18 0h1v1h-1zm0 1h1v1h-1zm-19 1h1v1h-1zm20 1h1v1h-1zm-21 1h1v1h-1zm-1 1h1v1h-1zm22 0h2v1h-2zm1 1h1v1h-1zm-22 1h1v1h-1zm-1 1h1v1h-1zm23 0h1v1h-1zm1 1h1v1h-1zm-25 1h1v1h-1zm25 0h1v1h-1zm-25 1h1v1h-1zm-1 1h1v1h-1zm1 1h1v1h-1zm26 0h1v1h-1zm-27 1h1v1h-1zm27 0h1v1h-1zm1 3h1v1h-1zm-28 2h1v1h-1zm-1 1h1v1h-1zm1 1h1v1h-1zm28 0h1v1h-1zm-28 1h1v1h-1zm-1 2h2v1h-2zm29 0h1v1h-1zm-28 1h1v1h-1zm0 1h1v1h-1zm27 0h1v1h-1zm-1 1h2v1h-2zm-24 3h2v1h-2zm23 0h1v1h-1zm-22 1h1v1h-1zm21 0h1v1h-1zm-1 1h1v1h-1zm-2 1h1v1h-1zm-14 1h1v1h-1zm13 0h1v1h-1z"/></g>
<rect x="369.8" y="199.5" width="37.2" height="70.3" fill="none" stroke="#7a7a7a" stroke-width="1.2"/>
<text transform="translate(380.45 210.80) scale(1.1331 1)" font-size="9.517">c-Kit<tspan font-size="4.76" dy="-3.52" stroke-width="0.12">+</tspan></text>
<rect x="418.7" y="191.5" width="80.5" height="80.6" fill="#fff" stroke="#7f7f7f" stroke-width="1.3"/>
<g clip-path="url(#clip01)"><path transform="translate(419 192)" fill="#cfd5ec" d="M0 0m26 58h1v1h-1zm1 2h1v1h-1zm1 1h1v1h-1zm0 2h1v1h-1zm-8 2h4v1h-4zm-1 2h1v1h-1zm2 0h1v1h-1zm3 0h1v1h-1zm3 0h1v1h-1zm-13 1h1v1h-1zm9 0h1v1h-1zm2 0h1v1h-1zm2 0h2v1h-2zm-13 1h1v1h-1zm3 0h1v1h-1zm11 0h1v1h-1zm-19 1h3v1h-3zm5 0h1v1h-1zm-9 1h1v1h-1zm26 1h1v1h-1zm3 1h1v1h-1zm1 1h1v1h-1zm-34 4h1v1h-1zm2 0h1v1h-1zm28 0h2v1h-2z"/>
<path transform="translate(419 192)" fill="#86a8dc" d="M0 0m22 73h1v1h-1zm6 2h1v1h-1zm-17 3h2v1h-2zm4 0h2v1h-2zm3 0h1v1h-1zm5 0h2v1h-2z"/>
<path transform="translate(419 192)" fill="#5e87d1" d="M0 0m24 73h1v1h-1zm2 0h1v1h-1zm1 1h1v1h-1zm2 1h1v1h-1zm-20 2h2v1h-2zm18 0h1v1h-1z"/>
<path transform="translate(419 192)" fill="#cfd5ec" d="M0 0m31 53h1v1h-1zm-5 3h2v1h-2zm7 0h1v1h-1zm-6 1h1v1h-1zm5 0h2v1h-2zm-8 1h1v1h-1zm4 0h1v1h-1zm-3 1h2v1h-2zm3 0h1v1h-1zm5 0h1v1h-1zm-8 1h2v1h-2zm7 0h1v1h-1zm-9 1h1v1h-1zm4 0h1v1h-1zm-7 1h1v1h-1zm5 0h1v1h-1zm6 0h2v1h-2zm1 1h1v1h-1zm-4 1h1v1h-1zm-13 1h1v1h-1zm14 0h2v1h-2zm-15 2h1v1h-1zm17 0h1v1h-1zm0 1h2v1h-2zm0 1h1v1h-1zm2 1h1v1h-1zm-32 1h1v1h-1zm3 0h1v1h-1zm28 0h2v1h-2zm7 3h1v1h-1zm-3 2h1v1h-1zm2 0h1v1h-1z"/>
<path transform="translate(419 192)" fill="#e7eaf5" d="M0 0m33 45h1v1h-1zm3 1h1v1h-1zm-5 1h2v1h-2zm7 0h1v1h-1zm-13 3h1v1h-1zm11 0h1v1h-1zm2 0h1v1h-1zm-11 1h2v1h-2zm4 0h1v1h-1zm3 0h1v1h-1zm2 0h3v1h-3zm-11 1h1v1h-1zm8 0h1v1h-1zm2 0h2v1h-2zm-7 1h1v1h-1zm9 0h1v1h-1zm-12 1h3v1h-3zm6 0h1v1h-1zm2 0h1v1h-1zm2 0h3v1h-3zm-10 1h3v1h-3zm10 0h2v1h-2zm-13 1h2v1h-2zm3 0h1v1h-1zm10 0h3v1h-3zm-14 1h1v1h-1zm2 0h1v1h-1zm12 0h1v1h-1zm-13 1h1v1h-1zm9 0h1v1h-1zm6 0h1v1h-1zm-16 2h1v1h-1zm16 0h1v1h-1zm-20 1h2v1h-2zm19 0h1v1h-1zm-2 1h1v1h-1zm2 0h2v1h-2zm-20 1h2v1h-2zm21 0h1v1h-1zm-24 1h1v1h-1zm23 0h1v1h-1zm-2 1h1v1h-1zm3 1h1v1h-1zm-27 1h1v1h-1zm2 0h1v1h-1zm23 1h1v1h-1zm-26 1h1v1h-1zm26 0h1v1h-1zm-33 1h1v1h-1zm32 0h1v1h-1zm2 1h1v1h-1zm3 2h1v1h-1zm1 1h1v1h-1z"/>
<path transform="translate(419 192)" fill="#cfd5ec" d="M0 0m33 47h1v1h-1zm2 1h1v1h-1zm-1 1h1v1h-1zm2 0h2v1h-2zm-2 1h1v1h-1zm-2 1h2v1h-2zm-4 1h2v1h-2zm3 0h1v1h-1zm3 0h1v1h-1zm-4 1h1v1h-1zm-1 1h1v1h-1zm-5 1h1v1h-1zm8 0h1v1h-1zm2 0h1v1h-1zm-6 1h1v1h-1zm-2 1h1v1h-1zm8 0h1v1h-1zm-9 1h1v1h-1zm8 0h3v1h-3zm-10 1h1v1h-1zm-3 1h1v1h-1zm13 0h2v1h-2zm-13 1h1v1h-1zm-2 1h2v1h-2zm0 1h1v1h-1zm-4 3h1v1h-1zm20 0h1v1h-1zm0 1h1v1h-1zm-24 1h1v1h-1zm25 2h1v1h-1zm-35 1h1v1h-1zm3 0h1v1h-1zm32 0h1v1h-1zm0 1h1v1h-1zm2 1h1v1h-1zm2 3h1v1h-1z"/>
<path transform="translate(419 192)" fill="#e7eaf5" d="M0 0m30 56h1v1h-1zm-6 4h1v1h-1zm2 1h1v1h-1zm0 2h1v1h-1zm4 1h1v1h-1zm-11 1h1v1h-1zm7 0h1v1h-1zm-3 1h1v1h-1zm-3 2h1v1h-1zm-20 4h2v1h-2zm32 0h1v1h-1zm-32 5h1v1h-1zm0 1h1v1h-1zm33 0h2v1h-2z"/>
<path transform="translate(419 192)" fill="#b7c1e2" d="M0 0m38 36h1v1h-1zm-6 4h1v1h-1zm7 3h1v1h-1zm4 0h1v1h-1zm-14 2h1v1h-1zm3 0h1v1h-1zm-3 1h1v1h-1zm10 2h1v1h-1zm-17 1h1v1h-1zm9 0h1v1h-1zm2 0h1v1h-1zm5 0h1v1h-1zm-10 1h1v1h-1zm9 0h1v1h-1zm-11 1h1v1h-1zm0 1h2v1h-2zm4 0h1v1h-1zm-5 1h2v1h-2zm4 0h1v1h-1zm3 0h1v1h-1zm2 0h2v1h-2zm6 0h1v1h-1zm-18 1h1v1h-1zm7 2h1v1h-1zm1 1h1v1h-1zm0 1h1v1h-1zm6 1h1v1h-1zm-6 1h1v1h-1zm6 0h1v1h-1zm-20 1h1v1h-1zm8 0h2v1h-2zm5 0h2v1h-2zm-5 1h1v1h-1zm2 0h2v1h-2zm3 0h1v1h-1zm6 0h1v1h-1zm8 0h1v1h-1zm-28 1h1v1h-1zm5 0h2v1h-2zm3 0h1v1h-1zm6 0h2v1h-2zm4 0h1v1h-1zm2 0h1v1h-1zm-17 1h2v1h-2zm4 0h1v1h-1zm4 0h1v1h-1zm12 0h1v1h-1zm-20 1h1v1h-1zm6 0h1v1h-1zm4 0h1v1h-1zm4 0h1v1h-1zm-21 1h2v1h-2zm8 0h1v1h-1zm6 0h1v1h-1zm3 0h3v1h-3zm4 0h1v1h-1zm3 0h1v1h-1zm-18 1h1v1h-1zm13 0h1v1h-1zm6 0h1v1h-1zm-27 1h1v1h-1zm4 0h1v1h-1zm3 0h2v1h-2zm5 0h1v1h-1zm17 0h1v1h-1zm-27 1h1v1h-1zm2 0h1v1h-1zm2 0h2v1h-2zm4 0h2v1h-2zm7 0h1v1h-1zm3 0h2v1h-2zm3 0h1v1h-1zm-24 1h1v1h-1zm4 0h2v1h-2zm6 0h2v1h-2zm4 0h1v1h-1zm5 0h2v1h-2zm3 0h1v1h-1zm6 0h1v1h-1zm-34 1h1v1h-1zm12 0h1v1h-1zm6 0h1v1h-1zm10 0h2v1h-2zm-26 1h2v1h-2zm3 0h2v1h-2zm26 0h1v1h-1zm4 0h1v1h-1zm-35 2h1v1h-1zm31 0h1v1h-1zm5 0h1v1h-1zm-3 1h1v1h-1zm3 0h1v1h-1zm-5 1h1v1h-1zm-31 1h1v1h-1zm35 0h1v1h-1zm-35 1h1v1h-1zm3 0h1v1h-1zm2 0h1v1h-1zm2 0h1v1h-1zm8 0h1v1h-1zm2 0h1v1h-1zm6 0h1v1h-1zm3 0h1v1h-1zm2 0h1v1h-1zm8 0h1v1h-1z"/>
<path transform="translate(419 192)" fill="#395cba" d="M0 0m11 71h1v1h-1zm5 1h1v1h-1zm7 0h1v1h-1zm-12 1h1v1h-1zm4 0h1v1h-1zm14 0h1v1h-1zm-26 1h1v1h-1zm2 0h1v1h-1zm24 0h1v1h-1zm1 1h2v1h-2zm-28 1h1v1h-1zm4 0h1v1h-1zm1 1h2v1h-2zm22 0h1v1h-1zm2 0h1v1h-1z"/>
<path transform="translate(419 192)" fill="#cfd5eb" d="M0 0m40 30h1v1h-1zm-4 5h1v1h-1zm-5 1h1v1h-1zm14 1h1v1h-1zm-15 2h1v1h-1zm-4 1h1v1h-1zm-7 10h1v1h-1zm24 6h1v1h-1zm-30 2h1v1h-1zm-3 2h1v1h-1zm-1 1h1v1h-1zm38 12h1v1h-1z"/>
<path transform="translate(419 192)" fill="#e7eaf5" d="M0 0m45 16h1v1h-1zm-15 6h1v1h-1zm16 1h1v1h-1zm-16 5h1v1h-1zm19 0h1v1h-1zm-8 1h1v1h-1zm-21 1h1v1h-1zm14 0h1v1h-1zm0 1h1v1h-1zm12 0h1v1h-1zm-20 1h1v1h-1zm9 0h1v1h-1zm2 0h1v1h-1zm2 0h1v1h-1zm6 1h2v1h-2zm-4 2h1v1h-1zm4 3h1v1h-1zm-18 1h1v1h-1zm19 1h1v1h-1zm-21 1h1v1h-1zm-2 1h1v1h-1zm24 0h1v1h-1zm3 1h1v1h-1zm-2 1h1v1h-1zm-39 2h1v1h-1zm38 1h2v1h-2zm4 1h1v1h-1zm-37 2h1v1h-1zm4 0h1v1h-1zm30 1h1v1h-1zm-36 1h1v1h-1zm37 0h1v1h-1zm-35 1h1v1h-1zm32 1h1v1h-1zm-36 2h1v1h-1zm37 0h1v1h-1zm-39 1h1v1h-1zm2 0h1v1h-1zm2 0h1v1h-1zm-3 1h1v1h-1zm-2 1h1v1h-1zm38 0h1v1h-1zm0 1h1v1h-1zm-39 2h1v1h-1zm42 0h1v1h-1zm-47 1h1v1h-1zm3 0h1v1h-1zm43 2h1v1h-1zm-2 1h1v1h-1zm7 0h1v1h-1zm-8 3h1v1h-1zm5 0h2v1h-2zm-3 3h1v1h-1zm1 3h1v1h-1zm1 1h1v1h-1zm-2 2h1v1h-1z"/>
<path transform="translate(419 192)" fill="#e7eaf5" d="M0 0m30 49h1v1h-1zm5 0h1v1h-1zm-2 1h1v1h-1zm-3 1h1v1h-1zm0 3h1v1h-1zm-2 1h1v1h-1zm3 1h1v1h-1zm3 0h1v1h-1zm-6 1h1v1h-1zm-5 1h1v1h-1zm6 0h1v1h-1zm3 0h1v1h-1zm-5 1h1v1h-1zm2 0h1v1h-1zm3 0h1v1h-1zm2 0h1v1h-1zm-11 1h1v1h-1zm8 0h1v1h-1zm0 1h2v1h-2zm3 0h1v1h-1zm-13 1h1v1h-1zm9 0h1v1h-1zm3 0h1v1h-1zm-2 1h1v1h-1zm5 0h1v1h-1zm-16 1h1v1h-1zm5 0h1v1h-1zm6 0h1v1h-1zm3 0h1v1h-1zm-3 1h1v1h-1zm2 0h1v1h-1zm0 1h1v1h-1zm-22 1h1v1h-1zm4 0h1v1h-1zm18 0h1v1h-1zm2 0h1v1h-1zm-5 1h1v1h-1zm3 0h1v1h-1zm1 1h1v1h-1zm-29 1h2v1h-2zm26 0h2v1h-2zm3 1h1v1h-1zm2 1h1v1h-1zm0 1h1v1h-1zm2 0h1v1h-1zm-1 1h1v1h-1z"/>
<path transform="translate(419 192)" fill="#a1b6e1" d="M0 0m19 72h1v1h-1zm-13 5h1v1h-1zm8 1h1v1h-1z"/>
<path transform="translate(419 192)" fill="#92b9e2" d="M0 0m13 78h1v1h-1zm7 0h3v1h-3z"/>
<path transform="translate(419 192)" fill="#bed8f2" d="M0 0m7 76h1v1h-1z"/>
<path transform="translate(419 192)" fill="#6f84c9" d="M0 0m32 50h1v1h-1zm1 14h1v1h-1zm-9 2h1v1h-1zm-11 1h1v1h-1zm5 1h1v1h-1zm3 1h1v1h-1zm-6 1h1v1h-1zm5 0h2v1h-2zm-11 1h1v1h-1zm7 0h1v1h-1zm5 0h1v1h-1zm-15 1h1v1h-1zm7 0h2v1h-2zm12 0h1v1h-1zm3 0h2v1h-2zm-21 1h1v1h-1zm20 0h1v1h-1zm4 0h1v1h-1zm5 1h1v1h-1zm-33 1h1v1h-1zm2 0h1v1h-1zm26 1h1v1h-1zm-28 1h1v1h-1zm2 0h1v1h-1zm25 0h1v1h-1z"/>
<path transform="translate(419 192)" fill="#a3c356" d="M0 0m13 75h1v1h-1zm2 0h1v1h-1zm8 0h2v1h-2zm-10 1h3v1h-3zm10 0h3v1h-3zm-6 1h2v1h-2zm3 0h2v1h-2z"/>
<path transform="translate(419 192)" fill="#4991cb" d="M0 0m13 73h2v1h-2zm3 0h1v1h-1zm2 0h1v1h-1zm-9 1h1v1h-1zm15 0h1v1h-1zm-15 1h2v1h-2zm18 0h1v1h-1zm-18 1h1v1h-1zm18 0h1v1h-1zm-16 1h2v1h-2z"/>
<path transform="translate(419 192)" fill="#cfd6ec" d="M0 0m18 69h1v1h-1zm9 2h1v1h-1zm5 2h2v1h-2zm-32 3h1v1h-1zm33 1h1v1h-1zm-6 1h1v1h-1zm2 0h1v1h-1z"/>
<path transform="translate(419 192)" fill="#e7eaf5" d="M0 0m33 41h1v1h-1zm-2 1h1v1h-1zm3 0h1v1h-1zm2 0h1v1h-1zm3 0h1v1h-1zm-10 1h1v1h-1zm6 0h1v1h-1zm3 1h1v1h-1zm2 0h1v1h-1zm-12 1h1v1h-1zm3 0h1v1h-1zm9 0h1v1h-1zm-12 1h1v1h-1zm4 0h1v1h-1zm2 0h1v1h-1zm4 0h1v1h-1zm2 0h2v1h-2zm-13 1h1v1h-1zm3 0h1v1h-1zm7 0h1v1h-1zm2 0h1v1h-1zm-13 1h1v1h-1zm12 0h1v1h-1zm-13 1h1v1h-1zm2 0h1v1h-1zm2 0h1v1h-1zm12 0h1v1h-1zm-18 1h1v1h-1zm3 0h2v1h-2zm-4 1h3v1h-3zm0 1h1v1h-1zm18 0h2v1h-2zm-16 1h1v1h-1zm14 0h2v1h-2zm-17 1h1v1h-1zm17 0h1v1h-1zm-18 1h1v1h-1zm19 1h1v1h-1zm-21 1h1v1h-1zm18 0h3v1h-3zm-17 1h1v1h-1zm20 0h1v1h-1zm-22 1h1v1h-1zm20 0h2v1h-2zm-19 1h1v1h-1zm22 1h1v1h-1zm-27 1h1v1h-1zm25 1h1v1h-1zm-26 1h1v1h-1zm27 0h1v1h-1zm-1 1h3v1h-3zm-32 3h2v1h-2zm31 1h1v1h-1zm-37 1h1v1h-1zm40 2h1v1h-1zm2 3h1v1h-1zm-3 3h2v1h-2z"/>
<path transform="translate(419 192)" fill="#cfd5eb" d="M0 0m34 43h1v1h-1zm2 0h1v1h-1zm-3 1h1v1h-1zm-3 1h1v1h-1zm4 0h1v1h-1zm5 0h1v1h-1zm-8 1h1v1h-1zm6 0h1v1h-1zm-9 1h2v1h-2zm1 1h1v1h-1zm8 0h1v1h-1zm3 1h1v1h-1zm-16 3h1v1h-1zm15 2h1v1h-1zm-1 4h1v1h-1zm1 1h1v1h-1zm-22 1h1v1h-1zm-3 1h1v1h-1zm0 1h2v1h-2zm25 0h1v1h-1zm-26 1h2v1h-2zm-2 2h1v1h-1zm-1 1h1v1h-1zm-2 1h1v1h-1zm-4 2h1v1h-1zm33 1h2v1h-2zm2 1h1v1h-1zm0 1h1v1h-1zm2 4h1v1h-1z"/>
<path transform="translate(419 192)" fill="#67b899" d="M0 0m13 74h3v1h-3zm9 0h1v1h-1zm-11 1h2v1h-2zm15 0h1v1h-1zm-15 1h1v1h-1zm15 0h1v1h-1zm-13 1h1v1h-1zm9 0h3v1h-3z"/>
<path transform="translate(419 192)" fill="#7092d3" d="M0 0m15 72h1v1h-1zm3 0h1v1h-1zm-8 1h1v1h-1zm2 0h1v1h-1zm13 0h1v1h-1zm-18 1h1v1h-1zm19 0h1v1h-1zm2 0h1v1h-1zm-22 1h2v1h-2zm-1 1h1v1h-1zm23 1h1v1h-1z"/>
<path transform="translate(419 192)" fill="#cfd5eb" d="M0 0m36 39h1v1h-1zm-2 1h1v1h-1zm-1 3h1v1h-1zm7 0h1v1h-1zm-13 1h1v1h-1zm4 0h1v1h-1zm8 2h1v1h-1zm1 2h1v1h-1zm-16 1h1v1h-1zm-2 4h1v1h-1zm-3 1h1v1h-1zm21 1h1v1h-1zm-35 13h1v1h-1zm33 1h1v1h-1zm4 5h1v1h-1z"/>
<path transform="translate(419 192)" fill="#d0a028" d="M0 0m14 75h1v1h-1zm2 0h7v1h-7zm0 1h7v1h-7z"/>
<path transform="translate(419 192)" fill="#9facd9" d="M0 0m27 58h1v1h-1zm-4 4h1v1h-1zm5 0h1v1h-1zm-6 1h1v1h-1zm2 0h1v1h-1zm3 0h1v1h-1zm-3 1h1v1h-1zm3 0h1v1h-1zm2 0h1v1h-1zm-2 1h1v1h-1zm-7 1h3v1h-3zm6 0h2v1h-2zm0 1h1v1h-1zm6 0h1v1h-1zm-20 1h1v1h-1zm3 0h1v1h-1zm4 0h1v1h-1zm-7 1h1v1h-1zm-6 2h1v1h-1zm23 0h1v1h-1zm-29 2h1v1h-1zm35 0h1v1h-1zm1 2h1v1h-1zm-2 2h2v1h-2z"/>
<path transform="translate(419 192)" fill="#64a2d0" d="M0 0m17 73h1v1h-1zm2 0h3v1h-3zm-9 1h3v1h-3zm15 0h1v1h-1zm-17 1h1v1h-1zm0 1h1v1h-1zm2 0h1v1h-1zm18 0h1v1h-1zm-3 1h2v1h-2z"/>
<path transform="translate(419 192)" fill="#e7eaf5" d="M0 0m34 34h2v1h-2zm-2 1h1v1h-1zm0 1h1v1h-1zm2 0h1v1h-1zm2 0h2v1h-2zm4 0h1v1h-1zm-11 1h1v1h-1zm2 0h2v1h-2zm4 0h1v1h-1zm4 0h2v1h-2zm5 0h1v1h-1zm-15 1h2v1h-2zm-1 1h2v1h-2zm11 0h1v1h-1zm2 0h2v1h-2zm-13 1h1v1h-1zm14 0h1v1h-1zm2 0h1v1h-1zm-18 1h1v1h-1zm18 0h1v1h-1zm-19 1h2v1h-2zm3 0h1v1h-1zm-3 1h1v1h-1zm20 0h1v1h-1zm-20 1h1v1h-1zm18 0h1v1h-1zm-18 1h1v1h-1zm-3 1h1v1h-1zm0 1h1v1h-1zm23 0h1v1h-1zm-1 1h1v1h-1zm-23 2h1v1h-1zm24 0h2v1h-2zm-2 1h1v1h-1zm2 0h1v1h-1zm0 1h1v1h-1zm-29 1h1v1h-1zm1 1h1v1h-1zm-3 2h1v1h-1zm2 0h1v1h-1zm28 0h1v1h-1zm0 1h1v1h-1zm-32 1h1v1h-1zm31 1h1v1h-1zm-31 1h1v1h-1zm32 0h1v1h-1zm-1 1h1v1h-1zm-34 1h1v1h-1zm-1 1h1v1h-1zm34 0h2v1h-2zm-35 1h2v1h-2zm36 0h2v1h-2zm-2 1h1v1h-1zm-37 1h1v1h-1zm38 0h1v1h-1zm-39 1h1v1h-1zm38 0h1v1h-1zm1 3h1v1h-1zm2 0h1v1h-1zm-1 1h1v1h-1zm3 3h1v1h-1zm0 1h1v1h-1zm0 1h1v1h-1zm-2 1h2v1h-2z"/>
<path transform="translate(419 192)" fill="#5672c3" d="M0 0m25 67h1v1h-1zm-1 2h1v1h-1zm-5 2h1v1h-1zm-8 1h1v1h-1zm6 0h1v1h-1zm3 0h1v1h-1zm2 0h1v1h-1zm2 0h1v1h-1zm-19 1h1v1h-1zm4 0h1v1h-1zm14 0h1v1h-1zm5 0h1v1h-1zm-22 1h1v1h-1zm2 0h1v1h-1zm22 0h1v1h-1zm-28 1h1v1h-1zm31 0h1v1h-1zm-32 1h1v1h-1zm3 0h1v1h-1zm28 0h1v1h-1z"/>
<path transform="translate(419 192)" fill="#e7eaf5" d="M0 0m34 38h1v1h-1zm3 0h1v1h-1zm-3 1h2v1h-2zm4 0h1v1h-1zm2 0h1v1h-1zm-3 1h2v1h-2zm-3 1h1v1h-1zm5 0h1v1h-1zm2 0h1v1h-1zm2 0h1v1h-1zm-6 1h1v1h-1zm4 0h1v1h-1zm-13 2h1v1h-1zm-2 1h2v1h-2zm16 0h1v1h-1zm-18 1h1v1h-1zm3 0h1v1h-1zm15 0h1v1h-1zm-17 1h1v1h-1zm-1 1h1v1h-1zm17 0h2v1h-2zm-18 1h1v1h-1zm-3 2h1v1h-1zm21 0h2v1h-2zm-20 1h1v1h-1zm21 0h2v1h-2zm-24 1h1v1h-1zm25 0h1v1h-1zm-27 2h1v1h-1zm2 0h2v1h-2zm-1 1h3v1h-3zm25 0h1v1h-1zm-23 1h1v1h-1zm22 0h2v1h-2zm-27 1h2v1h-2zm3 0h1v1h-1zm24 1h2v1h-2zm-28 1h1v1h-1zm25 0h1v1h-1zm2 0h2v1h-2zm-29 1h3v1h-3zm4 0h1v1h-1zm27 1h1v1h-1zm-30 1h1v1h-1zm-3 1h3v1h-3zm31 0h1v1h-1zm-32 1h1v1h-1zm2 0h1v1h-1zm-5 1h1v1h-1zm2 0h1v1h-1zm34 0h1v1h-1zm-37 1h1v1h-1zm2 0h2v1h-2zm33 0h2v1h-2zm0 1h3v1h-3zm-38 1h1v1h-1zm38 1h2v1h-2zm2 1h2v1h-2zm2 2h1v1h-1zm0 1h1v1h-1zm1 1h1v1h-1zm-2 2h1v1h-1zm-1 1h1v1h-1z"/>
<path transform="translate(419 192)" fill="#9fabd9" d="M0 0m35 47h1v1h-1zm1 1h1v1h-1zm-10 1h1v1h-1zm2 0h1v1h-1zm11 3h1v1h-1zm-5 2h1v1h-1zm-5 1h2v1h-2zm4 0h1v1h-1zm4 0h1v1h-1zm-13 1h1v1h-1zm8 0h1v1h-1zm-3 1h1v1h-1zm-7 2h1v1h-1zm0 1h1v1h-1zm0 1h1v1h-1zm11 0h1v1h-1zm-14 2h1v1h-1zm15 0h1v1h-1zm-18 2h1v1h-1zm-1 1h2v1h-2zm23 0h1v1h-1zm-29 1h1v1h-1zm25 1h1v1h-1zm-1 1h1v1h-1z"/>
<path transform="translate(419 192)" fill="#8798d1" d="M0 0m24 59h1v1h-1zm5 1h1v1h-1zm-4 3h1v1h-1zm-4 1h1v1h-1zm11 0h1v1h-1zm-7 1h1v1h-1zm-7 1h1v1h-1zm-2 1h1v1h-1zm2 0h1v1h-1zm2 0h1v1h-1zm2 0h2v1h-2zm6 0h2v1h-2zm-6 1h1v1h-1zm4 0h1v1h-1zm3 0h1v1h-1zm-7 1h2v1h-2zm3 0h1v1h-1zm2 0h1v1h-1zm-20 1h1v1h-1zm10 0h1v1h-1zm6 0h1v1h-1zm6 0h1v1h-1zm-22 1h2v1h-2zm8 0h1v1h-1zm2 0h2v1h-2zm6 0h4v1h-4zm-21 1h2v1h-2zm7 0h2v1h-2zm3 0h1v1h-1zm9 0h1v1h-1zm5 0h1v1h-1zm4 0h1v1h-1zm4 0h1v1h-1zm-33 1h1v1h-1zm3 0h1v1h-1zm2 0h1v1h-1zm2 0h1v1h-1zm22 0h1v1h-1zm-29 1h1v1h-1zm3 0h1v1h-1zm27 0h1v1h-1zm3 0h1v1h-1zm3 1h1v1h-1zm-8 1h2v1h-2zm5 0h1v1h-1zm3 0h1v1h-1zm-36 1h1v1h-1zm7 1h1v1h-1zm18 0h1v1h-1z"/>
<path transform="translate(419 192)" fill="#7fc278" d="M0 0m16 74h6v1h-6zm7 0h1v1h-1zm2 1h1v1h-1zm-13 1h1v1h-1zm2 1h3v1h-3zm5 0h1v1h-1z"/>
<path transform="translate(419 192)" fill="#9facda" d="M0 0m24 68h1v1h-1zm-8 2h1v1h-1zm8 0h3v1h-3zm-14 1h1v1h-1zm2 0h2v1h-2zm10 0h1v1h-1zm6 0h1v1h-1zm-26 2h2v1h-2zm-2 1h1v1h-1zm0 1h2v1h-2zm34 0h1v1h-1zm1 1h1v1h-1zm-3 1h1v1h-1zm-28 1h1v1h-1z"/>
<path transform="translate(419 192)" fill="#9faedc" d="M0 0m27 72h1v1h-1zm5 2h1v1h-1zm-28 1h1v1h-1zm28 0h1v1h-1zm-29 1h1v1h-1zm1 1h1v1h-1zm2 1h1v1h-1zm4 0h1v1h-1z"/>
<path transform="translate(419 192)" fill="#cfd5eb" d="M0 0m34 44h1v1h-1zm3 1h1v1h-1zm-4 1h1v1h-1zm1 1h1v1h-1zm2 0h1v1h-1zm-4 1h2v1h-2zm-2 2h1v1h-1zm5 0h1v1h-1zm-6 1h1v1h-1zm7 2h1v1h-1zm-13 1h1v1h-1zm-2 2h1v1h-1zm0 2h1v1h-1zm-1 1h1v1h-1zm15 0h1v1h-1zm-16 1h1v1h-1zm-6 5h1v1h-1zm0 1h1v1h-1zm23 0h1v1h-1zm0 2h1v1h-1zm-33 1h1v1h-1zm2 0h1v1h-1zm2 0h1v1h-1zm-6 1h1v1h-1zm3 0h1v1h-1zm34 2h1v1h-1zm2 3h2v1h-2z"/></g>
<rect x="453.5" y="199.5" width="39.3" height="70.3" fill="none" stroke="#7a7a7a" stroke-width="1.2"/>
<text transform="translate(464.15 210.80) scale(1.1331 1)" font-size="9.517">c-Kit<tspan font-size="4.76" dy="-3.52" stroke-width="0.12">+</tspan></text>
<rect x="333.4" y="272.1" width="80.6" height="81.8" fill="#fff" stroke="#7f7f7f" stroke-width="1.3"/>
<g clip-path="url(#clip10)"><path transform="translate(334 273)" fill="#93a1d4" d="M0 0m25 13h1v1h-1zm4 0h1v1h-1zm-9 1h1v1h-1zm1 1h1v1h-1zm4 0h1v1h-1zm-8 1h1v1h-1zm2 0h1v1h-1zm4 0h1v1h-1zm2 0h2v1h-2zm-6 1h1v1h-1zm2 0h1v1h-1zm5 0h1v1h-1zm9 0h1v1h-1zm-9 1h1v1h-1zm2 0h1v1h-1zm3 0h2v1h-2zm-10 1h1v1h-1zm3 0h1v1h-1zm5 0h1v1h-1zm3 0h1v1h-1zm-14 1h1v1h-1zm13 0h1v1h-1zm-14 1h2v1h-2zm15 0h2v1h-2zm6 1h1v1h-1zm-23 1h1v1h-1zm26 0h1v1h-1zm-26 1h1v1h-1zm21 0h2v1h-2zm-22 1h1v1h-1zm20 0h4v1h-4zm3 1h2v1h-2zm3 0h1v1h-1zm-31 1h1v1h-1zm4 0h1v1h-1zm24 0h1v1h-1zm-26 1h1v1h-1zm24 0h1v1h-1zm6 0h1v1h-1zm-31 1h1v1h-1zm3 0h1v1h-1zm26 0h1v1h-1zm2 0h1v1h-1zm-33 1h2v1h-2zm28 0h2v1h-2zm3 0h1v1h-1zm7 0h1v1h-1zm-38 1h2v1h-2zm3 0h1v1h-1zm28 0h2v1h-2zm-29 1h1v1h-1zm29 0h3v1h-3zm-30 1h1v1h-1zm29 0h1v1h-1zm5 0h1v1h-1zm5 0h1v1h-1zm-45 1h1v1h-1zm6 0h1v1h-1zm30 0h1v1h-1zm4 0h1v1h-1zm4 0h1v1h-1zm-40 1h2v1h-2zm3 0h2v1h-2zm30 0h1v1h-1zm5 0h1v1h-1zm-40 1h1v1h-1zm3 0h1v1h-1zm33 0h1v1h-1zm-1 1h1v1h-1zm5 0h1v1h-1zm-40 1h1v1h-1zm3 0h1v1h-1zm2 0h1v1h-1zm33 0h1v1h-1zm-35 1h2v1h-2zm35 0h1v1h-1zm2 0h1v1h-1zm9 0h1v1h-1zm-10 1h1v1h-1zm2 0h2v1h-2zm4 0h1v1h-1zm-43 1h1v1h-1zm38 0h1v1h-1zm3 0h1v1h-1zm4 0h1v1h-1zm-47 1h4v1h-4zm39 0h1v1h-1zm2 0h1v1h-1zm2 0h1v1h-1zm2 0h1v1h-1zm10 0h1v1h-1zm-57 1h3v1h-3zm43 0h3v1h-3zm5 0h1v1h-1zm2 0h1v1h-1zm7 0h1v1h-1zm-59 1h1v1h-1zm3 0h1v1h-1zm42 0h1v1h-1zm2 0h1v1h-1zm3 0h1v1h-1zm-50 1h1v1h-1zm2 0h1v1h-1zm-3 1h1v1h-1zm50 0h1v1h-1zm4 0h1v1h-1zm8 0h1v1h-1zm-10 1h1v1h-1zm-51 1h1v1h-1zm52 0h1v1h-1zm2 0h1v1h-1zm-55 1h3v1h-3zm51 0h2v1h-2zm3 0h1v1h-1zm-52 1h1v1h-1zm50 0h1v1h-1zm3 0h3v1h-3zm4 0h1v1h-1zm6 0h1v1h-1zm-6 1h1v1h-1zm-3 1h1v1h-1zm2 0h1v1h-1zm-56 1h1v1h-1zm53 0h5v1h-5zm-54 1h2v1h-2zm56 0h1v1h-1zm5 0h1v1h-1zm2 0h1v1h-1zm-62 1h1v1h-1zm56 0h2v1h-2zm3 0h1v1h-1zm5 0h1v1h-1zm-66 1h1v1h-1zm58 0h3v1h-3zm5 0h2v1h-2zm-63 1h3v1h-3zm61 0h1v1h-1zm2 0h1v1h-1zm-63 1h2v1h-2zm59 0h1v1h-1zm3 0h1v1h-1zm-1 1h2v1h-2zm-61 1h1v1h-1zm62 0h1v1h-1zm-61 1h1v1h-1zm57 0h3v1h-3zm10 0h1v1h-1zm-6 1h1v1h-1zm-61 1h1v1h-1zm57 0h2v1h-2zm3 1h1v1h-1zm2 0h1v1h-1zm2 0h1v1h-1zm-64 1h1v1h-1zm58 0h1v1h-1zm3 0h2v1h-2zm-61 1h1v1h-1zm57 0h1v1h-1zm1 1h1v1h-1zm7 0h1v1h-1zm-6 1h2v1h-2zm5 0h1v1h-1zm-63 1h1v1h-1zm56 0h1v1h-1zm-58 1h1v1h-1zm57 0h2v1h-2zm-57 1h1v1h-1zm58 0h1v1h-1zm2 0h2v1h-2zm-60 1h1v1h-1zm2 0h1v1h-1zm53 0h1v1h-1zm-55 1h1v1h-1zm55 0h2v1h-2zm4 0h1v1h-1zm-4 1h1v1h-1zm2 0h1v1h-1zm2 0h1v1h-1zm2 0h1v1h-1zm-61 1h1v1h-1zm52 0h1v1h-1zm2 0h1v1h-1zm-2 1h3v1h-3z"/>
<path transform="translate(334 273)" fill="#5d72bf" d="M0 0m23 15h1v1h-1zm-2 1h2v1h-2zm-1 1h1v1h-1zm2 1h1v1h-1zm-4 1h1v1h-1zm2 0h1v1h-1zm7 0h2v1h-2zm3 0h1v1h-1zm-11 1h1v1h-1zm11 0h1v1h-1zm-16 1h3v1h-3zm4 1h1v1h-1zm15 0h1v1h-1zm-17 1h1v1h-1zm17 0h1v1h-1zm-17 1h1v1h-1zm17 0h1v1h-1zm-19 2h1v1h-1zm21 0h2v1h-2zm1 1h1v1h-1zm-23 1h1v1h-1zm24 1h1v1h-1zm-25 2h1v1h-1zm-5 5h1v1h-1zm-4 1h1v1h-1zm38 0h2v1h-2zm5 0h1v1h-1zm-39 1h1v1h-1zm0 1h1v1h-1zm-1 1h1v1h-1zm37 0h1v1h-1zm2 0h1v1h-1zm3 0h1v1h-1zm9 0h1v1h-1zm-53 1h1v1h-1zm43 0h1v1h-1zm-2 1h1v1h-1zm2 0h1v1h-1zm-42 2h1v1h-1zm42 0h1v1h-1zm3 0h1v1h-1zm-46 1h1v1h-1zm44 0h2v1h-2zm3 0h1v1h-1zm-47 1h1v1h-1zm47 0h1v1h-1zm2 0h1v1h-1zm-50 1h1v1h-1zm48 0h1v1h-1zm2 0h1v1h-1zm7 0h1v1h-1zm-6 1h1v1h-1zm6 0h1v1h-1zm-57 1h1v1h-1zm50 0h1v1h-1zm2 0h1v1h-1zm2 0h1v1h-1zm-4 1h1v1h-1zm-53 1h2v1h-2zm55 0h2v1h-2zm8 0h1v1h-1zm-61 1h1v1h-1zm55 0h1v1h-1zm-56 1h1v1h-1zm-1 1h1v1h-1zm60 4h1v1h-1zm-1 1h1v1h-1zm-1 1h1v1h-1zm3 2h1v1h-1zm-2 2h1v1h-1zm-59 1h1v1h-1zm59 1h1v1h-1zm-58 4h1v1h-1zm61 0h1v1h-1zm-61 1h2v1h-2zm55 0h1v1h-1zm0 1h1v1h-1zm-53 2h1v1h-1zm51 0h1v1h-1zm-1 1h1v1h-1zm2 0h2v1h-2z"/>
<path transform="translate(334 273)" fill="#3c8ad8" d="M0 0m24 46h1v1h-1zm-3 2h2v1h-2zm3 0h1v1h-1zm2 0h3v1h-3zm-7 1h4v1h-4zm9 0h2v1h-2zm-9 1h2v1h-2zm-2 1h3v1h-3zm13 0h2v1h-2zm-12 1h1v1h-1zm15 0h1v1h-1zm-16 1h1v1h-1zm14 0h1v1h-1zm-15 1h1v1h-1zm16 0h1v1h-1zm-17 1h2v1h-2zm18 0h1v1h-1zm-18 1h1v1h-1zm19 0h2v1h-2zm-20 1h2v1h-2zm20 0h1v1h-1zm1 1h1v1h-1zm-21 1h1v1h-1zm21 0h1v1h-1zm-21 1h1v1h-1zm22 0h1v1h-1zm-24 1h2v1h-2zm24 0h2v1h-2zm0 1h2v1h-2zm-23 1h1v1h-1zm23 0h1v1h-1zm-23 1h1v1h-1zm22 0h3v1h-3zm-22 1h1v1h-1zm22 0h2v1h-2zm-22 1h1v1h-1zm22 0h2v1h-2zm-1 1h2v1h-2zm-21 1h2v1h-2zm19 0h1v1h-1zm3 0h1v1h-1zm-1 1h1v1h-1zm-20 1h1v1h-1zm19 0h1v1h-1zm-18 1h1v1h-1zm16 0h2v1h-2zm-15 1h1v1h-1zm13 0h2v1h-2zm-13 1h3v1h-3zm12 0h3v1h-3zm-10 1h1v1h-1zm11 0h1v1h-1zm-3 1h1v1h-1z"/>
<path transform="translate(334 273)" fill="#2848af" d="M0 0m24 25h1v1h-1zm2 0h1v1h-1zm-3 1h1v1h-1zm4 0h2v1h-2zm-6 1h1v1h-1zm-1 2h1v1h-1zm11 2h1v1h-1zm-12 2h1v1h-1zm12 0h2v1h-2zm1 1h1v1h-1zm0 1h1v1h-1zm-15 1h1v1h-1zm-1 1h2v1h-2zm0 1h1v1h-1zm-1 1h1v1h-1zm-1 1h1v1h-1zm21 0h1v1h-1zm2 1h1v1h-1zm-24 1h2v1h-2zm24 0h1v1h-1zm0 1h1v1h-1zm1 1h1v1h-1zm-27 1h1v1h-1zm28 0h1v1h-1zm-29 2h1v1h-1zm31 0h2v1h-2zm1 1h1v1h-1zm1 1h1v1h-1zm-34 1h1v1h-1zm-1 1h1v1h-1zm36 0h1v1h-1zm-36 1h1v1h-1zm0 1h1v1h-1zm39 0h1v1h-1zm-40 1h1v1h-1zm40 0h1v1h-1zm-40 1h1v1h-1zm42 1h1v1h-1zm2 2h1v1h-1zm1 1h1v1h-1zm-47 1h1v1h-1zm46 0h1v1h-1zm0 1h1v1h-1zm-46 1h1v1h-1zm46 0h1v1h-1zm-46 1h2v1h-2zm46 0h2v1h-2zm-46 1h1v1h-1zm0 2h1v1h-1zm46 0h1v1h-1zm-2 3h2v1h-2zm-42 2h1v1h-1zm0 1h1v1h-1zm36 1h2v1h-2zm1 1h1v1h-1zm-35 1h1v1h-1zm32 0h1v1h-1z"/>
<path transform="translate(334 273)" fill="#2d5bbe" d="M0 0m28 42h1v1h-1zm-7 1h1v1h-1zm2 0h2v1h-2zm4 0h1v1h-1zm2 1h1v1h-1zm-8 1h2v1h-2zm6 0h1v1h-1zm2 0h2v1h-2zm-10 1h2v1h-2zm11 0h1v1h-1zm1 1h1v1h-1zm2 1h1v1h-1zm-18 1h1v1h-1zm18 0h1v1h-1zm-18 1h1v1h-1zm-2 3h1v1h-1zm23 0h1v1h-1zm1 1h1v1h-1zm-24 1h1v1h-1zm26 0h1v1h-1zm-27 1h1v1h-1zm26 0h2v1h-2zm-27 2h1v1h-1zm0 1h1v1h-1zm-1 1h2v1h-2zm0 2h1v1h-1zm31 0h2v1h-2zm0 2h2v1h-2zm-1 1h2v1h-2zm0 1h2v1h-2zm-1 1h1v1h-1zm0 1h1v1h-1zm-1 1h1v1h-1zm-1 1h2v1h-2zm-25 1h1v1h-1zm24 0h2v1h-2zm-23 1h1v1h-1zm1 1h1v1h-1zm18 1h1v1h-1zm-17 1h1v1h-1z"/>
<path transform="translate(334 273)" fill="#2a54b9" d="M0 0m25 40h1v1h-1zm-1 1h1v1h-1zm-1 1h1v1h-1zm2 0h3v1h-3zm-5 1h1v1h-1zm9 0h1v1h-1zm-9 1h1v1h-1zm10 0h2v1h-2zm-10 1h1v1h-1zm12 0h1v1h-1zm-14 1h1v1h-1zm13 0h1v1h-1zm3 3h1v1h-1zm-20 1h1v1h-1zm0 1h1v1h-1zm23 0h1v1h-1zm-24 3h1v1h-1zm27 2h1v1h-1zm-29 1h1v1h-1zm28 0h1v1h-1zm1 1h2v1h-2zm-30 1h1v1h-1zm32 0h1v1h-1zm-1 1h1v1h-1zm-31 1h1v1h-1zm32 0h1v1h-1zm-32 2h1v1h-1zm32 0h2v1h-2zm-2 1h1v1h-1zm2 1h1v1h-1zm-33 1h1v1h-1zm33 0h2v1h-2zm-32 1h1v1h-1zm30 0h1v1h-1zm0 1h1v1h-1zm-29 1h1v1h-1zm29 0h1v1h-1zm-29 1h1v1h-1zm1 2h1v1h-1zm24 0h1v1h-1zm-3 2h1v1h-1z"/>
<path transform="translate(334 273)" fill="#c9d0e9" d="M0 0m24 4h1v1h-1zm-8 4h1v1h-1zm11 0h2v1h-2zm-5 2h1v1h-1zm5 0h1v1h-1zm7 0h1v1h-1zm-13 1h2v1h-2zm5 0h2v1h-2zm-6 1h2v1h-2zm5 0h1v1h-1zm5 0h1v1h-1zm-15 1h1v1h-1zm2 0h4v1h-4zm5 0h1v1h-1zm6 0h1v1h-1zm3 0h1v1h-1zm9 0h1v1h-1zm-19 1h2v1h-2zm8 0h1v1h-1zm-13 1h1v1h-1zm2 0h3v1h-3zm6 0h1v1h-1zm3 0h2v1h-2zm5 0h2v1h-2zm-27 1h1v1h-1zm11 0h1v1h-1zm4 0h1v1h-1zm4 0h1v1h-1zm15 0h1v1h-1zm-26 1h1v1h-1zm2 0h3v1h-3zm9 0h1v1h-1zm3 0h1v1h-1zm2 0h2v1h-2zm10 0h1v1h-1zm-29 1h1v1h-1zm5 0h1v1h-1zm2 0h3v1h-3zm13 0h1v1h-1zm3 0h1v1h-1zm-21 1h1v1h-1zm3 0h3v1h-3zm19 0h1v1h-1zm-20 1h1v1h-1zm19 0h1v1h-1zm3 0h3v1h-3zm-30 1h1v1h-1zm6 0h1v1h-1zm0 1h3v1h-3zm4 0h1v1h-1zm19 0h1v1h-1zm-26 1h1v1h-1zm2 0h2v1h-2zm3 0h1v1h-1zm24 0h3v1h-3zm-36 1h1v1h-1zm6 0h1v1h-1zm2 0h1v1h-1zm3 0h2v1h-2zm25 0h1v1h-1zm2 0h1v1h-1zm-30 1h2v1h-2zm28 0h3v1h-3zm5 0h1v1h-1zm-35 1h6v1h-6zm33 0h2v1h-2zm5 0h1v1h-1zm4 0h2v1h-2zm-48 1h1v1h-1zm2 0h1v1h-1zm4 0h1v1h-1zm4 0h1v1h-1zm28 0h1v1h-1zm-35 1h1v1h-1zm2 0h3v1h-3zm5 0h1v1h-1zm26 0h1v1h-1zm2 0h1v1h-1zm4 0h1v1h-1zm-42 1h1v1h-1zm5 0h3v1h-3zm4 0h1v1h-1zm29 0h1v1h-1zm3 0h3v1h-3zm27 0h1v1h-1zm-66 1h1v1h-1zm2 0h1v1h-1zm4 0h1v1h-1zm30 0h3v1h-3zm25 0h1v1h-1zm-63 1h1v1h-1zm39 0h1v1h-1zm2 0h4v1h-4zm21 0h1v1h-1zm-59 1h2v1h-2zm4 0h1v1h-1zm35 0h2v1h-2zm8 0h1v1h-1zm-45 1h1v1h-1zm33 0h1v1h-1zm4 0h1v1h-1zm6 0h1v1h-1zm2 0h1v1h-1zm3 0h1v1h-1zm5 0h1v1h-1zm8 0h1v1h-1zm-64 1h5v1h-5zm37 0h2v1h-2zm3 0h1v1h-1zm2 0h1v1h-1zm11 0h2v1h-2zm6 0h1v1h-1zm-59 1h1v1h-1zm2 0h1v1h-1zm3 0h1v1h-1zm33 0h3v1h-3zm6 0h1v1h-1zm7 0h1v1h-1zm3 0h1v1h-1zm11 0h1v1h-1zm-65 1h1v1h-1zm39 0h2v1h-2zm4 0h1v1h-1zm3 0h2v1h-2zm17 0h1v1h-1zm-65 1h1v1h-1zm2 0h1v1h-1zm2 0h1v1h-1zm38 0h1v1h-1zm5 0h1v1h-1zm2 0h1v1h-1zm2 0h2v1h-2zm4 0h1v1h-1zm4 0h1v1h-1zm4 0h1v1h-1zm-62 1h2v1h-2zm42 0h1v1h-1zm3 0h1v1h-1zm5 0h1v1h-1zm2 0h3v1h-3zm5 0h1v1h-1zm2 0h1v1h-1zm4 0h2v1h-2zm-66 1h2v1h-2zm4 0h1v1h-1zm42 0h2v1h-2zm3 0h1v1h-1zm3 0h2v1h-2zm8 0h1v1h-1zm2 0h1v1h-1zm-58 1h1v1h-1zm47 0h2v1h-2zm3 0h1v1h-1zm9 0h1v1h-1zm-61 1h1v1h-1zm3 0h1v1h-1zm45 0h1v1h-1zm5 0h2v1h-2zm-54 1h2v1h-2zm48 0h1v1h-1zm2 0h1v1h-1zm2 0h2v1h-2zm3 0h2v1h-2zm5 0h1v1h-1zm3 0h1v1h-1zm2 0h1v1h-1zm3 0h1v1h-1zm-68 1h1v1h-1zm51 0h1v1h-1zm2 0h3v1h-3zm4 0h1v1h-1zm7 0h1v1h-1zm4 0h1v1h-1zm-67 1h2v1h-2zm51 0h2v1h-2zm6 0h1v1h-1zm5 0h1v1h-1zm4 0h1v1h-1zm-16 1h1v1h-1zm2 0h1v1h-1zm3 0h1v1h-1zm3 0h1v1h-1zm7 0h2v1h-2zm3 0h1v1h-1zm-67 1h1v1h-1zm52 0h2v1h-2zm4 0h1v1h-1zm6 0h1v1h-1zm-64 1h1v1h-1zm54 0h5v1h-5zm6 0h3v1h-3zm6 0h2v1h-2zm-67 1h1v1h-1zm56 0h2v1h-2zm3 0h1v1h-1zm3 0h1v1h-1zm3 0h1v1h-1zm6 0h1v1h-1zm-13 1h1v1h-1zm3 0h2v1h-2zm4 0h1v1h-1zm2 0h1v1h-1zm-67 1h2v1h-2zm58 0h1v1h-1zm2 0h1v1h-1zm3 0h1v1h-1zm3 0h1v1h-1zm4 0h1v1h-1zm7 0h1v1h-1zm-20 1h2v1h-2zm4 0h1v1h-1zm3 0h2v1h-2zm-63 1h1v1h-1zm59 0h1v1h-1zm14 0h2v1h-2zm-74 1h1v1h-1zm69 0h1v1h-1zm-9 1h1v1h-1zm10 0h1v1h-1zm-70 1h1v1h-1zm62 0h2v1h-2zm5 0h1v1h-1zm5 0h1v1h-1zm-11 1h1v1h-1zm4 0h1v1h-1zm2 0h1v1h-1zm4 0h1v1h-1zm2 0h1v1h-1zm-13 1h1v1h-1zm2 0h1v1h-1zm4 0h2v1h-2zm4 0h1v1h-1zm-7 1h2v1h-2zm0 1h1v1h-1zm4 0h1v1h-1zm-6 1h1v1h-1zm2 0h1v1h-1zm2 0h4v1h-4zm-3 1h1v1h-1zm2 0h1v1h-1zm-4 1h1v1h-1zm3 0h1v1h-1zm3 0h1v1h-1zm4 0h1v1h-1zm-7 1h1v1h-1zm2 0h1v1h-1zm3 0h1v1h-1zm-6 1h1v1h-1zm2 0h1v1h-1zm2 0h2v1h-2zm6 0h1v1h-1zm-11 1h1v1h-1zm4 0h1v1h-1zm-5 1h5v1h-5zm8 0h2v1h-2zm3 0h1v1h-1zm3 0h1v1h-1zm-10 1h2v1h-2zm4 0h2v1h-2zm3 0h1v1h-1zm-9 1h1v1h-1zm4 0h1v1h-1zm-6 1h1v1h-1zm5 0h1v1h-1zm-6 1h1v1h-1zm2 0h1v1h-1zm4 0h1v1h-1zm2 0h1v1h-1zm-8 1h1v1h-1zm3 0h1v1h-1zm3 0h1v1h-1zm-8 1h1v1h-1zm2 0h2v1h-2zm4 0h1v1h-1zm14 0h1v1h-1zm-19 1h1v1h-1zm2 0h1v1h-1zm5 0h1v1h-1zm11 0h1v1h-1zm-76 1h1v1h-1zm60 0h1v1h-1zm2 0h1v1h-1zm5 0h1v1h-1zm-10 1h2v1h-2zm-56 1h1v1h-1zm54 0h1v1h-1zm9 0h2v1h-2z"/>
<path transform="translate(334 273)" fill="#284eb5" d="M0 0m24 36h1v1h-1zm2 2h1v1h-1zm-6 2h1v1h-1zm4 0h1v1h-1zm2 0h1v1h-1zm-5 1h1v1h-1zm2 0h1v1h-1zm3 0h1v1h-1zm-6 1h1v1h-1zm9 0h1v1h-1zm-11 1h1v1h-1zm7 0h1v1h-1zm3 0h1v1h-1zm-10 1h2v1h-2zm14 0h2v1h-2zm-1 1h1v1h-1zm-14 1h1v1h-1zm16 0h1v1h-1zm-17 1h2v1h-2zm17 0h1v1h-1zm2 0h1v1h-1zm-20 1h1v1h-1zm19 0h1v1h-1zm1 1h2v1h-2zm-22 1h1v1h-1zm23 0h1v1h-1zm-23 1h1v1h-1zm24 1h1v1h-1zm1 1h1v1h-1zm-27 1h2v1h-2zm27 0h2v1h-2zm-27 1h1v1h-1zm30 0h1v1h-1zm-30 1h1v1h-1zm30 1h1v1h-1zm-31 1h1v1h-1zm32 0h1v1h-1zm1 1h1v1h-1zm-34 1h1v1h-1zm33 0h3v1h-3zm-33 1h1v1h-1zm0 1h1v1h-1zm34 2h1v1h-1zm0 1h1v1h-1zm-34 2h1v1h-1zm34 0h1v1h-1zm-2 1h1v1h-1zm-31 2h1v1h-1zm30 0h1v1h-1zm-3 2h1v1h-1zm-25 1h1v1h-1zm23 0h1v1h-1zm-22 1h1v1h-1zm22 0h1v1h-1zm-21 1h1v1h-1zm18 0h1v1h-1z"/>
<path transform="translate(334 273)" fill="#93a2d6" d="M0 0m26 19h1v1h-1zm-3 1h1v1h-1zm3 0h3v1h-3zm-4 1h1v1h-1zm4 0h4v1h-4zm-7 1h2v1h-2zm9 0h2v1h-2zm-10 1h1v1h-1zm11 0h1v1h-1zm-11 1h1v1h-1zm6 0h1v1h-1zm7 0h1v1h-1zm-14 1h2v1h-2zm10 0h1v1h-1zm4 0h1v1h-1zm-7 1h1v1h-1zm6 0h1v1h-1zm2 0h1v1h-1zm-17 1h1v1h-1zm2 0h1v1h-1zm14 0h1v1h-1zm-11 1h1v1h-1zm10 0h1v1h-1zm-13 1h1v1h-1zm9 0h1v1h-1zm8 0h1v1h-1zm-20 1h3v1h-3zm5 0h1v1h-1zm-4 1h2v1h-2zm7 0h1v1h-1zm7 0h1v1h-1zm-15 1h1v1h-1zm3 0h1v1h-1zm17 0h1v1h-1zm0 1h1v1h-1zm-18 1h1v1h-1zm0 1h1v1h-1zm2 0h1v1h-1zm19 0h2v1h-2zm-24 1h1v1h-1zm23 0h1v1h-1zm3 0h1v1h-1zm-29 1h1v1h-1zm2 0h1v1h-1zm26 0h2v1h-2zm-26 1h1v1h-1zm25 0h1v1h-1zm-27 1h1v1h-1zm30 0h1v1h-1zm-31 1h1v1h-1zm7 0h1v1h-1zm24 0h2v1h-2zm-26 1h1v1h-1zm28 0h1v1h-1zm-3 1h1v1h-1zm-26 1h1v1h-1zm2 0h1v1h-1zm29 0h1v1h-1zm-37 1h1v1h-1zm35 0h1v1h-1zm-34 1h1v1h-1zm5 0h1v1h-1zm24 0h1v1h-1zm-32 1h1v1h-1zm7 0h1v1h-1zm28 0h1v1h-1zm-34 1h2v1h-2zm39 0h1v1h-1zm3 0h2v1h-2zm-43 1h1v1h-1zm44 0h1v1h-1zm-43 1h1v1h-1zm3 0h1v1h-1zm41 0h1v1h-1zm-46 1h1v1h-1zm6 0h1v1h-1zm31 0h1v1h-1zm5 0h1v1h-1zm-41 1h1v1h-1zm38 0h1v1h-1zm5 0h1v1h-1zm3 0h1v1h-1zm-47 1h1v1h-1zm46 0h2v1h-2zm1 1h1v1h-1zm2 0h1v1h-1zm-4 1h1v1h-1zm3 0h1v1h-1zm-49 1h3v1h-3zm44 0h1v1h-1zm3 0h1v1h-1zm4 0h2v1h-2zm-2 1h1v1h-1zm-1 1h1v1h-1zm5 0h1v1h-1zm-54 1h1v1h-1zm52 0h2v1h-2zm-1 1h1v1h-1zm4 0h1v1h-1zm-55 1h1v1h-1zm0 1h1v1h-1zm3 0h2v1h-2zm45 0h1v1h-1zm7 0h1v1h-1zm-55 1h1v1h-1zm52 0h1v1h-1zm3 0h1v1h-1zm-55 1h2v1h-2zm-1 1h1v1h-1zm1 3h3v1h-3zm51 0h1v1h-1zm-50 1h1v1h-1zm0 1h3v1h-3zm50 0h1v1h-1zm-51 1h1v1h-1zm4 0h1v1h-1zm40 1h1v1h-1zm8 0h1v1h-1zm0 1h1v1h-1zm-51 1h1v1h-1zm46 0h1v1h-1zm-6 1h1v1h-1zm3 0h1v1h-1zm3 0h1v1h-1zm3 0h1v1h-1zm-47 1h1v1h-1zm44 0h1v1h-1zm-44 1h2v1h-2zm5 0h2v1h-2zm28 0h5v1h-5zm7 0h1v1h-1zm3 0h1v1h-1zm2 0h1v1h-1z"/>
<path transform="translate(334 273)" fill="#5d75c2" d="M0 0m22 23h1v1h-1zm3 0h3v1h-3zm0 1h2v1h-2zm4 0h1v1h-1zm-8 1h1v1h-1zm2 0h1v1h-1zm2 0h1v1h-1zm3 0h3v1h-3zm-9 1h1v1h-1zm2 0h2v1h-2zm5 0h1v1h-1zm-3 1h3v1h-3zm6 0h2v1h-2zm-10 1h1v1h-1zm3 0h2v1h-2zm5 0h3v1h-3zm-9 1h2v1h-2zm-1 1h2v1h-2zm14 0h1v1h-1zm-14 1h3v1h-3zm13 0h1v1h-1zm2 0h1v1h-1zm-13 1h1v1h-1zm11 0h1v1h-1zm2 0h2v1h-2zm-12 1h1v1h-1zm-1 1h1v1h-1zm2 0h1v1h-1zm8 0h1v1h-1zm2 0h1v1h-1zm-12 1h1v1h-1zm12 0h1v1h-1zm2 0h3v1h-3zm-18 1h1v1h-1zm3 0h1v1h-1zm2 0h1v1h-1zm12 0h3v1h-3zm3 1h2v1h-2zm-21 1h1v1h-1zm4 0h1v1h-1zm15 0h2v1h-2zm3 0h1v1h-1zm-20 1h2v1h-2zm19 0h1v1h-1zm2 0h2v1h-2zm-25 1h2v1h-2zm3 0h1v1h-1zm22 0h2v1h-2zm-25 1h1v1h-1zm3 0h2v1h-2zm20 0h2v1h-2zm3 1h1v1h-1zm2 0h1v1h-1zm-29 1h2v1h-2zm28 0h3v1h-3zm-29 1h2v1h-2zm-1 1h1v1h-1zm3 0h1v1h-1zm26 0h1v1h-1zm3 0h2v1h-2zm-32 1h1v1h-1zm32 0h1v1h-1zm-32 1h1v1h-1zm29 0h1v1h-1zm2 0h1v1h-1zm-31 1h2v1h-2zm34 0h3v1h-3zm-36 1h1v1h-1zm35 0h1v1h-1zm-35 1h1v1h-1zm4 0h1v1h-1zm31 0h1v1h-1zm5 0h1v1h-1zm-2 1h3v1h-3zm-3 1h1v1h-1zm3 0h1v1h-1zm1 1h1v1h-1zm3 0h2v1h-2zm-43 1h1v1h-1zm2 0h1v1h-1zm40 0h1v1h-1zm1 1h1v1h-1zm2 0h1v1h-1zm-46 1h3v1h-3zm42 0h2v1h-2zm-41 1h2v1h-2zm46 0h2v1h-2zm-47 1h1v1h-1zm43 0h1v1h-1zm2 0h1v1h-1zm-46 1h1v1h-1zm45 0h1v1h-1zm2 0h1v1h-1zm-2 1h2v1h-2zm4 0h1v1h-1zm-49 1h1v1h-1zm48 0h2v1h-2zm-2 1h1v1h-1zm2 0h2v1h-2zm-48 1h1v1h-1zm45 0h2v1h-2zm5 0h1v1h-1zm-1 1h2v1h-2zm-47 1h1v1h-1zm45 0h1v1h-1zm2 1h1v1h-1zm-46 1h1v1h-1zm40 0h1v1h-1zm2 0h1v1h-1zm2 0h2v1h-2zm-45 1h1v1h-1zm42 0h2v1h-2zm3 0h1v1h-1zm-3 1h1v1h-1zm3 0h1v1h-1zm-2 1h1v1h-1zm-44 1h2v1h-2zm43 0h2v1h-2zm3 0h1v1h-1zm-45 1h1v1h-1zm40 0h2v1h-2zm-38 1h2v1h-2zm37 0h2v1h-2zm-37 1h1v1h-1zm32 0h1v1h-1zm5 0h1v1h-1zm-38 1h1v1h-1zm3 0h1v1h-1z"/>
<path transform="translate(334 273)" fill="#2848af" d="M0 0m25 26h1v1h-1zm-3 1h1v1h-1zm4 0h3v1h-3zm-5 2h1v1h-1zm7 0h2v1h-2zm-8 1h2v1h-2zm10 0h1v1h-1zm-10 1h2v1h-2zm0 1h1v1h-1zm11 0h1v1h-1zm-2 1h2v1h-2zm-11 1h1v1h-1zm13 2h1v1h-1zm-13 1h2v1h-2zm15 0h1v1h-1zm-16 1h1v1h-1zm15 0h1v1h-1zm1 1h2v1h-2zm1 1h1v1h-1zm-19 2h1v1h-1zm21 0h1v1h-1zm-22 1h1v1h-1zm-1 1h1v1h-1zm-2 2h1v1h-1zm0 1h1v1h-1zm0 1h1v1h-1zm29 0h2v1h-2zm-30 1h1v1h-1zm31 0h1v1h-1zm2 1h1v1h-1zm-34 1h1v1h-1zm0 1h1v1h-1zm34 0h2v1h-2zm1 1h2v1h-2zm2 1h1v1h-1zm0 1h1v1h-1zm2 0h1v1h-1zm0 2h2v1h-2zm-42 1h1v1h-1zm43 0h1v1h-1zm-43 1h2v1h-2zm44 0h1v1h-1zm-44 1h1v1h-1zm0 2h1v1h-1zm0 2h1v1h-1zm45 0h1v1h-1zm-1 1h1v1h-1zm-44 1h1v1h-1zm44 0h1v1h-1zm-44 1h1v1h-1zm44 0h1v1h-1zm0 1h1v1h-1zm-44 1h2v1h-2zm1 1h1v1h-1zm40 0h2v1h-2zm-2 1h1v1h-1zm2 0h1v1h-1zm-39 1h1v1h-1zm36 0h2v1h-2zm-2 1h1v1h-1zm-33 1h1v1h-1zm32 0h2v1h-2zm-2 1h2v1h-2z"/>
<path transform="translate(334 273)" fill="#c9d0ea" d="M0 0m22 17h2v1h-2zm6 0h1v1h-1zm-8 1h2v1h-2zm3 0h1v1h-1zm2 0h1v1h-1zm4 0h1v1h-1zm-10 1h1v1h-1zm3 0h1v1h-1zm-5 1h1v1h-1zm12 0h1v1h-1zm3 0h1v1h-1zm-1 1h1v1h-1zm-6 1h1v1h-1zm7 0h1v1h-1zm-1 1h1v1h-1zm3 0h1v1h-1zm0 3h1v1h-1zm0 1h1v1h-1zm-20 1h1v1h-1zm22 0h2v1h-2zm-24 1h1v1h-1zm23 0h2v1h-2zm-24 1h2v1h-2zm2 1h1v1h-1zm24 0h2v1h-2zm-26 1h3v1h-3zm27 0h1v1h-1zm1 1h1v1h-1zm-29 1h1v1h-1zm3 0h1v1h-1zm27 0h1v1h-1zm-28 1h1v1h-1zm29 0h1v1h-1zm-31 1h2v1h-2zm30 0h1v1h-1zm2 0h1v1h-1zm-33 1h1v1h-1zm34 0h1v1h-1zm-34 1h1v1h-1zm32 0h1v1h-1zm-29 1h1v1h-1zm30 0h1v1h-1zm2 0h1v1h-1zm-37 1h1v1h-1zm-1 1h1v1h-1zm7 0h1v1h-1zm28 0h1v1h-1zm3 0h1v1h-1zm2 0h1v1h-1zm-40 2h1v1h-1zm3 0h1v1h-1zm29 0h1v1h-1zm11 0h1v1h-1zm0 1h1v1h-1zm-44 1h1v1h-1zm40 0h1v1h-1zm5 0h1v1h-1zm-11 1h1v1h-1zm9 0h1v1h-1zm-44 1h1v1h-1zm50 0h1v1h-1zm-52 1h2v1h-2zm5 0h1v1h-1zm44 0h2v1h-2zm-48 2h1v1h-1zm46 0h1v1h-1zm-46 1h1v1h-1zm2 1h1v1h-1zm50 0h1v1h-1zm0 2h2v1h-2zm3 0h1v1h-1zm-57 2h1v1h-1zm56 1h1v1h-1zm2 0h1v1h-1zm-3 1h1v1h-1zm2 0h1v1h-1zm-58 1h1v1h-1zm3 1h1v1h-1zm57 0h1v1h-1zm-6 1h1v1h-1zm2 0h1v1h-1zm5 0h1v1h-1zm-5 1h1v1h-1zm3 0h1v1h-1zm1 1h1v1h-1zm-8 2h1v1h-1zm4 0h1v1h-1zm4 0h1v1h-1zm-60 2h1v1h-1zm57 0h1v1h-1zm3 0h1v1h-1zm-59 1h1v1h-1zm55 0h3v1h-3zm-56 1h1v1h-1zm56 0h1v1h-1zm3 0h1v1h-1zm-2 2h1v1h-1zm-56 1h1v1h-1zm3 0h1v1h-1zm45 0h1v1h-1zm9 0h1v1h-1zm-57 1h1v1h-1zm52 0h1v1h-1zm4 0h1v1h-1zm-56 1h1v1h-1zm3 0h1v1h-1zm-2 1h1v1h-1zm2 0h1v1h-1zm42 0h1v1h-1zm4 0h1v1h-1zm-47 1h2v1h-2zm4 0h3v1h-3zm5 0h1v1h-1zm20 0h2v1h-2zm4 0h2v1h-2zm7 0h2v1h-2zm6 0h1v1h-1z"/>
<path transform="translate(334 273)" fill="#5d78c5" d="M0 0m24 28h1v1h-1zm3 1h1v1h-1zm0 1h1v1h-1zm-3 2h1v1h-1zm3 0h2v1h-2zm-3 1h1v1h-1zm2 0h1v1h-1zm-4 1h2v1h-2zm-1 1h1v1h-1zm6 0h1v1h-1zm-6 1h3v1h-3zm4 0h1v1h-1zm-2 1h1v1h-1zm3 0h1v1h-1zm4 0h1v1h-1zm-10 1h1v1h-1zm1 1h1v1h-1zm7 0h1v1h-1zm-10 1h1v1h-1zm3 0h1v1h-1zm2 0h1v1h-1zm5 0h1v1h-1zm4 0h1v1h-1zm-12 1h1v1h-1zm2 0h1v1h-1zm5 0h1v1h-1zm5 0h1v1h-1zm-13 1h1v1h-1zm3 0h1v1h-1zm2 0h1v1h-1zm-8 1h1v1h-1zm3 0h1v1h-1zm11 0h1v1h-1zm6 1h1v1h-1zm-22 1h1v1h-1zm19 0h1v1h-1zm3 0h1v1h-1zm-20 1h1v1h-1zm16 0h1v1h-1zm4 0h1v1h-1zm-22 1h1v1h-1zm21 1h1v1h-1zm-24 1h2v1h-2zm26 0h3v1h-3zm-25 1h1v1h-1zm22 0h2v1h-2zm3 0h1v1h-1zm-25 1h1v1h-1zm24 0h1v1h-1zm4 0h1v1h-1zm-27 1h1v1h-1zm23 0h1v1h-1zm-24 1h1v1h-1zm25 0h1v1h-1zm3 1h3v1h-3zm-31 1h1v1h-1zm31 0h1v1h-1zm6 2h1v1h-1zm-37 2h1v1h-1zm37 0h1v1h-1zm-39 1h1v1h-1zm41 0h1v1h-1zm-5 1h1v1h-1zm-36 1h1v1h-1zm36 0h1v1h-1zm3 0h1v1h-1zm-38 1h2v1h-2zm36 0h2v1h-2zm2 1h1v1h-1zm-37 1h1v1h-1zm35 0h1v1h-1zm2 0h2v1h-2zm-38 1h1v1h-1zm37 0h1v1h-1zm2 0h1v1h-1zm-37 2h1v1h-1zm32 0h1v1h-1zm-3 1h1v1h-1zm3 0h2v1h-2zm-1 1h1v1h-1zm3 0h1v1h-1zm2 0h1v1h-1zm-37 1h1v1h-1zm2 0h1v1h-1zm27 0h3v1h-3zm-28 1h1v1h-1zm28 0h1v1h-1zm-27 1h1v1h-1zm26 1h2v1h-2zm-4 1h1v1h-1zm4 0h1v1h-1z"/>
<path transform="translate(334 273)" fill="#2846ad" d="M0 0m25 21h1v1h-1zm-1 1h1v1h-1zm2 0h2v1h-2zm2 1h1v1h-1zm-9 1h3v1h-3zm11 0h1v1h-1zm-11 1h2v1h-2zm13 2h1v1h-1zm-15 1h1v1h-1zm17 3h1v1h-1zm-18 1h1v1h-1zm-1 1h1v1h-1zm-1 2h2v1h-2zm22 0h1v1h-1zm-22 1h1v1h-1zm0 1h1v1h-1zm25 2h1v1h-1zm-28 3h1v1h-1zm-3 2h2v1h-2zm36 1h1v1h-1zm-1 1h1v1h-1zm1 1h1v1h-1zm2 1h2v1h-2zm-40 2h1v1h-1zm43 1h1v1h-1zm0 1h1v1h-1zm-44 1h1v1h-1zm46 1h1v1h-1zm1 1h1v1h-1zm1 1h1v1h-1zm2 3h1v1h-1zm-1 1h1v1h-1zm-51 1h1v1h-1zm0 1h1v1h-1zm52 2h1v1h-1zm-1 2h1v1h-1zm0 1h1v1h-1zm0 1h1v1h-1zm-2 1h1v1h-1zm2 0h1v1h-1zm-1 1h1v1h-1zm-49 1h1v1h-1zm47 1h1v1h-1zm-45 1h1v1h-1zm44 0h1v1h-1zm-3 1h1v1h-1zm0 1h1v1h-1z"/>
<path transform="translate(334 273)" fill="#73c66e" d="M0 0m23 53h3v1h-3zm-3 1h1v1h-1zm3 0h1v1h-1zm2 0h1v1h-1zm-5 1h1v1h-1zm4 0h4v1h-4zm-4 1h1v1h-1zm5 0h3v1h-3zm-6 1h2v1h-2zm7 0h3v1h-3zm-7 1h2v1h-2zm8 0h3v1h-3zm-9 1h2v1h-2zm8 0h5v1h-5zm-9 1h3v1h-3zm11 0h4v1h-4zm-10 1h1v1h-1zm10 0h3v1h-3zm4 0h1v1h-1zm-15 1h2v1h-2zm12 0h2v1h-2zm-12 1h1v1h-1zm10 0h1v1h-1zm2 0h2v1h-2zm-12 1h2v1h-2zm11 0h4v1h-4zm-11 1h3v1h-3zm11 0h3v1h-3zm-11 1h2v1h-2zm11 0h3v1h-3zm-10 1h2v1h-2zm9 0h4v1h-4zm-10 1h3v1h-3zm11 0h2v1h-2zm-10 1h2v1h-2zm8 0h2v1h-2zm3 0h1v1h-1zm-10 1h2v1h-2zm7 0h3v1h-3zm-6 1h2v1h-2zm5 0h2v1h-2zm-5 1h3v1h-3zm4 0h3v1h-3zm-3 1h4v1h-4zm1 1h2v1h-2z"/>
<path transform="translate(334 273)" fill="#47a6d6" d="M0 0m23 49h5v1h-5zm-2 1h2v1h-2zm4 0h2v1h-2zm3 0h1v1h-1zm-8 1h3v1h-3zm4 0h3v1h-3zm4 0h2v1h-2zm-9 1h2v1h-2zm9 0h3v1h-3zm-10 1h2v1h-2zm10 0h1v1h-1zm2 0h1v1h-1zm-13 1h3v1h-3zm13 0h1v1h-1zm-13 1h1v1h-1zm12 0h1v1h-1zm2 0h2v1h-2zm-15 1h1v1h-1zm15 0h2v1h-2zm-15 1h1v1h-1zm16 0h2v1h-2zm-17 1h3v1h-3zm15 0h1v1h-1zm4 0h1v1h-1zm-19 1h1v1h-1zm17 0h2v1h-2zm-17 1h1v1h-1zm18 0h2v1h-2zm-19 1h2v1h-2zm19 0h3v1h-3zm-19 1h1v1h-1zm19 0h3v1h-3zm2 1h1v1h-1zm-21 1h1v1h-1zm19 0h2v1h-2zm1 1h1v1h-1zm-20 1h2v1h-2zm18 0h3v1h-3zm-18 1h2v1h-2zm1 1h2v1h-2zm18 0h1v1h-1zm-18 1h2v1h-2zm15 0h4v1h-4zm-14 1h1v1h-1zm15 0h1v1h-1zm-15 1h3v1h-3zm14 0h1v1h-1zm-13 1h2v1h-2zm11 0h1v1h-1zm-9 1h1v1h-1zm8 0h1v1h-1zm-8 1h1v1h-1zm6 0h1v1h-1zm-5 1h3v1h-3zm4 0h2v1h-2z"/>
<path transform="translate(334 273)" fill="#3574ce" d="M0 0m28 44h1v1h-1zm-5 1h1v1h-1zm2 0h2v1h-2zm-3 1h2v1h-2zm3 0h3v1h-3zm-5 1h3v1h-3zm4 0h1v1h-1zm2 0h3v1h-3zm4 0h1v1h-1zm-11 1h2v1h-2zm11 0h2v1h-2zm0 1h1v1h-1zm2 0h1v1h-1zm-15 1h2v1h-2zm13 0h2v1h-2zm2 1h1v1h-1zm-16 1h1v1h-1zm18 0h1v1h-1zm-18 1h1v1h-1zm17 0h2v1h-2zm-18 1h1v1h-1zm19 0h1v1h-1zm-20 1h1v1h-1zm20 0h2v1h-2zm-20 1h1v1h-1zm22 0h1v1h-1zm-1 1h1v1h-1zm2 0h1v1h-1zm-25 1h2v1h-2zm24 0h1v1h-1zm2 0h1v1h-1zm-26 1h1v1h-1zm25 0h2v1h-2zm0 1h1v1h-1zm3 0h1v1h-1zm-2 1h1v1h-1zm-27 1h2v1h-2zm27 0h1v1h-1zm-26 1h1v1h-1zm0 1h1v1h-1zm27 0h1v1h-1zm-27 1h1v1h-1zm25 0h2v1h-2zm-25 1h1v1h-1zm25 0h2v1h-2zm-25 1h2v1h-2zm0 1h1v1h-1zm24 0h2v1h-2zm-22 1h1v1h-1zm-1 1h1v1h-1zm1 1h1v1h-1zm19 0h2v1h-2zm-18 1h1v1h-1zm17 0h2v1h-2zm-1 1h1v1h-1zm-15 1h1v1h-1zm11 0h1v1h-1zm3 0h2v1h-2zm-12 1h1v1h-1zm9 0h1v1h-1zm2 0h1v1h-1z"/>
<path transform="translate(334 273)" fill="#2845ac" d="M0 0m25 20h1v1h-1zm-4 2h1v1h-1zm-2 1h1v1h-1zm11 0h1v1h-1zm-14 4h1v1h-1zm17 0h1v1h-1zm-17 1h1v1h-1zm16 0h1v1h-1zm2 2h1v1h-1zm-20 1h1v1h-1zm-2 5h1v1h-1zm26 2h1v1h-1zm-28 2h2v1h-2zm-1 1h2v1h-2zm33 1h1v1h-1zm0 1h2v1h-2zm-36 3h1v1h-1zm41 0h1v1h-1zm0 1h1v1h-1zm1 1h1v1h-1zm-43 1h1v1h-1zm0 1h1v1h-1zm45 1h1v1h-1zm2 0h1v1h-1zm1 3h1v1h-1zm1 2h2v1h-2zm0 1h2v1h-2zm2 2h1v1h-1zm-54 5h1v1h-1zm53 1h1v1h-1zm-53 1h1v1h-1zm54 0h1v1h-1zm-1 2h1v1h-1zm0 2h1v1h-1zm-51 3h1v1h-1zm2 2h1v1h-1z"/>
<path transform="translate(334 273)" fill="#93a6d9" d="M0 0m24 30h1v1h-1zm1 11h1v1h-1zm10 11h1v1h-1zm4 0h1v1h-1zm2 4h1v1h-1zm2 2h1v1h-1zm1 6h1v1h-1zm-2 3h1v1h-1zm-33 3h1v1h-1zm4 6h4v1h-4zm17 0h2v1h-2zm4 0h2v1h-2z"/>
<path transform="translate(334 273)" fill="#2844ab" d="M0 0m27 18h1v1h-1zm-4 1h1v1h-1zm2 0h1v1h-1zm-5 1h1v1h-1zm-1 1h1v1h-1zm11 1h1v1h-1zm4 0h1v1h-1zm-17 1h1v1h-1zm17 1h2v1h-2zm-21 1h1v1h-1zm2 1h1v1h-1zm20 1h1v1h-1zm-21 2h1v1h-1zm-4 4h4v1h-4zm1 1h1v1h-1zm28 1h1v1h-1zm-31 2h1v1h-1zm34 1h1v1h-1zm-1 1h1v1h-1zm-33 1h1v1h-1zm35 1h1v1h-1zm-37 3h1v1h-1zm39 0h1v1h-1zm-39 1h1v1h-1zm43 1h1v1h-1zm2 4h1v1h-1zm3 0h1v1h-1zm0 2h1v1h-1zm-51 2h1v1h-1zm-2 1h1v1h-1zm55 0h1v1h-1zm0 1h2v1h-2zm1 2h1v1h-1zm-56 1h1v1h-1zm57 0h1v1h-1zm-58 2h1v1h-1zm0 1h1v1h-1zm58 0h1v1h-1zm-58 1h1v1h-1zm0 5h1v1h-1zm1 1h1v1h-1zm56 0h1v1h-1zm-1 1h1v1h-1zm-1 1h1v1h-1zm-2 3h1v1h-1zm-2 1h1v1h-1z"/>
<path transform="translate(334 273)" fill="#e6881c" d="M0 0m22 58h2v1h-2zm1 1h2v1h-2zm-1 1h3v1h-3zm-1 1h4v1h-4zm0 1h4v1h-4zm0 1h5v1h-5zm0 1h4v1h-4zm0 1h4v1h-4zm1 1h3v1h-3zm0 1h3v1h-3zm-1 1h4v1h-4zm1 1h3v1h-3zm0 1h1v1h-1z"/>
<path transform="translate(334 273)" fill="#a5ce39" d="M0 0m22 54h1v1h-1zm-1 1h3v1h-3zm0 1h4v1h-4zm0 1h5v1h-5zm0 1h1v1h-1zm3 0h3v1h-3zm-4 1h3v1h-3zm5 0h1v1h-1zm-5 1h2v1h-2zm5 0h3v1h-3zm-6 1h2v1h-2zm6 0h3v1h-3zm-6 1h2v1h-2zm6 0h4v1h-4zm-7 1h3v1h-3zm8 0h1v1h-1zm2 0h1v1h-1zm-9 1h2v1h-2zm6 0h3v1h-3zm-5 1h1v1h-1zm5 0h3v1h-3zm-6 1h3v1h-3zm6 0h3v1h-3zm-5 1h2v1h-2zm5 0h2v1h-2zm-5 1h1v1h-1zm5 0h3v1h-3zm-5 1h2v1h-2zm5 0h1v1h-1zm-4 1h1v1h-1zm2 0h3v1h-3zm-1 1h3v1h-3zm1 1h1v1h-1z"/>
<path transform="translate(334 273)" fill="#98b4e3" d="M0 0m17 48h1v1h-1zm-5 7h1v1h-1zm0 2h1v1h-1zm23 15h1v1h-1zm-18 4h2v1h-2zm3 0h1v1h-1zm6 0h4v1h-4z"/>
<path transform="translate(334 273)" fill="#7ac3d5" d="M0 0m25 48h1v1h-1zm-2 2h2v1h-2zm4 1h1v1h-1zm-6 1h1v1h-1zm3 0h1v1h-1zm3 0h1v1h-1zm-1 2h1v1h-1zm5 0h1v1h-1zm-13 1h1v1h-1zm12 1h1v1h-1zm0 1h1v1h-1zm3 1h1v1h-1zm-19 5h1v1h-1zm20 0h1v1h-1zm-20 2h1v1h-1zm19 2h1v1h-1zm1 1h1v1h-1zm-17 1h1v1h-1zm11 0h1v1h-1zm-11 1h1v1h-1zm15 0h1v1h-1zm-3 1h1v1h-1zm-2 1h1v1h-1zm-7 2h1v1h-1zm6 0h1v1h-1z"/>
<path transform="translate(334 273)" fill="#2847ae" d="M0 0m23 23h2v1h-2zm-1 1h1v1h-1zm6 0h1v1h-1zm-9 3h1v1h-1zm-1 1h1v1h-1zm13 0h1v1h-1zm1 1h1v1h-1zm0 1h1v1h-1zm1 1h1v1h-1zm-16 2h1v1h-1zm17 1h1v1h-1zm1 2h1v1h-1zm-20 1h1v1h-1zm-2 2h2v1h-2zm25 2h1v1h-1zm-26 1h1v1h-1zm-2 3h1v1h-1zm-2 1h1v1h-1zm34 0h1v1h-1zm1 1h1v1h-1zm-35 1h1v1h-1zm37 1h1v1h-1zm-39 2h1v1h-1zm0 1h1v1h-1zm42 0h1v1h-1zm2 2h1v1h-1zm1 2h1v1h-1zm-46 1h1v1h-1zm47 1h1v1h-1zm-48 2h1v1h-1zm0 2h1v1h-1zm49 1h1v1h-1zm-49 1h1v1h-1zm49 1h1v1h-1zm-49 1h1v1h-1zm0 2h1v1h-1zm49 0h1v1h-1zm-48 2h1v1h-1zm46 0h2v1h-2zm-1 1h1v1h-1zm-2 1h1v1h-1zm-1 1h2v1h-2zm-40 1h1v1h-1zm36 1h2v1h-2z"/>
<path transform="translate(334 273)" fill="#59baaa" d="M0 0m23 51h1v1h-1zm-1 1h2v1h-2zm3 0h2v1h-2zm-5 1h3v1h-3zm6 0h2v1h-2zm3 0h1v1h-1zm-8 1h1v1h-1zm3 0h1v1h-1zm3 0h3v1h-3zm-8 1h1v1h-1zm9 0h1v1h-1zm2 0h1v1h-1zm-13 1h3v1h-3zm11 0h2v1h-2zm-11 1h2v1h-2zm12 0h1v1h-1zm2 0h1v1h-1zm-13 1h1v1h-1zm13 0h2v1h-2zm-15 1h2v1h-2zm15 0h1v1h-1zm-15 1h1v1h-1zm16 0h1v1h-1zm-16 1h2v1h-2zm15 0h1v1h-1zm-16 1h2v1h-2zm16 0h2v1h-2zm-16 1h2v1h-2zm16 0h3v1h-3zm-16 1h2v1h-2zm17 0h1v1h-1zm-17 1h2v1h-2zm16 0h1v1h-1zm2 0h1v1h-1zm-17 1h1v1h-1zm15 0h1v1h-1zm-15 1h2v1h-2zm15 0h2v1h-2zm-1 1h2v1h-2zm-12 2h1v1h-1zm11 0h2v1h-2zm-10 1h1v1h-1zm8 0h2v1h-2zm-8 1h1v1h-1zm1 1h1v1h-1zm5 0h2v1h-2zm-4 1h1v1h-1zm3 0h1v1h-1zm-1 1h1v1h-1z"/>
<path transform="translate(334 273)" fill="#5d74c1" d="M0 0m21 20h2v1h-2zm3 0h1v1h-1zm-3 1h1v1h-1zm2 0h2v1h-2zm7 0h1v1h-1zm-13 1h1v1h-1zm5 0h2v1h-2zm9 0h1v1h-1zm-11 1h2v1h-2zm-3 1h1v1h-1zm15 0h1v1h-1zm-16 1h1v1h-1zm16 0h2v1h-2zm-16 1h3v1h-3zm15 0h1v1h-1zm2 0h1v1h-1zm-15 1h1v1h-1zm-3 1h1v1h-1zm18 0h2v1h-2zm-18 1h2v1h-2zm18 0h1v1h-1zm0 1h1v1h-1zm2 0h1v1h-1zm0 1h2v1h-2zm-20 1h1v1h-1zm20 0h3v1h-3zm-21 1h1v1h-1zm2 0h1v1h-1zm19 0h3v1h-3zm-23 1h1v1h-1zm2 0h2v1h-2zm21 0h4v1h-4zm-22 1h1v1h-1zm24 1h2v1h-2zm-26 1h1v1h-1zm2 0h1v1h-1zm24 0h1v1h-1zm-26 1h1v1h-1zm2 0h1v1h-1zm26 0h2v1h-2zm-28 1h1v1h-1zm28 1h1v1h-1zm3 0h1v1h-1zm-34 1h1v1h-1zm3 0h1v1h-1zm28 0h2v1h-2zm-30 1h2v1h-2zm32 0h1v1h-1zm2 0h1v1h-1zm-36 1h2v1h-2zm3 0h1v1h-1zm35 0h1v1h-1zm-4 1h1v1h-1zm2 0h2v1h-2zm-36 1h1v1h-1zm36 0h1v1h-1zm3 0h2v1h-2zm-39 1h1v1h-1zm37 0h3v1h-3zm-39 1h1v1h-1zm3 0h1v1h-1zm38 0h1v1h-1zm-42 1h1v1h-1zm2 0h1v1h-1zm44 0h1v1h-1zm-46 1h1v1h-1zm42 0h4v1h-4zm2 1h1v1h-1zm2 0h1v1h-1zm-46 1h1v1h-1zm49 0h1v1h-1zm-50 1h1v1h-1zm49 0h2v1h-2zm-49 1h2v1h-2zm49 0h1v1h-1zm2 0h1v1h-1zm-50 1h2v1h-2zm50 0h1v1h-1zm-1 1h1v1h-1zm-51 1h3v1h-3zm1 1h2v1h-2zm0 1h2v1h-2zm50 0h1v1h-1zm-51 1h2v1h-2zm52 0h1v1h-1zm-53 1h1v1h-1zm54 0h3v1h-3zm0 1h1v1h-1zm-54 1h1v1h-1zm54 0h1v1h-1zm0 1h3v1h-3zm-52 1h1v1h-1zm53 0h3v1h-3zm-54 1h2v1h-2zm52 0h1v1h-1zm3 0h2v1h-2zm-54 1h1v1h-1zm52 0h1v1h-1zm2 0h1v1h-1zm-56 1h1v1h-1zm54 0h2v1h-2zm-53 1h1v1h-1zm53 1h1v1h-1zm-52 1h2v1h-2zm51 0h1v1h-1zm-51 1h1v1h-1zm49 0h2v1h-2zm-47 1h1v1h-1zm45 0h1v1h-1zm2 0h2v1h-2zm-47 1h1v1h-1zm46 0h2v1h-2zm-46 1h2v1h-2zm43 0h1v1h-1zm2 0h2v1h-2zm-5 1h1v1h-1zm3 0h1v1h-1z"/>
<path transform="translate(334 273)" fill="#284bb2" d="M0 0m26 35h1v1h-1zm0 1h1v1h-1zm-2 1h2v1h-2zm3 0h2v1h-2zm-4 1h3v1h-3zm4 0h1v1h-1zm-5 1h6v1h-6zm7 0h1v1h-1zm-7 1h1v1h-1zm5 0h1v1h-1zm2 0h2v1h-2zm-10 1h1v1h-1zm9 0h4v1h-4zm-10 1h1v1h-1zm3 0h1v1h-1zm9 0h3v1h-3zm1 1h2v1h-2zm-14 1h1v1h-1zm17 0h1v1h-1zm-18 1h2v1h-2zm18 0h2v1h-2zm-20 1h1v1h-1zm20 0h2v1h-2zm-19 1h1v1h-1zm19 0h1v1h-1zm-20 1h1v1h-1zm22 0h1v1h-1zm-23 1h2v1h-2zm25 2h2v1h-2zm-26 1h1v1h-1zm26 0h1v1h-1zm2 0h1v1h-1zm-30 1h2v1h-2zm29 0h2v1h-2zm-29 1h1v1h-1zm32 1h1v1h-1zm-32 1h1v1h-1zm32 0h2v1h-2zm-32 1h1v1h-1zm32 0h2v1h-2zm-33 1h1v1h-1zm35 0h1v1h-1zm-36 1h1v1h-1zm36 0h1v1h-1zm-36 1h1v1h-1zm37 0h1v1h-1zm-1 1h2v1h-2zm0 1h2v1h-2zm2 1h1v1h-1zm-38 1h2v1h-2zm37 0h1v1h-1zm2 0h1v1h-1zm-2 1h1v1h-1zm-1 1h1v1h-1zm2 0h1v1h-1zm-2 1h2v1h-2zm-35 1h1v1h-1zm34 0h2v1h-2zm-34 1h2v1h-2zm32 0h1v1h-1zm-2 1h1v1h-1zm-29 1h1v1h-1zm1 1h1v1h-1zm28 0h1v1h-1zm-3 1h1v1h-1zm-24 1h1v1h-1zm22 0h1v1h-1zm2 0h1v1h-1zm-24 1h2v1h-2zm22 0h2v1h-2z"/>
<path transform="translate(334 273)" fill="#6a9edd" d="M0 0m21 46h1v1h-1zm2 1h1v1h-1zm2 0h1v1h-1zm-2 1h1v1h-1zm6 0h1v1h-1zm-11 1h1v1h-1zm13 0h1v1h-1zm-4 1h1v1h-1zm2 0h1v1h-1zm-12 2h1v1h-1zm14 0h1v1h-1zm-16 1h1v1h-1zm17 0h1v1h-1zm1 1h1v1h-1zm0 2h1v1h-1zm3 1h1v1h-1zm-22 1h1v1h-1zm-1 1h1v1h-1zm21 0h1v1h-1zm2 0h1v1h-1zm-1 1h1v1h-1zm-22 2h1v1h-1zm24 1h2v1h-2zm1 1h1v1h-1zm-27 2h1v1h-1zm25 1h1v1h-1zm-1 2h1v1h-1zm-20 1h1v1h-1zm19 0h1v1h-1zm-20 2h1v1h-1zm17 0h1v1h-1zm-14 2h1v1h-1zm11 0h1v1h-1zm-9 1h1v1h-1zm9 0h1v1h-1z"/>
<path transform="translate(334 273)" fill="#3065c5" d="M0 0m22 43h1v1h-1zm-1 1h1v1h-1zm2 0h5v1h-5zm-4 1h1v1h-1zm9 1h2v1h-2zm-9 1h1v1h-1zm10 0h1v1h-1zm3 0h1v1h-1zm-14 1h1v1h-1zm14 0h1v1h-1zm-15 1h1v1h-1zm15 1h2v1h-2zm1 1h1v1h-1zm-18 1h1v1h-1zm-1 1h1v1h-1zm21 0h1v1h-1zm-21 1h1v1h-1zm21 0h2v1h-2zm2 1h1v1h-1zm-24 2h1v1h-1zm25 0h1v1h-1zm-1 1h1v1h-1zm2 1h1v1h-1zm-27 1h1v1h-1zm27 0h1v1h-1zm-28 1h1v1h-1zm28 1h2v1h-2zm-28 1h1v1h-1zm28 0h3v1h-3zm-29 1h1v1h-1zm0 1h1v1h-1zm29 0h1v1h-1zm0 1h1v1h-1zm-28 1h1v1h-1zm26 0h2v1h-2zm-26 1h1v1h-1zm2 1h1v1h-1zm23 0h2v1h-2zm-24 1h1v1h-1zm23 0h2v1h-2zm0 1h1v1h-1zm-1 1h1v1h-1zm-2 1h2v1h-2zm-18 1h2v1h-2zm2 1h2v1h-2zm14 0h1v1h-1z"/>
<path transform="translate(334 273)" fill="#a1cdeb" d="M0 0m32 52h1v1h-1zm-19 8h1v1h-1zm19 5h1v1h-1zm-13 11h1v1h-1zm2 0h5v1h-5z"/>
<path transform="translate(334 273)" fill="#2847ae" d="M0 0m23 24h1v1h-1zm4 0h1v1h-1zm-5 1h1v1h-1zm-2 1h1v1h-1zm9 0h1v1h-1zm-9 1h1v1h-1zm1 1h1v1h-1zm9 1h2v1h-2zm-12 3h1v1h-1zm0 1h1v1h-1zm15 0h1v1h-1zm-16 1h1v1h-1zm16 0h1v1h-1zm-16 1h1v1h-1zm-1 1h1v1h-1zm18 1h1v1h-1zm-19 1h1v1h-1zm20 0h1v1h-1zm1 1h1v1h-1zm0 1h1v1h-1zm-24 4h1v1h-1zm27 0h2v1h-2zm1 1h1v1h-1zm-30 1h1v1h-1zm-2 3h1v1h-1zm36 0h1v1h-1zm-36 1h1v1h-1zm36 0h2v1h-2zm-37 1h1v1h-1zm0 1h1v1h-1zm39 0h2v1h-2zm-40 1h2v1h-2zm42 0h1v1h-1zm-42 2h1v1h-1zm44 1h1v1h-1zm0 1h1v1h-1zm-45 2h1v1h-1zm47 1h1v1h-1zm0 4h1v1h-1zm-48 1h2v1h-2zm48 1h1v1h-1zm-47 1h1v1h-1zm0 1h1v1h-1zm47 0h1v1h-1zm-2 2h1v1h-1zm-43 3h1v1h-1zm1 2h1v1h-1zm34 0h1v1h-1z"/>
<path transform="translate(334 273)" fill="#2849b0" d="M0 0m25 28h2v1h-2zm-3 1h4v1h-4zm0 1h2v1h-2zm3 0h2v1h-2zm3 0h2v1h-2zm-5 1h1v1h-1zm4 0h2v1h-2zm-6 1h2v1h-2zm4 0h1v1h-1zm4 0h1v1h-1zm-8 1h1v1h-1zm-1 1h1v1h-1zm7 0h1v1h-1zm3 0h1v1h-1zm-10 1h1v1h-1zm2 0h1v1h-1zm8 0h1v1h-1zm-11 1h1v1h-1zm11 0h1v1h-1zm-10 1h1v1h-1zm11 0h2v1h-2zm-12 1h1v1h-1zm12 0h1v1h-1zm1 1h1v1h-1zm-15 1h1v1h-1zm16 0h1v1h-1zm-17 2h1v1h-1zm19 0h1v1h-1zm0 1h2v1h-2zm-21 1h1v1h-1zm23 0h1v1h-1zm0 2h2v1h-2zm-25 1h1v1h-1zm27 0h1v1h-1zm-27 1h1v1h-1zm27 0h1v1h-1zm1 1h1v1h-1zm0 1h1v1h-1zm-30 1h1v1h-1zm32 0h1v1h-1zm-33 2h1v1h-1zm33 0h2v1h-2zm3 1h1v1h-1zm-37 1h1v1h-1zm0 1h1v1h-1zm38 0h1v1h-1zm1 1h1v1h-1zm-40 1h1v1h-1zm40 0h1v1h-1zm2 3h1v1h-1zm0 1h1v1h-1zm-42 1h1v1h-1zm0 1h1v1h-1zm42 0h2v1h-2zm-42 1h1v1h-1zm41 1h2v1h-2zm0 1h1v1h-1zm-41 1h1v1h-1zm40 1h1v1h-1zm-39 1h1v1h-1zm0 1h1v1h-1zm36 0h1v1h-1zm-35 1h1v1h-1zm34 0h1v1h-1zm-2 1h1v1h-1zm-31 1h1v1h-1zm1 1h1v1h-1zm25 0h1v1h-1zm2 0h1v1h-1z"/>
<path transform="translate(334 273)" fill="#6286cf" d="M0 0m26 43h1v1h-1zm-4 1h1v1h-1zm-4 1h1v1h-1zm6 0h1v1h-1zm4 0h1v1h-1zm-10 2h1v1h-1zm-2 1h1v1h-1zm0 1h1v1h-1zm0 1h1v1h-1zm-1 1h2v1h-2zm19 0h2v1h-2zm-20 1h1v1h-1zm22 3h1v1h-1zm2 0h1v1h-1zm-25 1h1v1h-1zm24 0h1v1h-1zm3 1h1v1h-1zm-1 1h1v1h-1zm1 1h2v1h-2zm-2 1h1v1h-1zm1 1h3v1h-3zm-28 3h1v1h-1zm0 1h1v1h-1zm-1 1h1v1h-1zm31 1h1v1h-1zm-3 1h1v1h-1zm-26 1h1v1h-1zm1 2h1v1h-1zm0 2h1v1h-1zm2 0h1v1h-1zm19 0h1v1h-1zm-3 2h1v1h-1z"/>
<path transform="translate(334 273)" fill="#284ab1" d="M0 0m24 31h3v1h-3zm-1 1h1v1h-1zm3 0h1v1h-1zm-4 1h2v1h-2zm3 0h1v1h-1zm2 0h2v1h-2zm-3 1h3v1h-3zm4 0h1v1h-1zm-5 1h3v1h-3zm5 0h2v1h-2zm-1 1h3v1h-3zm-6 1h2v1h-2zm8 0h1v1h-1zm-8 1h2v1h-2zm7 0h3v1h-3zm-10 1h3v1h-3zm12 0h2v1h-2zm-11 1h1v1h-1zm12 0h1v1h-1zm-14 1h2v1h-2zm16 0h2v1h-2zm-16 1h1v1h-1zm16 0h2v1h-2zm-16 1h1v1h-1zm16 0h2v1h-2zm-18 1h2v1h-2zm20 0h1v1h-1zm-20 1h1v1h-1zm-2 1h1v1h-1zm2 0h1v1h-1zm-2 1h1v1h-1zm23 0h2v1h-2zm-23 1h1v1h-1zm24 0h2v1h-2zm1 2h2v1h-2zm-27 1h1v1h-1zm30 0h1v1h-1zm-31 1h2v1h-2zm31 0h1v1h-1zm0 1h1v1h-1zm-32 1h1v1h-1zm34 0h2v1h-2zm-33 1h1v1h-1zm33 0h3v1h-3zm-34 1h1v1h-1zm35 0h2v1h-2zm-36 1h2v1h-2zm36 0h2v1h-2zm-36 1h1v1h-1zm37 0h2v1h-2zm0 1h1v1h-1zm2 0h2v1h-2zm-1 1h2v1h-2zm-39 1h2v1h-2zm39 0h3v1h-3zm-38 1h1v1h-1zm39 0h2v1h-2zm0 1h2v1h-2zm1 1h1v1h-1zm-40 1h1v1h-1zm40 0h2v1h-2zm-41 1h1v1h-1zm1 1h1v1h-1zm38 0h1v1h-1zm-38 1h1v1h-1zm37 0h3v1h-3zm-37 1h1v1h-1zm36 0h3v1h-3zm-2 1h2v1h-2zm3 0h1v1h-1zm-4 1h3v1h-3zm-1 1h3v1h-3zm-30 1h1v1h-1zm27 0h4v1h-4zm-26 1h1v1h-1zm28 0h1v1h-1z"/></g>
<rect x="369.8" y="280.9" width="37.2" height="70.4" fill="none" stroke="#7a7a7a" stroke-width="1.2"/>
<text transform="translate(380.45 292.20) scale(1.1331 1)" font-size="9.517">c-Kit<tspan font-size="4.76" dy="-3.52" stroke-width="0.12">+</tspan></text>
<rect x="418.7" y="272.1" width="80.5" height="81.8" fill="#fff" stroke="#7f7f7f" stroke-width="1.3"/>
<g clip-path="url(#clip11)"><path transform="translate(419 273)" fill="#cfd5ec" d="M0 0m34 48h1v1h-1zm0 3h1v1h-1zm2 0h1v1h-1zm-6 1h1v1h-1zm5 0h2v1h-2zm0 1h1v1h-1zm-6 2h1v1h-1zm7 0h2v1h-2zm-10 1h3v1h-3zm10 0h1v1h-1zm-10 1h1v1h-1zm-4 2h2v1h-2zm3 0h1v1h-1zm11 0h1v1h-1zm-15 1h1v1h-1zm12 1h1v1h-1zm3 2h1v1h-1zm1 1h1v1h-1zm-20 1h1v1h-1zm18 0h1v1h-1zm-22 1h1v1h-1zm20 2h1v1h-1zm1 1h1v1h-1zm-32 1h1v1h-1zm1 1h1v1h-1zm32 0h1v1h-1zm4 3h1v1h-1zm0 1h1v1h-1zm-1 2h1v1h-1z"/>
<path transform="translate(419 273)" fill="#d0daf0" d="M0 0m21 78h1v1h-1zm3 0h1v1h-1z"/>
<path transform="translate(419 273)" fill="#cfd5ec" d="M0 0m26 65h1v1h-1zm-3 1h1v1h-1zm-5 1h1v1h-1zm8 0h1v1h-1zm-3 1h1v1h-1zm-6 1h1v1h-1zm4 0h1v1h-1zm-20 4h1v1h-1zm32 3h2v1h-2zm-3 2h1v1h-1z"/>
<path transform="translate(419 273)" fill="#9fbae4" d="M0 0m12 78h2v1h-2zm6 0h1v1h-1zm4 0h1v1h-1z"/>
<path transform="translate(419 273)" fill="#e7eaf5" d="M0 0m28 63h1v1h-1zm-5 1h1v1h-1zm5 0h1v1h-1zm-10 2h1v1h-1zm2 0h1v1h-1zm-3 1h1v1h-1zm10 1h1v1h-1zm4 0h1v1h-1zm-20 1h1v1h-1zm0 1h1v1h-1zm20 0h1v1h-1zm-27 1h1v1h-1zm29 1h1v1h-1z"/>
<path transform="translate(419 273)" fill="#71bb91" d="M0 0m13 74h4v1h-4zm6 0h1v1h-1zm3 0h2v1h-2zm-12 1h3v1h-3zm16 0h1v1h-1zm-16 1h2v1h-2zm16 0h1v1h-1zm-10 1h1v1h-1zm5 0h2v1h-2zm3 0h1v1h-1z"/>
<path transform="translate(419 273)" fill="#e7eaf5" d="M0 0m35 18h1v1h-1zm3 4h1v1h-1zm-8 1h1v1h-1zm17 1h1v1h-1zm-15 6h1v1h-1zm0 4h1v1h-1zm4 0h1v1h-1zm3 0h1v1h-1zm2 0h3v1h-3zm-15 1h1v1h-1zm10 0h1v1h-1zm3 0h1v1h-1zm7 0h1v1h-1zm-16 1h1v1h-1zm1 1h2v1h-2zm13 0h1v1h-1zm2 0h1v1h-1zm-17 1h1v1h-1zm18 0h1v1h-1zm-20 1h1v1h-1zm17 0h2v1h-2zm-19 3h1v1h-1zm2 0h1v1h-1zm-1 1h1v1h-1zm21 0h1v1h-1zm-26 1h1v1h-1zm30 0h1v1h-1zm-33 1h1v1h-1zm3 0h1v1h-1zm3 0h1v1h-1zm22 0h1v1h-1zm-26 1h1v1h-1zm1 1h2v1h-2zm3 0h1v1h-1zm26 0h1v1h-1zm-31 1h1v1h-1zm26 0h1v1h-1zm-26 1h1v1h-1zm2 0h1v1h-1zm26 0h1v1h-1zm-1 1h1v1h-1zm-28 1h1v1h-1zm-1 1h1v1h-1zm29 0h1v1h-1zm0 1h1v1h-1zm-33 1h1v1h-1zm32 0h1v1h-1zm0 1h1v1h-1zm-31 1h1v1h-1zm-10 1h1v1h-1zm4 0h3v1h-3zm-1 1h1v1h-1zm4 0h2v1h-2zm-2 1h1v1h-1zm3 0h1v1h-1zm-7 1h1v1h-1zm4 0h1v1h-1zm35 2h1v1h-1zm-38 2h1v1h-1zm39 0h1v1h-1zm3 0h1v1h-1zm-2 1h1v1h-1zm-46 1h2v1h-2zm44 1h1v1h-1zm3 0h1v1h-1zm-2 1h1v1h-1zm4 0h1v1h-1zm-3 1h1v1h-1zm5 0h1v1h-1zm-8 1h1v1h-1zm4 2h1v1h-1zm10 2h1v1h-1zm3 0h1v1h-1zm-11 1h1v1h-1zm0 1h1v1h-1zm1 1h1v1h-1zm-4 1h2v1h-2z"/>
<path transform="translate(419 273)" fill="#cfd5eb" d="M0 0m36 43h1v1h-1zm-1 1h1v1h-1zm-4 1h1v1h-1zm6 0h1v1h-1zm-1 1h2v1h-2zm3 0h1v1h-1zm-9 1h1v1h-1zm7 0h1v1h-1zm1 1h1v1h-1zm-15 5h1v1h-1zm2 0h1v1h-1zm14 1h1v1h-1zm-16 1h1v1h-1zm15 0h1v1h-1zm-19 2h2v1h-2zm21 3h1v1h-1zm-26 2h1v1h-1zm25 1h1v1h-1zm-25 1h1v1h-1zm26 0h1v1h-1zm-29 1h1v1h-1zm-2 1h1v1h-1zm31 0h1v1h-1zm-2 1h1v1h-1zm-34 2h1v1h-1zm33 0h1v1h-1zm2 0h1v1h-1zm-39 1h1v1h-1zm39 1h1v1h-1zm3 4h1v1h-1z"/>
<path transform="translate(419 273)" fill="#7badda" d="M0 0m20 73h1v1h-1zm5 0h1v1h-1zm-15 1h1v1h-1zm-4 1h1v1h-1zm21 1h1v1h-1zm-15 1h2v1h-2zm13 0h1v1h-1zm-10 1h3v1h-3zm4 0h2v1h-2z"/>
<path transform="translate(419 273)" fill="#496cc1" d="M0 0m18 69h1v1h-1zm3 1h1v1h-1zm-4 1h1v1h-1zm9 0h2v1h-2zm-18 1h1v1h-1zm6 0h2v1h-2zm3 0h2v1h-2zm4 0h2v1h-2zm3 0h1v1h-1zm3 0h1v1h-1zm-21 1h1v1h-1zm2 0h2v1h-2zm6 0h1v1h-1zm5 0h1v1h-1zm4 0h2v1h-2zm4 0h1v1h-1zm4 1h1v1h-1zm-27 1h2v1h-2zm3 0h1v1h-1zm21 0h1v1h-1zm2 0h1v1h-1zm2 0h1v1h-1zm-29 1h5v1h-5zm25 0h3v1h-3zm4 0h1v1h-1zm-28 1h2v1h-2zm3 0h3v1h-3zm20 0h1v1h-1zm2 0h2v1h-2z"/>
<path transform="translate(419 273)" fill="#5295cd" d="M0 0m13 73h1v1h-1zm2 0h4v1h-4zm6 0h2v1h-2zm-12 1h1v1h-1zm2 0h2v1h-2zm13 0h4v1h-4zm-16 1h2v1h-2zm19 0h1v1h-1zm-19 1h2v1h-2zm2 1h2v1h-2zm13 0h1v1h-1zm3 0h1v1h-1z"/>
<path transform="translate(419 273)" fill="#cfd5eb" d="M0 0m33 49h1v1h-1zm2 0h1v1h-1zm-2 1h5v1h-5zm-5 1h1v1h-1zm10 0h1v1h-1zm-4 1h1v1h-1zm3 0h1v1h-1zm0 1h1v1h-1zm-12 1h1v1h-1zm1 1h1v1h-1zm13 0h1v1h-1zm-2 1h1v1h-1zm-16 1h1v1h-1zm-1 1h2v1h-2zm18 0h1v1h-1zm-1 2h2v1h-2zm-19 1h1v1h-1zm-1 1h1v1h-1zm21 0h1v1h-1zm-21 1h1v1h-1zm-5 2h2v1h-2zm0 1h1v1h-1zm24 0h2v1h-2zm-27 2h1v1h-1zm27 0h1v1h-1zm-30 1h1v1h-1zm-2 1h1v1h-1zm34 2h1v1h-1zm3 3h1v1h-1z"/>
<path transform="translate(419 273)" fill="#e7eaf5" d="M0 0m36 41h1v1h-1zm1 2h1v1h-1zm-5 1h2v1h-2zm5 0h1v1h-1zm3 1h2v1h-2zm-12 1h1v1h-1zm12 0h1v1h-1zm-13 1h1v1h-1zm-2 1h1v1h-1zm16 0h1v1h-1zm-15 1h1v1h-1zm15 0h1v1h-1zm-18 1h4v1h-4zm19 0h1v1h-1zm-2 1h1v1h-1zm2 0h1v1h-1zm-19 1h1v1h-1zm-2 1h1v1h-1zm-3 3h1v1h-1zm21 0h1v1h-1zm2 0h1v1h-1zm1 1h1v1h-1zm-26 1h1v1h-1zm1 1h1v1h-1zm-5 3h1v1h-1zm29 1h2v1h-2zm-31 1h2v1h-2zm-8 5h1v1h-1zm39 2h1v1h-1zm-1 1h2v1h-2zm3 2h1v1h-1zm-1 2h2v1h-2z"/>
<path transform="translate(419 273)" fill="#b7c0e2" d="M0 0m29 46h1v1h-1zm6 0h1v1h-1zm-2 1h1v1h-1zm-2 1h1v1h-1zm0 1h1v1h-1zm-2 1h1v1h-1zm0 2h1v1h-1zm0 1h1v1h-1zm3 0h1v1h-1zm-5 1h1v1h-1zm9 0h1v1h-1zm-11 1h1v1h-1zm-1 1h1v1h-1zm14 0h1v1h-1zm-25 2h1v1h-1zm26 6h1v1h-1zm-29 2h1v1h-1zm25 0h1v1h-1zm-32 3h1v1h-1zm32 1h1v1h-1zm4 7h2v1h-2z"/>
<path transform="translate(419 273)" fill="#e7eaf5" d="M0 0m32 48h1v1h-1zm2 1h1v1h-1zm1 2h1v1h-1zm-8 2h1v1h-1zm11 1h1v1h-1zm-10 1h1v1h-1zm-5 2h2v1h-2zm14 0h1v1h-1zm-15 1h1v1h-1zm16 1h1v1h-1zm-24 6h1v1h-1zm25 0h1v1h-1zm-28 2h2v1h-2zm-6 2h1v1h-1zm32 3h1v1h-1zm4 2h1v1h-1z"/>
<path transform="translate(419 273)" fill="#9facda" d="M0 0m45 52h1v1h-1zm-15 3h1v1h-1zm3 0h1v1h-1zm2 0h1v1h-1zm-2 2h1v1h-1zm-8 1h1v1h-1zm11 0h1v1h-1zm-9 1h1v1h-1zm2 0h1v1h-1zm-5 1h1v1h-1zm2 0h1v1h-1zm-9 1h1v1h-1zm6 0h1v1h-1zm-3 1h1v1h-1zm0 1h1v1h-1zm2 0h1v1h-1zm2 0h1v1h-1zm9 0h1v1h-1zm5 0h1v1h-1zm-18 1h1v1h-1zm2 0h1v1h-1zm7 0h1v1h-1zm-5 1h2v1h-2zm9 0h1v1h-1zm-19 1h1v1h-1zm3 0h1v1h-1zm2 0h1v1h-1zm2 0h1v1h-1zm3 0h1v1h-1zm2 0h1v1h-1zm-7 1h1v1h-1zm5 0h1v1h-1zm7 0h1v1h-1zm-23 1h1v1h-1zm14 0h1v1h-1zm4 0h1v1h-1zm11 0h1v1h-1zm-28 1h1v1h-1zm14 0h1v1h-1zm2 0h2v1h-2zm5 0h2v1h-2zm-18 1h1v1h-1zm6 0h1v1h-1zm2 0h1v1h-1zm6 0h1v1h-1zm-21 1h1v1h-1zm2 0h2v1h-2zm12 0h3v1h-3zm4 0h1v1h-1zm2 0h1v1h-1zm4 0h1v1h-1zm-24 1h1v1h-1zm2 0h1v1h-1zm16 0h1v1h-1zm5 0h1v1h-1zm8 0h1v1h-1zm-32 1h1v1h-1zm26 0h2v1h-2zm5 0h1v1h-1zm-34 1h1v1h-1zm35 0h1v1h-1zm-2 1h1v1h-1zm6 0h1v1h-1zm-40 1h1v1h-1zm36 0h1v1h-1zm-30 1h1v1h-1zm28 0h1v1h-1zm3 0h1v1h-1zm-32 1h2v1h-2zm6 0h1v1h-1zm3 0h1v1h-1zm14 0h1v1h-1zm3 0h1v1h-1z"/>
<path transform="translate(419 273)" fill="#cfd5eb" d="M0 0m31 36h1v1h-1zm6 2h1v1h-1zm4 3h1v1h-1zm-6 1h1v1h-1zm-4 1h1v1h-1zm4 0h1v1h-1zm-4 1h1v1h-1zm-3 1h1v1h-1zm-2 1h1v1h-1zm16 1h1v1h-1zm2 0h1v1h-1zm-15 1h1v1h-1zm13 0h1v1h-1zm-18 1h1v1h-1zm-2 3h1v1h-1zm19 0h1v1h-1zm2 1h1v1h-1zm-23 1h1v1h-1zm-3 1h1v1h-1zm25 0h1v1h-1zm-25 2h1v1h-1zm24 0h1v1h-1zm3 0h1v1h-1zm-32 3h1v1h-1zm2 0h1v1h-1zm30 0h1v1h-1zm3 0h1v1h-1zm-37 1h1v1h-1zm37 1h1v1h-1zm-42 2h1v1h-1zm37 0h1v1h-1zm-32 1h1v1h-1zm31 0h1v1h-1zm-2 3h2v1h-2zm4 4h1v1h-1zm2 2h1v1h-1zm-4 4h1v1h-1z"/>
<path transform="translate(419 273)" fill="#b7c1e3" d="M0 0m20 69h1v1h-1zm4 0h1v1h-1zm-9 1h1v1h-1zm9 0h1v1h-1zm-12 1h1v1h-1zm-6 1h1v1h-1zm23 0h2v1h-2zm-27 1h2v1h-2zm30 0h1v1h-1zm-32 2h2v1h-2zm35 0h1v1h-1zm-32 2h1v1h-1zm1 1h1v1h-1z"/>
<path transform="translate(419 273)" fill="#e7eaf5" d="M0 0m34 39h1v1h-1zm4 0h2v1h-2zm-4 1h2v1h-2zm5 0h1v1h-1zm2 0h1v1h-1zm-9 1h1v1h-1zm7 0h1v1h-1zm4 0h1v1h-1zm-12 1h1v1h-1zm7 0h1v1h-1zm3 0h1v1h-1zm-7 1h1v1h-1zm6 0h3v1h-3zm-11 1h1v1h-1zm13 0h1v1h-1zm-15 1h1v1h-1zm15 0h1v1h-1zm-17 1h1v1h-1zm19 0h1v1h-1zm-19 1h1v1h-1zm-3 1h1v1h-1zm2 0h1v1h-1zm20 2h2v1h-2zm-21 1h1v1h-1zm-3 1h1v1h-1zm22 0h1v1h-1zm2 0h1v1h-1zm-26 1h1v1h-1zm26 2h1v1h-1zm-1 1h2v1h-2zm-28 1h1v1h-1zm-1 1h2v1h-2zm30 0h1v1h-1zm-31 1h1v1h-1zm30 0h1v1h-1zm-28 1h1v1h-1zm26 1h1v1h-1zm-31 1h1v1h-1zm32 0h1v1h-1zm2 1h1v1h-1zm-38 3h1v1h-1zm-2 1h1v1h-1zm37 0h1v1h-1zm-37 1h1v1h-1zm37 1h2v1h-2zm-1 2h1v1h-1zm4 2h2v1h-2zm1 2h1v1h-1zm0 1h1v1h-1zm-2 1h2v1h-2z"/>
<path transform="translate(419 273)" fill="#b7c2e5" d="M0 0m8 78h1v1h-1zm18 0h2v1h-2z"/>
<path transform="translate(419 273)" fill="#e7eaf5" d="M0 0m36 42h2v1h-2zm-2 2h1v1h-1zm-2 1h2v1h-2zm3 0h1v1h-1zm3 1h1v1h-1zm-10 1h1v1h-1zm10 0h2v1h-2zm-10 2h1v1h-1zm11 1h1v1h-1zm-14 1h1v1h-1zm15 1h1v1h-1zm-19 4h1v1h-1zm19 1h1v1h-1zm0 1h1v1h-1zm-1 2h1v1h-1zm-1 1h1v1h-1zm-23 1h1v1h-1zm25 0h1v1h-1zm-27 2h1v1h-1zm28 0h1v1h-1zm-31 3h1v1h-1zm-3 1h1v1h-1zm33 1h1v1h-1zm-39 1h1v1h-1zm36 0h1v1h-1zm2 0h1v1h-1zm-1 1h1v1h-1zm1 1h1v1h-1zm4 3h1v1h-1z"/>
<path transform="translate(419 273)" fill="#94c564" d="M0 0m17 74h2v1h-2zm3 0h2v1h-2zm-7 1h1v1h-1zm2 0h1v1h-1zm8 0h3v1h-3zm-11 1h4v1h-4zm11 0h3v1h-3zm-9 1h2v1h-2zm3 0h4v1h-4z"/>
<path transform="translate(419 273)" fill="#e7eaf5" d="M0 0m30 53h1v1h-1zm3 0h1v1h-1zm-3 1h1v1h-1zm3 0h1v1h-1zm-2 2h1v1h-1zm-1 1h1v1h-1zm-2 1h1v1h-1zm3 2h1v1h-1zm-7 1h1v1h-1zm4 0h1v1h-1zm4 1h1v1h-1zm-6 1h1v1h-1zm4 0h1v1h-1zm-12 1h2v1h-2zm-2 2h1v1h-1zm18 1h1v1h-1zm0 1h1v1h-1zm0 2h1v1h-1zm2 3h1v1h-1zm1 3h1v1h-1zm-2 2h1v1h-1z"/>
<path transform="translate(419 273)" fill="#e7eaf5" d="M0 0m21 67h1v1h-1zm-1 1h1v1h-1zm-7 1h1v1h-1zm6 0h1v1h-1zm8 1h1v1h-1zm-23 2h1v1h-1zm27 0h1v1h-1zm4 5h1v1h-1zm-32 1h1v1h-1zm4 0h1v1h-1z"/>
<path transform="translate(419 273)" fill="#6e85ca" d="M0 0m24 62h1v1h-1zm1 4h1v1h-1zm-5 1h1v1h-1zm15 0h1v1h-1zm-11 1h1v1h-1zm-11 2h1v1h-1zm4 0h1v1h-1zm8 0h1v1h-1zm-16 1h1v1h-1zm4 0h2v1h-2zm11 0h1v1h-1zm-13 1h1v1h-1zm5 0h1v1h-1zm3 0h2v1h-2zm6 0h1v1h-1zm-25 1h1v1h-1zm11 0h1v1h-1zm15 0h1v1h-1zm3 0h1v1h-1zm-27 1h4v1h-4zm5 0h2v1h-2zm22 0h1v1h-1zm4 0h1v1h-1zm-4 1h1v1h-1zm2 0h1v1h-1zm5 0h1v1h-1zm-5 1h1v1h-1zm4 0h1v1h-1zm-33 1h1v1h-1zm26 0h1v1h-1zm-3 1h1v1h-1z"/>
<path transform="translate(419 273)" fill="#8698d2" d="M0 0m33 52h1v1h-1zm-4 6h1v1h-1zm5 2h1v1h-1zm-15 1h1v1h-1zm6 1h1v1h-1zm-4 3h1v1h-1zm11 0h1v1h-1zm-10 1h1v1h-1zm5 0h1v1h-1zm0 1h1v1h-1zm9 0h1v1h-1zm-21 1h2v1h-2zm10 0h1v1h-1zm3 0h1v1h-1zm-14 1h1v1h-1zm2 0h1v1h-1zm6 0h1v1h-1zm-6 1h1v1h-1zm3 0h1v1h-1zm3 0h2v1h-2zm-12 1h1v1h-1zm5 0h1v1h-1zm3 0h1v1h-1zm4 0h1v1h-1zm6 0h1v1h-1zm-26 1h1v1h-1zm7 0h2v1h-2zm3 0h2v1h-2zm14 0h1v1h-1zm-21 1h1v1h-1zm2 0h1v1h-1zm3 0h1v1h-1zm2 0h1v1h-1zm16 0h1v1h-1zm5 0h2v1h-2zm-33 1h1v1h-1zm6 0h1v1h-1zm22 0h1v1h-1zm2 0h1v1h-1zm2 0h1v1h-1zm2 0h1v1h-1zm-32 1h1v1h-1zm31 0h1v1h-1zm-32 1h2v1h-2zm-1 1h2v1h-2zm31 0h2v1h-2zm-22 1h2v1h-2z"/>
<path transform="translate(419 273)" fill="#b7c0e3" d="M0 0m26 62h1v1h-1zm3 0h1v1h-1zm-5 2h2v1h-2zm3 0h1v1h-1zm3 0h1v1h-1zm-8 1h2v1h-2zm8 0h1v1h-1zm-2 1h1v1h-1zm2 0h1v1h-1zm-14 1h1v1h-1zm6 0h2v1h-2zm3 0h1v1h-1zm3 0h2v1h-2zm-11 1h2v1h-2zm4 0h1v1h-1zm8 0h2v1h-2zm-14 1h1v1h-1zm12 0h3v1h-3zm-17 1h1v1h-1zm4 0h1v1h-1zm14 0h2v1h-2zm3 1h1v1h-1zm2 0h1v1h-1zm-30 1h1v1h-1zm32 2h1v1h-1zm3 1h1v1h-1zm-6 3h1v1h-1z"/>
<path transform="translate(419 273)" fill="#e7eaf5" d="M0 0m35 48h1v1h-1zm-3 1h1v1h-1zm-1 1h1v1h-1zm-4 1h1v1h-1zm2 0h1v1h-1zm10 1h1v1h-1zm-8 1h1v1h-1zm5 0h1v1h-1zm-10 1h1v1h-1zm8 0h1v1h-1zm3 0h1v1h-1zm-12 2h1v1h-1zm8 0h1v1h-1zm2 0h1v1h-1zm2 2h1v1h-1zm-16 1h1v1h-1zm16 0h1v1h-1zm-1 1h1v1h-1zm-2 1h1v1h-1zm-15 1h1v1h-1zm16 0h1v1h-1zm2 0h1v1h-1zm-22 2h1v1h-1zm17 4h1v1h-1zm-29 2h1v1h-1zm33 1h2v1h-2zm4 5h1v1h-1z"/>
<path transform="translate(419 273)" fill="#e7eaf5" d="M0 0m26 53h1v1h-1zm8 0h1v1h-1zm-6 1h2v1h-2zm7 0h1v1h-1zm-8 1h1v1h-1zm4 0h1v1h-1zm-6 2h1v1h-1zm6 0h2v1h-2zm-8 1h2v1h-2zm1 1h1v1h-1zm-4 1h1v1h-1zm2 0h1v1h-1zm3 0h1v1h-1zm7 1h1v1h-1zm4 0h1v1h-1zm-14 1h1v1h-1zm14 0h1v1h-1zm-18 1h1v1h-1zm3 0h1v1h-1zm-5 1h2v1h-2zm2 1h1v1h-1zm18 0h1v1h-1zm-2 1h1v1h-1zm-1 1h1v1h-1zm-23 1h2v1h-2zm25 0h1v1h-1zm-25 1h1v1h-1zm27 5h1v1h-1zm2 2h1v1h-1zm-3 2h2v1h-2z"/>
<path transform="translate(419 273)" fill="#cfd6ed" d="M0 0m11 71h1v1h-1zm5 0h1v1h-1zm-13 4h1v1h-1zm26 3h1v1h-1z"/>
<path transform="translate(419 273)" fill="#b7c0e2" d="M0 0m31 52h1v1h-1zm1 2h1v1h-1zm0 1h1v1h-1zm-3 1h2v1h-2zm5 0h1v1h-1zm-5 1h1v1h-1zm5 0h2v1h-2zm-7 1h1v1h-1zm3 0h1v1h-1zm2 0h2v1h-2zm-1 1h3v1h-3zm-8 1h1v1h-1zm4 0h2v1h-2zm3 0h1v1h-1zm3 0h1v1h-1zm2 0h1v1h-1zm-15 1h2v1h-2zm7 0h1v1h-1zm2 0h1v1h-1zm6 0h1v1h-1zm-12 1h1v1h-1zm11 0h1v1h-1zm-5 1h1v1h-1zm4 1h1v1h-1zm2 0h1v1h-1zm-19 1h1v1h-1zm3 0h1v1h-1zm-4 1h1v1h-1zm16 0h1v1h-1zm-18 1h1v1h-1zm-1 1h1v1h-1zm2 0h1v1h-1zm18 1h2v1h-2zm-24 1h2v1h-2zm-8 2h2v1h-2zm38 4h1v1h-1zm-4 2h1v1h-1z"/>
<path transform="translate(419 273)" fill="#e7eaf5" d="M0 0m31 47h1v1h-1zm3 0h1v1h-1zm-4 1h1v1h-1zm6 0h1v1h-1zm3 0h1v1h-1zm-9 1h1v1h-1zm8 0h1v1h-1zm-11 1h1v1h-1zm13 0h1v1h-1zm-1 1h1v1h-1zm0 2h1v1h-1zm1 1h1v1h-1zm-20 2h1v1h-1zm2 1h1v1h-1zm-4 1h1v1h-1zm21 0h1v1h-1zm0 1h2v1h-2zm-21 1h1v1h-1zm-2 1h1v1h-1zm0 1h1v1h-1zm-3 1h2v1h-2zm3 0h1v1h-1zm22 1h1v1h-1zm-29 3h1v1h-1zm29 1h1v1h-1zm0 1h1v1h-1zm-38 2h1v1h-1zm39 2h1v1h-1zm2 0h1v1h-1zm0 3h1v1h-1z"/>
<path transform="translate(419 273)" fill="#e7ebf7" d="M0 0m23 78h1v1h-1z"/>
<path transform="translate(419 273)" fill="#cfd5ec" d="M0 0m32 60h1v1h-1zm-7 1h2v1h-2zm2 1h2v1h-2zm3 0h2v1h-2zm-5 1h1v1h-1zm2 0h1v1h-1zm4 0h1v1h-1zm-10 1h1v1h-1zm5 0h1v1h-1zm5 0h2v1h-2zm-11 1h1v1h-1zm8 0h2v1h-2zm3 0h1v1h-1zm1 1h1v1h-1zm-2 1h1v1h-1zm2 0h1v1h-1zm-13 1h1v1h-1zm-7 1h1v1h-1zm18 1h1v1h-1zm-24 1h1v1h-1zm26 1h1v1h-1zm1 5h1v1h-1zm-33 1h1v1h-1zm2 0h1v1h-1zm31 0h1v1h-1z"/>
<path transform="translate(419 273)" fill="#d4a72b" d="M0 0m14 75h1v1h-1zm2 0h7v1h-7zm0 1h7v1h-7z"/>
<path transform="translate(419 273)" fill="#cfd5ec" d="M0 0m26 58h1v1h-1zm0 1h1v1h-1zm2 0h1v1h-1zm2 0h1v1h-1zm4 0h1v1h-1zm-5 1h1v1h-1zm4 2h1v1h-1zm-14 1h1v1h-1zm4 0h1v1h-1zm9 0h1v1h-1zm2 0h1v1h-1zm0 1h1v1h-1zm-1 2h1v1h-1zm-19 1h1v1h-1zm-1 1h1v1h-1zm22 1h1v1h-1zm-29 1h2v1h-2zm26 0h2v1h-2zm-30 1h1v1h-1zm32 0h1v1h-1zm0 1h2v1h-2zm3 1h1v1h-1zm1 1h1v1h-1zm-2 3h1v1h-1z"/></g>
<rect x="453.5" y="280.9" width="39.3" height="70.4" fill="none" stroke="#7a7a7a" stroke-width="1.2"/>
<text transform="translate(464.15 292.20) scale(1.1331 1)" font-size="9.517">c-Kit<tspan font-size="4.76" dy="-3.52" stroke-width="0.12">+</tspan></text>
<rect x="333.4" y="353.9" width="80.6" height="80.8" fill="#fff" stroke="#7f7f7f" stroke-width="1.3"/>
<g clip-path="url(#clip20)"><path transform="translate(334 355)" fill="#326ac8" d="M0 0m22 42h4v1h-4zm5 0h1v1h-1zm-4 1h2v1h-2zm4 0h2v1h-2zm3 0h1v1h-1zm-9 1h2v1h-2zm5 0h1v1h-1zm4 0h2v1h-2zm-10 1h1v1h-1zm9 0h3v1h-3zm-11 1h2v1h-2zm14 0h1v1h-1zm-14 1h1v1h-1zm14 0h1v1h-1zm-15 1h2v1h-2zm16 0h1v1h-1zm-15 1h1v1h-1zm-2 1h2v1h-2zm18 0h1v1h-1zm-18 1h1v1h-1zm-1 1h2v1h-2zm21 0h1v1h-1zm-21 1h2v1h-2zm20 0h1v1h-1zm-20 1h1v1h-1zm22 0h1v1h-1zm-23 1h2v1h-2zm23 1h1v1h-1zm0 1h3v1h-3zm-24 1h1v1h-1zm25 0h1v1h-1zm-25 1h1v1h-1zm25 1h1v1h-1zm2 0h3v1h-3zm0 1h3v1h-3zm-27 1h1v1h-1zm31 0h2v1h-2zm-31 1h1v1h-1zm33 0h1v1h-1zm-1 1h3v1h-3zm-32 1h1v1h-1zm34 0h1v1h-1zm-34 1h2v1h-2zm34 0h1v1h-1zm-33 1h1v1h-1zm32 1h2v1h-2zm-31 1h1v1h-1zm25 0h1v1h-1zm2 0h4v1h-4zm-26 1h1v1h-1zm20 0h3v1h-3zm4 0h2v1h-2zm-23 1h2v1h-2zm16 0h3v1h-3zm-15 1h1v1h-1zm2 0h1v1h-1zm11 0h2v1h-2zm-12 1h3v1h-3zm10 0h1v1h-1zm2 0h1v1h-1zm-11 1h1v1h-1zm2 0h1v1h-1zm2 0h3v1h-3zm4 0h1v1h-1zm2 0h1v1h-1zm-7 1h2v1h-2z"/>
<path transform="translate(334 355)" fill="#2844aa" d="M0 0m20 25h1v1h-1zm23 13h1v1h-1zm-41 15h1v1h-1zm54 1h1v1h-1zm1 1h1v1h-1zm0 1h1v1h-1zm2 7h1v1h-1zm0 5h1v1h-1zm-56 3h1v1h-1zm1 1h1v1h-1z"/>
<path transform="translate(334 355)" fill="#9bbce7" d="M0 0m24 44h1v1h-1zm16 15h1v1h-1zm-25 8h1v1h-1zm22 1h1v1h-1zm-9 4h2v1h-2zm1 2h1v1h-1z"/>
<path transform="translate(334 355)" fill="#c9cfe9" d="M0 0m29 11h1v1h-1zm-7 3h1v1h-1zm5 0h2v1h-2zm0 1h1v1h-1zm-3 1h1v1h-1zm5 0h1v1h-1zm8 0h1v1h-1zm7 0h1v1h-1zm-28 1h1v1h-1zm3 0h1v1h-1zm12 0h1v1h-1zm2 0h2v1h-2zm-14 1h1v1h-1zm16 0h1v1h-1zm2 0h1v1h-1zm-22 3h1v1h-1zm2 0h1v1h-1zm20 1h1v1h-1zm2 0h1v1h-1zm-25 1h1v1h-1zm27 0h1v1h-1zm5 1h1v1h-1zm6 0h1v1h-1zm-39 1h1v1h-1zm34 0h1v1h-1zm-33 1h1v1h-1zm-7 1h2v1h-2zm7 0h1v1h-1zm26 0h1v1h-1zm11 0h1v1h-1zm-39 1h1v1h-1zm28 0h1v1h-1zm-32 1h1v1h-1zm4 0h1v1h-1zm31 0h2v1h-2zm-34 1h2v1h-2zm33 0h1v1h-1zm6 0h1v1h-1zm18 0h1v1h-1zm-59 1h4v1h-4zm40 0h1v1h-1zm-46 1h1v1h-1zm5 0h1v1h-1zm2 0h2v1h-2zm37 0h1v1h-1zm3 0h1v1h-1zm-46 1h1v1h-1zm45 0h1v1h-1zm-42 1h2v1h-2zm3 0h1v1h-1zm37 0h1v1h-1zm-44 1h1v1h-1zm6 0h1v1h-1zm37 0h1v1h-1zm3 0h1v1h-1zm6 0h1v1h-1zm-5 1h1v1h-1zm2 0h1v1h-1zm-2 1h1v1h-1zm12 0h1v1h-1zm-11 1h1v1h-1zm3 0h1v1h-1zm11 0h1v1h-1zm-60 1h1v1h-1zm52 0h2v1h-2zm9 0h1v1h-1zm-62 1h1v1h-1zm48 0h1v1h-1zm2 0h2v1h-2zm5 0h2v1h-2zm4 0h1v1h-1zm3 0h1v1h-1zm-64 1h3v1h-3zm51 0h2v1h-2zm3 0h1v1h-1zm6 0h1v1h-1zm10 0h1v1h-1zm-69 1h1v1h-1zm56 0h1v1h-1zm2 0h2v1h-2zm-57 1h1v1h-1zm51 0h1v1h-1zm4 0h2v1h-2zm3 0h1v1h-1zm8 0h1v1h-1zm2 0h1v1h-1zm-68 1h1v1h-1zm66 0h1v1h-1zm-68 1h1v1h-1zm2 0h1v1h-1zm58 0h1v1h-1zm3 0h1v1h-1zm-6 1h2v1h-2zm3 0h1v1h-1zm0 1h1v1h-1zm2 0h1v1h-1zm12 0h1v1h-1zm-74 1h1v1h-1zm61 0h1v1h-1zm3 0h1v1h-1zm4 0h1v1h-1zm7 0h1v1h-1zm-74 1h1v1h-1zm60 0h1v1h-1zm5 0h1v1h-1zm-66 1h2v1h-2zm73 0h1v1h-1zm3 0h1v1h-1zm-76 1h1v1h-1zm60 0h1v1h-1zm2 1h1v1h-1zm7 0h1v1h-1zm-2 1h1v1h-1zm3 0h1v1h-1zm4 0h1v1h-1zm-10 1h1v1h-1zm7 0h1v1h-1zm4 0h1v1h-1zm-7 1h1v1h-1zm2 0h1v1h-1zm-5 1h1v1h-1zm2 0h1v1h-1zm4 0h1v1h-1zm-1 1h1v1h-1zm-5 1h1v1h-1zm2 2h2v1h-2zm-2 1h2v1h-2zm4 0h1v1h-1zm2 0h1v1h-1zm7 0h1v1h-1zm-14 1h1v1h-1zm6 0h1v1h-1zm-5 1h1v1h-1zm4 0h1v1h-1zm-4 1h2v1h-2zm3 0h3v1h-3zm-3 1h1v1h-1zm1 1h1v1h-1zm-1 1h2v1h-2zm-2 1h1v1h-1zm6 0h1v1h-1zm7 1h1v1h-1zm-9 1h1v1h-1zm3 0h3v1h-3zm-5 1h2v1h-2zm3 0h1v1h-1zm4 1h1v1h-1zm-10 1h1v1h-1zm3 0h1v1h-1zm9 0h1v1h-1zm-13 1h2v1h-2zm5 0h1v1h-1zm2 0h1v1h-1zm-6 1h2v1h-2zm4 0h1v1h-1zm-1 1h1v1h-1z"/>
<path transform="translate(334 355)" fill="#5d76c4" d="M0 0m25 29h1v1h-1zm0 1h1v1h-1zm-1 1h1v1h-1zm3 0h1v1h-1zm-4 1h1v1h-1zm2 0h1v1h-1zm5 0h1v1h-1zm-5 1h1v1h-1zm3 1h1v1h-1zm-7 1h1v1h-1zm7 2h3v1h-3zm-7 1h2v1h-2zm11 0h1v1h-1zm2 1h1v1h-1zm-17 2h2v1h-2zm18 0h1v1h-1zm-19 1h1v1h-1zm18 0h1v1h-1zm1 1h1v1h-1zm-21 1h1v1h-1zm2 0h1v1h-1zm2 0h1v1h-1zm-5 1h1v1h-1zm4 0h1v1h-1zm-4 1h2v1h-2zm25 0h1v1h-1zm-2 1h2v1h-2zm0 1h1v1h-1zm-24 1h1v1h-1zm24 0h1v1h-1zm4 0h1v1h-1zm-2 1h1v1h-1zm2 0h1v1h-1zm-28 1h1v1h-1zm28 0h2v1h-2zm4 1h1v1h-1zm-2 1h1v1h-1zm2 1h1v1h-1zm1 1h1v1h-1zm-36 1h2v1h-2zm35 0h2v1h-2zm-34 1h1v1h-1zm32 0h1v1h-1zm2 0h1v1h-1zm-35 1h1v1h-1zm38 0h2v1h-2zm-1 1h2v1h-2zm4 0h1v1h-1zm-42 2h1v1h-1zm0 1h1v1h-1zm2 0h1v1h-1zm39 0h1v1h-1zm-40 2h2v1h-2zm42 0h2v1h-2zm-43 1h1v1h-1zm42 0h2v1h-2zm-41 1h1v1h-1zm2 0h1v1h-1zm40 0h1v1h-1zm-40 1h1v1h-1zm-1 1h1v1h-1zm41 0h1v1h-1zm-41 1h1v1h-1zm0 1h2v1h-2zm40 0h1v1h-1zm-40 1h1v1h-1zm2 1h1v1h-1zm30 0h2v1h-2zm4 0h1v1h-1zm-33 1h1v1h-1zm3 0h1v1h-1zm25 0h1v1h-1zm4 0h2v1h-2zm-8 1h1v1h-1zm-23 1h1v1h-1zm2 0h1v1h-1zm21 0h1v1h-1z"/>
<path transform="translate(334 355)" fill="#93a6d9" d="M0 0m21 36h1v1h-1zm6 1h1v1h-1zm1 2h1v1h-1zm0 1h1v1h-1zm4 1h1v1h-1zm-14 2h1v1h-1zm21 8h1v1h-1zm-28 2h1v1h-1zm30 3h1v1h-1zm2 4h1v1h-1zm4 11h1v1h-1zm-10 1h1v1h-1zm3 1h1v1h-1zm-23 3h17v1h-17z"/>
<path transform="translate(334 355)" fill="#5d73c0" d="M0 0m25 21h1v1h-1zm-3 1h1v1h-1zm2 0h1v1h-1zm6 0h2v1h-2zm-9 1h1v1h-1zm9 0h1v1h-1zm-10 1h1v1h-1zm12 0h1v1h-1zm-14 2h1v1h-1zm16 0h1v1h-1zm-16 1h1v1h-1zm-1 1h1v1h-1zm18 0h2v1h-2zm0 1h1v1h-1zm-20 4h1v1h-1zm24 5h1v1h-1zm-29 1h1v1h-1zm-1 1h1v1h-1zm34 1h1v1h-1zm-35 2h1v1h-1zm36 0h2v1h-2zm-38 1h2v1h-2zm1 1h1v1h-1zm-1 1h1v1h-1zm42 0h1v1h-1zm-42 1h1v1h-1zm42 0h1v1h-1zm-42 1h1v1h-1zm45 0h1v1h-1zm-46 1h1v1h-1zm50 3h1v1h-1zm-1 1h1v1h-1zm-52 3h2v1h-2zm1 1h1v1h-1zm55 1h1v1h-1zm0 1h1v1h-1zm0 1h1v1h-1zm0 5h1v1h-1zm-3 8h1v1h-1zm-51 1h1v1h-1z"/>
<path transform="translate(334 355)" fill="#284eb5" d="M0 0m25 35h1v1h-1zm-1 3h1v1h-1zm2 0h3v1h-3zm-3 1h3v1h-3zm-2 1h3v1h-3zm9 0h2v1h-2zm-9 1h1v1h-1zm9 0h2v1h-2zm-10 1h1v1h-1zm10 0h1v1h-1zm-11 1h1v1h-1zm13 0h1v1h-1zm0 1h2v1h-2zm1 1h1v1h-1zm-17 1h2v1h-2zm18 0h1v1h-1zm-19 1h2v1h-2zm1 1h1v1h-1zm-1 1h1v1h-1zm22 1h1v1h-1zm-24 1h2v1h-2zm25 0h1v1h-1zm0 1h1v1h-1zm2 2h1v1h-1zm-1 1h2v1h-2zm1 1h1v1h-1zm-28 1h1v1h-1zm29 0h1v1h-1zm0 1h3v1h-3zm-30 1h1v1h-1zm32 0h1v1h-1zm1 1h2v1h-2zm-33 1h2v1h-2zm35 0h2v1h-2zm-35 1h1v1h-1zm37 0h1v1h-1zm0 2h2v1h-2zm1 1h1v1h-1zm0 1h1v1h-1zm-37 1h1v1h-1zm1 1h1v1h-1zm35 0h2v1h-2zm-1 1h1v1h-1zm-34 1h2v1h-2zm1 1h1v1h-1zm26 0h1v1h-1zm2 0h2v1h-2zm3 0h1v1h-1zm-9 1h1v1h-1zm3 0h1v1h-1zm-3 1h2v1h-2zm-19 1h1v1h-1zm17 0h1v1h-1zm-13 1h1v1h-1zm10 0h1v1h-1z"/>
<path transform="translate(334 355)" fill="#47a5d4" d="M0 0m26 45h1v1h-1zm-4 1h5v1h-5zm-1 1h3v1h-3zm4 0h5v1h-5zm-4 1h3v1h-3zm5 0h1v1h-1zm2 0h1v1h-1zm-7 1h1v1h-1zm7 0h1v1h-1zm2 0h1v1h-1zm-11 1h1v1h-1zm10 0h4v1h-4zm-9 1h1v1h-1zm10 0h2v1h-2zm3 0h1v1h-1zm-15 1h2v1h-2zm13 0h2v1h-2zm-14 1h3v1h-3zm14 0h3v1h-3zm-14 1h2v1h-2zm15 0h3v1h-3zm-16 1h2v1h-2zm16 0h1v1h-1zm-15 1h1v1h-1zm17 0h1v1h-1zm-17 1h1v1h-1zm16 0h3v1h-3zm-17 1h2v1h-2zm18 0h1v1h-1zm-18 1h2v1h-2zm18 0h3v1h-3zm-18 1h1v1h-1zm18 0h2v1h-2zm-18 1h1v1h-1zm19 0h3v1h-3zm-19 1h2v1h-2zm18 0h4v1h-4zm5 0h1v1h-1zm-23 1h2v1h-2zm19 0h4v1h-4zm-19 1h2v1h-2zm18 0h3v1h-3zm5 0h5v1h-5zm-22 1h2v1h-2zm19 0h7v1h-7zm8 0h1v1h-1zm-28 1h3v1h-3zm18 0h1v1h-1zm2 0h2v1h-2zm3 0h1v1h-1zm2 0h2v1h-2zm3 0h1v1h-1zm-27 1h2v1h-2zm16 0h10v1h-10zm11 0h1v1h-1zm-26 1h2v1h-2zm14 0h3v1h-3zm4 0h1v1h-1zm5 0h1v1h-1zm2 0h1v1h-1zm-25 1h2v1h-2zm3 0h1v1h-1zm2 0h1v1h-1zm7 0h5v1h-5zm-11 1h1v1h-1zm3 0h1v1h-1zm5 0h2v1h-2zm3 0h3v1h-3zm-9 1h3v1h-3zm5 0h6v1h-6zm-4 1h1v1h-1zm2 0h4v1h-4zm0 1h1v1h-1z"/>
<path transform="translate(334 355)" fill="#5d72bf" d="M0 0m26 19h1v1h-1zm4 1h1v1h-1zm1 1h1v1h-1zm1 1h1v1h-1zm5 1h1v1h-1zm-1 4h1v1h-1zm-20 2h1v1h-1zm-2 1h1v1h-1zm0 1h1v1h-1zm26 0h1v1h-1zm3 3h1v1h-1zm-32 2h1v1h-1zm33 0h1v1h-1zm2 8h1v1h-1zm-41 1h1v1h-1zm47 0h1v1h-1zm-47 1h1v1h-1zm49 1h1v1h-1zm0 2h1v1h-1zm-52 1h1v1h-1zm55 3h1v1h-1zm2 1h1v1h-1zm1 1h1v1h-1zm-1 2h1v1h-1zm2 5h1v1h-1zm-60 4h1v1h-1zm0 3h1v1h-1zm0 3h1v1h-1zm57 0h1v1h-1zm-56 1h1v1h-1zm54 1h1v1h-1zm3 0h1v1h-1z"/>
<path transform="translate(334 355)" fill="#2847ae" d="M0 0m26 26h2v1h-2zm0 1h1v1h-1zm2 0h2v1h-2zm-6 1h1v1h-1zm2 0h1v1h-1zm5 0h1v1h-1zm2 0h1v1h-1zm-9 1h3v1h-3zm8 0h1v1h-1zm-9 1h2v1h-2zm10 0h1v1h-1zm1 1h2v1h-2zm0 1h2v1h-2zm-13 1h3v1h-3zm14 0h1v1h-1zm0 1h1v1h-1zm0 1h2v1h-2zm-16 1h2v1h-2zm-1 2h1v1h-1zm20 0h1v1h-1zm-19 1h1v1h-1zm19 0h1v1h-1zm-21 1h1v1h-1zm21 0h1v1h-1zm-22 1h2v1h-2zm23 0h2v1h-2zm-24 1h2v1h-2zm24 0h1v1h-1zm2 1h1v1h-1zm0 1h2v1h-2zm1 1h1v1h-1zm-28 1h1v1h-1zm28 0h2v1h-2zm-30 1h2v1h-2zm30 0h2v1h-2zm-30 1h1v1h-1zm33 0h1v1h-1zm0 1h1v1h-1zm0 1h3v1h-3zm2 1h1v1h-1zm-36 1h1v1h-1zm36 0h1v1h-1zm3 0h1v1h-1zm-40 1h1v1h-1zm-1 1h1v1h-1zm42 0h1v1h-1zm-42 1h1v1h-1zm44 0h1v1h-1zm-43 1h1v1h-1zm41 0h1v1h-1zm1 1h1v1h-1zm2 0h1v1h-1zm-45 1h1v1h-1zm44 0h1v1h-1zm-44 1h1v1h-1zm44 0h1v1h-1zm-44 1h1v1h-1zm45 1h2v1h-2zm-46 1h1v1h-1zm47 0h1v1h-1zm0 1h1v1h-1zm-47 1h1v1h-1zm0 1h1v1h-1zm47 0h2v1h-2zm-46 1h1v1h-1zm47 0h1v1h-1zm-48 1h2v1h-2zm47 0h1v1h-1zm-46 2h2v1h-2zm45 1h1v1h-1zm-2 1h1v1h-1zm-41 2h2v1h-2zm39 0h1v1h-1zm-4 1h1v1h-1zm2 0h1v1h-1zm-35 1h1v1h-1zm30 0h4v1h-4z"/>
<path transform="translate(334 355)" fill="#2848af" d="M0 0m28 28h1v1h-1zm-5 2h1v1h-1zm3 0h1v1h-1zm2 0h2v1h-2zm-5 1h1v1h-1zm2 0h2v1h-2zm3 0h1v1h-1zm3 0h1v1h-1zm-9 1h1v1h-1zm2 0h1v1h-1zm2 0h1v1h-1zm3 0h1v1h-1zm2 0h1v1h-1zm-9 1h1v1h-1zm8 0h2v1h-2zm-9 1h3v1h-3zm10 0h2v1h-2zm0 1h2v1h-2zm-12 1h2v1h-2zm0 1h1v1h-1zm13 0h2v1h-2zm-14 1h2v1h-2zm15 0h2v1h-2zm-15 1h1v1h-1zm15 0h1v1h-1zm2 0h1v1h-1zm-19 1h3v1h-3zm18 0h1v1h-1zm-18 1h1v1h-1zm20 0h1v1h-1zm-21 1h1v1h-1zm21 0h1v1h-1zm-22 1h3v1h-3zm23 0h1v1h-1zm0 1h1v1h-1zm0 1h3v1h-3zm2 1h1v1h-1zm-26 1h1v1h-1zm25 0h2v1h-2zm-27 1h2v1h-2zm29 0h1v1h-1zm-30 1h2v1h-2zm31 0h2v1h-2zm-30 1h1v1h-1zm30 0h2v1h-2zm-31 1h2v1h-2zm32 0h1v1h-1zm-32 1h2v1h-2zm31 0h3v1h-3zm-32 1h2v1h-2zm34 0h3v1h-3zm-34 1h2v1h-2zm38 0h1v1h-1zm-38 1h2v1h-2zm35 0h1v1h-1zm2 0h1v1h-1zm0 1h3v1h-3zm-37 1h1v1h-1zm39 0h2v1h-2zm-40 1h1v1h-1zm42 0h1v1h-1zm-42 1h1v1h-1zm41 0h1v1h-1zm-41 1h1v1h-1zm41 0h3v1h-3zm-42 1h1v1h-1zm43 0h2v1h-2zm-41 1h1v1h-1zm42 0h2v1h-2zm-42 1h1v1h-1zm42 0h2v1h-2zm-44 1h2v1h-2zm45 1h1v1h-1zm-44 1h1v1h-1zm44 0h1v1h-1zm-44 1h2v1h-2zm43 0h1v1h-1zm-43 1h2v1h-2zm1 1h1v1h-1zm41 0h1v1h-1zm-42 1h2v1h-2zm3 1h1v1h-1zm0 1h1v1h-1zm36 0h2v1h-2zm-36 1h1v1h-1zm31 0h3v1h-3zm-1 1h3v1h-3zm-26 1h1v1h-1zm23 0h3v1h-3z"/>
<path transform="translate(334 355)" fill="#5e7ac8" d="M0 0m25 37h1v1h-1zm0 1h1v1h-1zm2 1h1v1h-1zm2 0h1v1h-1zm5 5h1v1h-1zm1 3h1v1h-1zm-20 1h1v1h-1zm20 0h1v1h-1zm-22 5h1v1h-1zm25 0h1v1h-1zm-26 1h2v1h-2zm27 0h1v1h-1zm-26 1h1v1h-1zm-1 4h1v1h-1zm32 0h2v1h-2zm-33 1h1v1h-1zm36 2h1v1h-1zm1 1h1v1h-1zm-36 2h1v1h-1zm0 1h1v1h-1zm36 0h1v1h-1zm1 1h1v1h-1zm-3 2h1v1h-1zm-5 2h1v1h-1zm-26 1h1v1h-1zm0 1h1v1h-1zm18 1h1v1h-1zm-13 1h1v1h-1zm10 0h1v1h-1z"/>
<path transform="translate(334 355)" fill="#2846ac" d="M0 0m28 23h1v1h-1zm-1 1h2v1h-2zm-2 1h1v1h-1zm3 0h1v1h-1zm-7 2h1v1h-1zm9 0h2v1h-2zm2 1h1v1h-1zm0 1h1v1h-1zm1 1h1v1h-1zm-15 3h1v1h-1zm17 0h1v1h-1zm-19 1h2v1h-2zm19 0h1v1h-1zm-19 1h1v1h-1zm20 0h1v1h-1zm-21 1h1v1h-1zm22 1h1v1h-1zm0 1h1v1h-1zm1 2h1v1h-1zm1 1h1v1h-1zm1 2h1v1h-1zm1 2h1v1h-1zm-32 2h1v1h-1zm34 0h1v1h-1zm1 1h1v1h-1zm0 1h2v1h-2zm2 2h2v1h-2zm-39 1h1v1h-1zm43 1h1v1h-1zm-44 1h1v1h-1zm0 1h1v1h-1zm44 0h1v1h-1zm-45 1h1v1h-1zm48 0h1v1h-1zm0 1h1v1h-1zm-48 2h1v1h-1zm50 0h1v1h-1zm-50 1h1v1h-1zm-1 1h1v1h-1zm0 1h1v1h-1zm1 2h1v1h-1zm49 0h1v1h-1zm1 1h1v1h-1zm-50 2h1v1h-1zm1 1h1v1h-1zm48 0h1v1h-1zm0 2h1v1h-1zm-48 1h1v1h-1zm46 0h1v1h-1zm-45 1h1v1h-1zm44 0h1v1h-1zm-1 1h1v1h-1zm-41 2h1v1h-1zm38 0h1v1h-1z"/>
<path transform="translate(334 355)" fill="#6899db" d="M0 0m26 42h1v1h-1zm0 1h1v1h-1zm1 2h1v1h-1zm-6 1h1v1h-1zm-4 3h1v1h-1zm17 2h2v1h-2zm2 2h1v1h-1zm-20 1h1v1h-1zm20 0h1v1h-1zm1 1h1v1h-1zm-23 1h1v1h-1zm1 1h1v1h-1zm-1 1h1v1h-1zm0 2h1v1h-1zm0 1h1v1h-1zm25 0h1v1h-1zm-25 1h1v1h-1zm27 0h1v1h-1zm2 1h1v1h-1zm2 0h1v1h-1zm-31 2h1v1h-1zm32 2h1v1h-1zm-1 1h1v1h-1zm-28 1h1v1h-1zm19 0h1v1h-1zm-1 1h1v1h-1zm-16 2h1v1h-1zm11 0h1v1h-1zm-7 1h1v1h-1zm0 1h1v1h-1z"/>
<path transform="translate(334 355)" fill="#2845ab" d="M0 0m26 22h1v1h-1zm-4 2h1v1h-1zm-1 2h1v1h-1zm-1 1h1v1h-1zm14 0h1v1h-1zm-16 4h1v1h-1zm-1 1h1v1h-1zm-2 3h1v1h-1zm23 1h1v1h-1zm-28 5h1v1h-1zm0 1h1v1h-1zm31 0h1v1h-1zm-32 1h1v1h-1zm34 0h1v1h-1zm0 1h1v1h-1zm3 4h1v1h-1zm2 0h1v1h-1zm5 3h1v1h-1zm3 5h1v1h-1zm-52 1h1v1h-1zm51 0h1v1h-1zm-52 2h1v1h-1zm53 2h1v1h-1zm1 5h1v1h-1zm0 1h1v1h-1zm-54 2h1v1h-1zm4 4h1v1h-1zm45 0h1v1h-1zm-45 1h1v1h-1zm45 0h1v1h-1zm-1 1h1v1h-1z"/>
<path transform="translate(334 355)" fill="#5dbd9d" d="M0 0m24 47h1v1h-1zm0 1h1v1h-1zm3 0h1v1h-1zm-5 1h5v1h-5zm-1 1h2v1h-2zm7 0h1v1h-1zm1 1h1v1h-1zm0 1h2v1h-2zm-9 1h1v1h-1zm10 0h1v1h-1zm-11 1h1v1h-1zm11 0h2v1h-2zm-12 1h1v1h-1zm13 0h1v1h-1zm-13 1h1v1h-1zm14 0h2v1h-2zm-14 1h1v1h-1zm14 0h1v1h-1zm-14 1h1v1h-1zm14 0h2v1h-2zm-14 1h1v1h-1zm14 0h1v1h-1zm-15 1h1v1h-1zm16 0h1v1h-1zm-16 1h1v1h-1zm15 0h3v1h-3zm-14 1h1v1h-1zm0 1h1v1h-1zm14 0h3v1h-3zm-14 1h1v1h-1zm15 0h1v1h-1zm-14 1h1v1h-1zm13 0h4v1h-4zm-13 1h2v1h-2zm12 0h3v1h-3zm-12 1h3v1h-3zm11 0h1v1h-1zm2 0h1v1h-1zm-11 1h2v1h-2zm4 0h1v1h-1zm6 0h1v1h-1zm-11 1h1v1h-1zm2 0h1v1h-1zm2 0h2v1h-2zm4 0h2v1h-2zm-5 1h3v1h-3zm6 0h1v1h-1zm-5 1h1v1h-1z"/>
<path transform="translate(334 355)" fill="#c9d0e9" d="M0 0m28 17h1v1h-1zm-4 1h1v1h-1zm4 0h1v1h-1zm2 0h1v1h-1zm-8 1h1v1h-1zm2 0h1v1h-1zm5 0h2v1h-2zm-10 1h1v1h-1zm1 1h1v1h-1zm2 0h1v1h-1zm10 0h2v1h-2zm-14 1h1v1h-1zm16 0h1v1h-1zm-17 1h1v1h-1zm17 0h3v1h-3zm-18 1h1v1h-1zm19 0h1v1h-1zm2 0h1v1h-1zm0 1h1v1h-1zm-22 1h1v1h-1zm22 0h1v1h-1zm-22 1h1v1h-1zm22 0h1v1h-1zm-23 1h2v1h-2zm24 0h1v1h-1zm-24 1h2v1h-2zm24 0h1v1h-1zm-27 1h1v1h-1zm2 0h1v1h-1zm25 0h1v1h-1zm0 1h2v1h-2zm-25 1h1v1h-1zm26 0h1v1h-1zm-30 1h1v1h-1zm4 0h1v1h-1zm27 0h1v1h-1zm-31 1h1v1h-1zm3 0h1v1h-1zm28 0h3v1h-3zm-31 1h2v1h-2zm34 0h1v1h-1zm-36 1h3v1h-3zm35 0h1v1h-1zm-36 1h2v1h-2zm4 0h1v1h-1zm32 0h1v1h-1zm2 0h1v1h-1zm-38 1h1v1h-1zm3 0h1v1h-1zm35 0h1v1h-1zm-39 1h2v1h-2zm3 0h1v1h-1zm39 0h1v1h-1zm-42 1h2v1h-2zm3 0h1v1h-1zm36 0h1v1h-1zm2 0h1v1h-1zm-41 1h2v1h-2zm40 0h2v1h-2zm3 0h1v1h-1zm-43 1h2v1h-2zm42 0h1v1h-1zm-42 1h1v1h-1zm43 0h1v1h-1zm2 0h1v1h-1zm2 0h1v1h-1zm0 1h2v1h-2zm3 0h1v1h-1zm-51 1h1v1h-1zm45 0h1v1h-1zm4 0h1v1h-1zm2 0h1v1h-1zm-53 1h2v1h-2zm50 0h1v1h-1zm-50 1h1v1h-1zm2 0h1v1h-1zm47 0h2v1h-2zm6 0h1v1h-1zm-55 1h2v1h-2zm53 0h1v1h-1zm-53 1h1v1h-1zm55 0h3v1h-3zm-54 1h1v1h-1zm53 0h1v1h-1zm-53 1h1v1h-1zm55 0h1v1h-1zm3 0h1v1h-1zm-59 1h1v1h-1zm-2 1h2v1h-2zm60 0h1v1h-1zm-60 1h3v1h-3zm60 0h3v1h-3zm-60 1h2v1h-2zm59 0h1v1h-1zm3 0h2v1h-2zm-62 1h2v1h-2zm61 0h3v1h-3zm0 1h2v1h-2zm-61 1h1v1h-1zm60 0h1v1h-1zm-60 1h2v1h-2zm64 0h1v1h-1zm-3 1h1v1h-1zm-61 1h1v1h-1zm61 0h3v1h-3zm1 1h1v1h-1zm3 0h2v1h-2zm-4 1h1v1h-1zm2 0h2v1h-2zm1 1h1v1h-1zm-63 1h1v1h-1zm59 0h1v1h-1zm2 0h1v1h-1zm-62 1h1v1h-1zm62 0h3v1h-3zm1 1h1v1h-1zm-62 1h1v1h-1zm61 1h1v1h-1zm-61 1h1v1h-1zm0 1h1v1h-1zm58 0h1v1h-1zm-59 1h1v1h-1zm61 0h1v1h-1zm-58 1h1v1h-1zm56 0h3v1h-3zm-59 1h1v1h-1zm3 0h1v1h-1zm55 0h1v1h-1zm-57 1h3v1h-3zm55 0h1v1h-1zm2 0h2v1h-2zm-56 1h2v1h-2zm56 0h1v1h-1z"/>
<path transform="translate(334 355)" fill="#3a81d4" d="M0 0m25 43h1v1h-1zm-2 1h1v1h-1zm2 0h1v1h-1zm2 0h3v1h-3zm-6 1h5v1h-5zm7 0h1v1h-1zm-8 1h1v1h-1zm7 0h2v1h-2zm3 0h1v1h-1zm-11 1h2v1h-2zm11 0h2v1h-2zm-11 1h2v1h-2zm11 0h3v1h-3zm-11 1h2v1h-2zm13 0h2v1h-2zm-14 1h1v1h-1zm15 0h1v1h-1zm-15 1h1v1h-1zm14 0h1v1h-1zm-15 1h1v1h-1zm16 0h3v1h-3zm1 1h1v1h-1zm1 1h1v1h-1zm-1 1h3v1h-3zm-19 1h2v1h-2zm20 0h2v1h-2zm-21 1h1v1h-1zm22 0h1v1h-1zm-21 1h1v1h-1zm21 0h2v1h-2zm-22 1h2v1h-2zm24 0h1v1h-1zm-23 1h1v1h-1zm21 0h2v1h-2zm3 0h1v1h-1zm-24 1h1v1h-1zm23 0h1v1h-1zm-23 1h1v1h-1zm25 0h1v1h-1zm2 0h2v1h-2zm-28 1h2v1h-2zm26 0h1v1h-1zm4 0h1v1h-1zm-30 1h2v1h-2zm30 0h1v1h-1zm-29 1h2v1h-2zm30 0h2v1h-2zm-30 1h1v1h-1zm25 0h1v1h-1zm5 0h2v1h-2zm-29 1h1v1h-1zm29 0h1v1h-1zm-30 1h2v1h-2zm20 0h1v1h-1zm3 0h2v1h-2zm4 0h1v1h-1zm2 0h1v1h-1zm-28 1h1v1h-1zm21 0h1v1h-1zm2 0h1v1h-1zm2 0h1v1h-1zm-24 1h2v1h-2zm16 0h2v1h-2zm-14 1h2v1h-2zm13 0h1v1h-1zm-9 1h1v1h-1zm-1 1h1v1h-1zm3 0h1v1h-1zm2 0h2v1h-2zm3 0h1v1h-1zm-3 1h1v1h-1z"/>
<path transform="translate(334 355)" fill="#284ab1" d="M0 0m27 32h2v1h-2zm-4 1h2v1h-2zm3 0h4v1h-4zm-2 1h4v1h-4zm5 0h2v1h-2zm-7 1h3v1h-3zm4 0h5v1h-5zm-4 1h10v1h-10zm-2 1h5v1h-5zm6 0h1v1h-1zm5 0h1v1h-1zm-11 1h1v1h-1zm3 0h1v1h-1zm6 0h3v1h-3zm-10 1h4v1h-4zm11 0h3v1h-3zm-11 1h2v1h-2zm10 0h1v1h-1zm3 0h2v1h-2zm-13 1h2v1h-2zm14 0h2v1h-2zm-16 1h3v1h-3zm15 0h2v1h-2zm3 0h1v1h-1zm-18 1h1v1h-1zm16 0h2v1h-2zm-18 1h1v1h-1zm2 0h1v1h-1zm18 0h2v1h-2zm-21 1h3v1h-3zm20 0h3v1h-3zm-19 1h1v1h-1zm20 0h3v1h-3zm-21 1h1v1h-1zm-1 1h2v1h-2zm24 0h3v1h-3zm-24 1h2v1h-2zm24 0h3v1h-3zm-25 1h3v1h-3zm27 0h1v1h-1zm-27 2h2v1h-2zm27 0h2v1h-2zm-27 1h1v1h-1zm27 0h3v1h-3zm-28 1h1v1h-1zm30 0h3v1h-3zm-30 1h2v1h-2zm30 0h3v1h-3zm-30 1h2v1h-2zm31 0h2v1h-2zm-31 1h1v1h-1zm32 0h1v1h-1zm2 0h1v1h-1zm-35 1h2v1h-2zm34 0h3v1h-3zm-34 1h1v1h-1zm38 0h1v1h-1zm-39 1h2v1h-2zm37 0h3v1h-3zm-37 1h2v1h-2zm39 0h2v1h-2zm2 1h1v1h-1zm-40 1h2v1h-2zm39 0h2v1h-2zm-38 1h1v1h-1zm39 0h1v1h-1zm-41 1h3v1h-3zm1 1h1v1h-1zm40 0h1v1h-1zm-40 1h1v1h-1zm40 0h1v1h-1zm-39 1h2v1h-2zm39 0h1v1h-1zm-39 1h3v1h-3zm37 0h2v1h-2zm-36 1h1v1h-1zm34 0h2v1h-2zm-34 1h2v1h-2zm32 0h1v1h-1zm2 0h1v1h-1zm-33 1h2v1h-2zm25 0h1v1h-1zm2 0h2v1h-2zm4 0h2v1h-2zm-30 1h1v1h-1zm24 0h2v1h-2zm-24 1h3v1h-3zm21 0h2v1h-2zm3 0h3v1h-3zm-21 1h3v1h-3zm15 0h5v1h-5z"/>
<path transform="translate(334 355)" fill="#5d74c1" d="M0 0m24 25h1v1h-1zm3 0h1v1h-1zm2 0h2v1h-2zm-5 1h2v1h-2zm6 0h1v1h-1zm-8 1h2v1h-2zm-1 1h1v1h-1zm0 1h1v1h-1zm-1 1h1v1h-1zm12 0h1v1h-1zm-13 2h1v1h-1zm15 1h1v1h-1zm0 1h1v1h-1zm-17 1h2v1h-2zm18 0h1v1h-1zm-19 1h1v1h-1zm19 0h1v1h-1zm0 1h2v1h-2zm-20 1h1v1h-1zm-1 2h1v1h-1zm23 0h1v1h-1zm-24 1h1v1h-1zm-1 1h1v1h-1zm27 0h1v1h-1zm-27 1h1v1h-1zm30 3h1v1h-1zm0 1h1v1h-1zm-33 1h1v1h-1zm-1 1h1v1h-1zm38 0h1v1h-1zm-38 1h1v1h-1zm0 1h1v1h-1zm40 0h1v1h-1zm-2 1h1v1h-1zm-39 1h1v1h-1zm41 0h1v1h-1zm2 1h2v1h-2zm2 1h1v1h-1zm-1 1h1v1h-1zm-45 1h2v1h-2zm45 0h1v1h-1zm-45 1h1v1h-1zm47 0h2v1h-2zm0 1h1v1h-1zm0 1h2v1h-2zm-48 2h1v1h-1zm49 0h1v1h-1zm1 1h1v1h-1zm-50 2h1v1h-1zm1 1h1v1h-1zm0 3h1v1h-1zm47 0h1v1h-1zm0 1h1v1h-1zm-2 1h1v1h-1zm-43 1h1v1h-1zm0 1h1v1h-1zm41 0h1v1h-1zm-40 1h2v1h-2zm38 0h1v1h-1zm-37 1h1v1h-1zm35 0h2v1h-2z"/>
<path transform="translate(334 355)" fill="#94cc3e" d="M0 0m24 50h2v1h-2zm-1 1h3v1h-3zm-1 1h6v1h-6zm-1 1h2v1h-2zm5 0h3v1h-3zm-5 1h2v1h-2zm6 0h2v1h-2zm-7 1h1v1h-1zm8 0h2v1h-2zm-8 1h2v1h-2zm8 0h1v1h-1zm-8 1h1v1h-1zm8 0h2v1h-2zm-8 1h1v1h-1zm8 0h2v1h-2zm-8 1h1v1h-1zm8 0h3v1h-3zm-8 1h1v1h-1zm8 0h2v1h-2zm-8 1h1v1h-1zm9 0h1v1h-1zm-9 1h2v1h-2zm8 0h1v1h-1zm-8 1h2v1h-2zm8 0h2v1h-2zm-8 1h3v1h-3zm7 0h3v1h-3zm-5 1h2v1h-2zm5 0h3v1h-3zm-5 1h5v1h-5zm3 1h1v1h-1z"/>
<path transform="translate(334 355)" fill="#5d73c0" d="M0 0m27 22h2v1h-2zm-4 1h1v1h-1zm6 0h1v1h-1zm-6 1h1v1h-1zm9 1h1v1h-1zm0 1h1v1h-1zm-13 1h1v1h-1zm14 0h1v1h-1zm-14 1h1v1h-1zm-2 2h1v1h-1zm0 1h1v1h-1zm-1 1h1v1h-1zm-2 3h1v1h-1zm24 0h1v1h-1zm-24 1h1v1h-1zm26 3h1v1h-1zm0 1h1v1h-1zm-32 4h1v1h-1zm36 0h1v1h-1zm2 2h1v1h-1zm-38 1h1v1h-1zm-1 1h1v1h-1zm42 1h1v1h-1zm2 1h1v1h-1zm-45 1h1v1h-1zm45 0h1v1h-1zm-46 1h1v1h-1zm48 1h1v1h-1zm1 1h2v1h-2zm-1 1h1v1h-1zm-49 1h1v1h-1zm50 0h1v1h-1zm2 1h1v1h-1zm-53 1h2v1h-2zm53 1h1v1h-1zm-53 1h1v1h-1zm53 0h2v1h-2zm1 2h1v1h-1zm-54 1h1v1h-1zm54 0h1v1h-1zm-54 2h1v1h-1zm53 2h1v1h-1zm0 1h1v1h-1zm-52 2h1v1h-1zm1 1h1v1h-1zm49 1h1v1h-1zm-48 2h1v1h-1zm0 1h1v1h-1zm44 0h1v1h-1z"/>
<path transform="translate(334 355)" fill="#93a2d6" d="M0 0m27 23h1v1h-1zm-3 1h1v1h-1zm2 0h1v1h-1zm-3 1h1v1h-1zm-1 1h2v1h-2zm7 0h1v1h-1zm3 1h1v1h-1zm-5 1h1v1h-1zm3 0h1v1h-1zm-11 3h2v1h-2zm16 0h1v1h-1zm-1 1h1v1h-1zm2 1h1v1h-1zm-18 1h1v1h-1zm2 0h1v1h-1zm0 1h1v1h-1zm12 1h1v1h-1zm4 0h1v1h-1zm-21 1h2v1h-2zm2 1h1v1h-1zm21 0h1v1h-1zm-26 1h4v1h-4zm25 0h1v1h-1zm-24 1h1v1h-1zm27 1h1v1h-1zm-2 1h1v1h-1zm-27 1h1v1h-1zm30 0h2v1h-2zm-30 1h2v1h-2zm30 0h2v1h-2zm-31 1h1v1h-1zm-1 1h2v1h-2zm34 0h2v1h-2zm2 1h1v1h-1zm-3 1h1v1h-1zm-35 1h1v1h-1zm3 1h1v1h-1zm36 0h1v1h-1zm2 0h1v1h-1zm-41 1h1v1h-1zm2 0h1v1h-1zm-3 1h1v1h-1zm41 0h1v1h-1zm-41 1h1v1h-1zm43 0h1v1h-1zm2 0h1v1h-1zm-46 1h1v1h-1zm40 0h1v1h-1zm2 1h1v1h-1zm-41 1h1v1h-1zm40 1h2v1h-2zm3 1h1v1h-1zm3 0h1v1h-1zm-48 1h1v1h-1zm5 0h1v1h-1zm45 0h1v1h-1zm-49 2h2v1h-2zm49 0h1v1h-1zm-49 2h1v1h-1zm3 0h1v1h-1zm45 1h1v1h-1zm3 0h1v1h-1zm-52 1h1v1h-1zm50 2h2v1h-2zm-50 1h1v1h-1zm48 1h1v1h-1zm3 0h1v1h-1zm-48 1h1v1h-1zm41 0h2v1h-2zm-41 1h1v1h-1zm41 0h1v1h-1zm5 0h1v1h-1zm-3 1h1v1h-1zm-44 1h1v1h-1zm6 0h1v1h-1zm-1 1h1v1h-1zm2 0h1v1h-1zm35 0h2v1h-2zm0 1h2v1h-2zm-38 1h1v1h-1zm2 0h2v1h-2zm3 0h1v1h-1zm19 0h3v1h-3zm4 0h2v1h-2zm3 0h2v1h-2zm3 0h2v1h-2zm3 0h1v1h-1z"/>
<path transform="translate(334 355)" fill="#c9d0ea" d="M0 0m25 20h1v1h-1zm2 0h1v1h-1zm-4 1h2v1h-2zm3 0h1v1h-1zm2 0h2v1h-2zm-6 2h1v1h-1zm2 0h1v1h-1zm9 0h1v1h-1zm-12 1h1v1h-1zm9 0h1v1h-1zm3 0h1v1h-1zm-12 1h1v1h-1zm13 3h1v1h-1zm2 1h1v1h-1zm-21 2h2v1h-2zm22 0h1v1h-1zm-22 1h1v1h-1zm22 0h1v1h-1zm-23 2h2v1h-2zm24 0h1v1h-1zm-26 2h1v1h-1zm25 0h1v1h-1zm-26 2h1v1h-1zm0 1h1v1h-1zm32 0h1v1h-1zm-33 1h1v1h-1zm33 0h1v1h-1zm-35 1h1v1h-1zm4 0h1v1h-1zm-4 1h2v1h-2zm36 0h1v1h-1zm-34 2h1v1h-1zm37 0h1v1h-1zm-41 1h1v1h-1zm1 1h1v1h-1zm40 0h1v1h-1zm-42 1h1v1h-1zm45 0h1v1h-1zm-45 1h1v1h-1zm45 0h1v1h-1zm2 0h1v1h-1zm-1 1h1v1h-1zm2 0h1v1h-1zm1 1h1v1h-1zm-49 1h1v1h-1zm49 0h1v1h-1zm-50 1h1v1h-1zm49 0h1v1h-1zm-50 1h3v1h-3zm-1 2h1v1h-1zm52 0h1v1h-1zm2 0h1v1h-1zm2 0h1v1h-1zm-1 2h1v1h-1zm-52 1h1v1h-1zm-3 1h1v1h-1zm57 0h1v1h-1zm0 1h2v1h-2zm-1 1h2v1h-2zm-55 1h1v1h-1zm55 0h1v1h-1zm0 1h1v1h-1zm-58 1h3v1h-3zm4 0h1v1h-1zm53 0h2v1h-2zm3 0h1v1h-1zm-58 2h1v1h-1zm2 0h1v1h-1zm51 0h1v1h-1zm3 0h1v1h-1zm-56 1h1v1h-1zm0 1h1v1h-1zm53 0h1v1h-1zm2 0h1v1h-1zm-53 1h1v1h-1zm54 0h1v1h-1zm-56 1h1v1h-1zm53 0h1v1h-1zm-50 2h1v1h-1zm50 0h1v1h-1zm-2 1h1v1h-1zm-48 1h1v1h-1zm3 0h1v1h-1zm45 0h3v1h-3zm-45 1h1v1h-1zm45 0h1v1h-1zm-47 1h1v1h-1zm44 0h1v1h-1zm2 0h1v1h-1z"/>
<path transform="translate(334 355)" fill="#2d5abd" d="M0 0m26 39h1v1h-1zm-2 1h4v1h-4zm-2 1h2v1h-2zm3 0h1v1h-1zm2 0h3v1h-3zm1 1h1v1h-1zm3 0h1v1h-1zm-11 1h3v1h-3zm11 0h1v1h-1zm-12 1h2v1h-2zm-1 1h2v1h-2zm14 0h1v1h-1zm1 1h1v1h-1zm0 1h2v1h-2zm-17 2h1v1h-1zm18 0h2v1h-2zm-19 1h1v1h-1zm21 0h1v1h-1zm-21 1h1v1h-1zm22 0h1v1h-1zm-23 1h1v1h-1zm0 1h1v1h-1zm23 0h1v1h-1zm1 1h1v1h-1zm0 1h1v1h-1zm-25 1h1v1h-1zm26 0h1v1h-1zm-26 1h1v1h-1zm27 0h1v1h-1zm-28 1h1v1h-1zm27 0h2v1h-2zm3 1h1v1h-1zm-30 1h2v1h-2zm1 1h1v1h-1zm31 0h2v1h-2zm2 1h1v1h-1zm-34 1h1v1h-1zm35 0h1v1h-1zm-35 1h1v1h-1zm36 1h1v1h-1zm-35 2h1v1h-1zm34 0h2v1h-2zm-33 1h1v1h-1zm0 1h1v1h-1zm1 1h1v1h-1zm24 0h1v1h-1zm5 0h2v1h-2zm-29 1h1v1h-1zm21 0h4v1h-4zm-20 1h1v1h-1zm17 0h3v1h-3zm-16 1h2v1h-2zm15 0h4v1h-4zm-11 1h1v1h-1zm10 0h2v1h-2zm-9 1h1v1h-1zm3 0h2v1h-2zm3 0h2v1h-2z"/>
<path transform="translate(334 355)" fill="#74c662" d="M0 0m23 50h1v1h-1zm3 0h1v1h-1zm-5 1h2v1h-2zm5 0h3v1h-3zm-5 1h1v1h-1zm7 0h1v1h-1zm-8 2h1v1h-1zm9 0h1v1h-1zm1 1h1v1h-1zm-11 1h1v1h-1zm10 0h3v1h-3zm-10 1h1v1h-1zm11 0h2v1h-2zm-11 1h1v1h-1zm11 0h2v1h-2zm-11 1h1v1h-1zm12 0h1v1h-1zm2 0h1v1h-1zm-14 1h1v1h-1zm11 0h3v1h-3zm-12 1h2v1h-2zm12 0h2v1h-2zm-1 1h5v1h-5zm-10 1h1v1h-1zm11 0h2v1h-2zm-11 1h1v1h-1zm11 0h3v1h-3zm-10 1h2v1h-2zm10 0h1v1h-1zm-9 1h1v1h-1zm6 0h4v1h-4zm-5 1h3v1h-3zm4 0h1v1h-1zm2 0h2v1h-2zm3 0h1v1h-1zm-8 1h2v1h-2zm4 0h1v1h-1zm-1 1h2v1h-2z"/>
<path transform="translate(334 355)" fill="#e96518" d="M0 0m23 56h3v1h-3zm1 1h2v1h-2zm-1 1h3v1h-3zm0 1h4v1h-4zm0 1h3v1h-3zm-1 1h4v1h-4zm3 1h1v1h-1z"/>
<path transform="translate(334 355)" fill="#5d74c1" d="M0 0m25 23h2v1h-2zm0 1h1v1h-1zm4 0h1v1h-1zm-7 1h1v1h-1zm9 0h1v1h-1zm0 1h1v1h-1zm-11 2h1v1h-1zm13 0h1v1h-1zm-13 1h1v1h-1zm13 0h2v1h-2zm-14 1h1v1h-1zm15 1h1v1h-1zm-16 1h1v1h-1zm17 0h1v1h-1zm-18 1h1v1h-1zm19 1h1v1h-1zm1 1h1v1h-1zm-24 3h2v1h-2zm25 1h1v1h-1zm-26 1h1v1h-1zm27 0h1v1h-1zm-28 1h1v1h-1zm0 1h1v1h-1zm-2 2h1v1h-1zm33 1h1v1h-1zm-34 1h1v1h-1zm36 1h1v1h-1zm2 0h1v1h-1zm-1 1h1v1h-1zm2 0h1v1h-1zm0 1h2v1h-2zm-40 1h1v1h-1zm42 0h1v1h-1zm0 1h1v1h-1zm0 1h1v1h-1zm2 0h1v1h-1zm1 2h2v1h-2zm-47 1h1v1h-1zm0 2h1v1h-1zm50 1h1v1h-1zm-51 2h1v1h-1zm51 0h1v1h-1zm0 1h1v1h-1zm0 1h2v1h-2zm-51 1h1v1h-1zm52 0h1v1h-1zm0 2h1v1h-1zm-51 1h1v1h-1zm51 0h1v1h-1zm-52 1h1v1h-1zm1 1h1v1h-1zm0 1h1v1h-1zm49 0h1v1h-1zm-49 1h1v1h-1zm49 1h1v1h-1zm-48 1h1v1h-1zm46 0h2v1h-2zm-1 1h1v1h-1zm-1 1h2v1h-2z"/>
<path transform="translate(334 355)" fill="#5d75c2" d="M0 0m28 26h1v1h-1zm-4 1h2v1h-2zm3 0h1v1h-1zm-4 1h1v1h-1zm2 0h2v1h-2zm1 1h4v1h-4zm5 0h1v1h-1zm-7 1h1v1h-1zm3 0h1v1h-1zm3 0h1v1h-1zm-9 1h2v1h-2zm8 0h2v1h-2zm-9 1h2v1h-2zm12 1h1v1h-1zm-13 1h1v1h-1zm0 1h1v1h-1zm14 1h2v1h-2zm-16 1h2v1h-2zm17 0h1v1h-1zm1 1h1v1h-1zm-19 1h1v1h-1zm19 1h1v1h-1zm-22 3h1v1h-1zm23 0h1v1h-1zm2 0h1v1h-1zm-25 1h1v1h-1zm-2 1h2v1h-2zm0 1h1v1h-1zm1 1h1v1h-1zm29 1h1v1h-1zm-32 1h1v1h-1zm0 1h1v1h-1zm34 1h2v1h-2zm3 2h2v1h-2zm-38 1h1v1h-1zm38 0h1v1h-1zm2 0h1v1h-1zm-40 1h1v1h-1zm40 0h2v1h-2zm-41 1h1v1h-1zm43 0h1v1h-1zm-42 1h1v1h-1zm-2 2h1v1h-1zm46 0h1v1h-1zm-46 1h1v1h-1zm46 0h1v1h-1zm-45 2h1v1h-1zm-1 1h2v1h-2zm1 2h1v1h-1zm46 1h1v1h-1zm-1 1h1v1h-1zm-45 1h1v1h-1zm45 0h2v1h-2zm-1 1h1v1h-1zm0 1h1v1h-1zm-43 1h2v1h-2zm41 0h1v1h-1zm-40 1h2v1h-2zm40 0h1v1h-1zm-2 1h1v1h-1zm-35 1h1v1h-1zm33 0h1v1h-1zm-33 1h2v1h-2z"/>
<path transform="translate(334 355)" fill="#d7c725" d="M0 0m23 53h3v1h-3zm0 1h4v1h-4zm-2 1h7v1h-7zm1 1h1v1h-1zm4 0h2v1h-2zm-5 1h3v1h-3zm5 0h2v1h-2zm-5 1h2v1h-2zm5 0h2v1h-2zm-5 1h2v1h-2zm6 0h1v1h-1zm-6 1h2v1h-2zm5 0h2v1h-2zm-5 1h1v1h-1zm5 0h3v1h-3zm-4 1h3v1h-3zm4 0h2v1h-2zm-4 1h6v1h-6zm1 1h4v1h-4zm1 1h3v1h-3z"/>
<path transform="translate(334 355)" fill="#92d39e" d="M0 0m25 48h1v1h-1zm2 1h1v1h-1zm0 1h1v1h-1zm2 3h1v1h-1zm-10 2h1v1h-1zm-1 5h1v1h-1zm1 2h1v1h-1zm12 3h1v1h-1zm-4 2h1v1h-1zm-7 1h1v1h-1zm6 0h1v1h-1zm2 0h2v1h-2z"/>
<path transform="translate(334 355)" fill="#c9d1ea" d="M0 0m26 25h1v1h-1zm14 17h1v1h-1zm-2 2h1v1h-1zm-30 4h1v1h-1zm0 4h1v1h-1zm44 4h1v1h-1zm2 7h1v1h-1zm1 1h1v1h-1zm-49 6h1v1h-1zm5 6h1v1h-1zm3 0h1v1h-1zm2 0h1v1h-1zm21 0h1v1h-1zm3 0h1v1h-1zm3 0h1v1h-1zm3 0h1v1h-1z"/>
<path transform="translate(334 355)" fill="#6287d0" d="M0 0m24 41h1v1h-1zm2 0h1v1h-1zm-5 1h1v1h-1zm8 0h1v1h-1zm0 1h1v1h-1zm2 3h1v1h-1zm-14 1h1v1h-1zm17 1h1v1h-1zm1 2h1v1h-1zm1 1h1v1h-1zm1 1h1v1h-1zm-23 2h1v1h-1zm24 2h1v1h-1zm1 3h1v1h-1zm2 0h1v1h-1zm2 2h1v1h-1zm-31 1h1v1h-1zm1 2h1v1h-1zm29 6h2v1h-2zm-26 1h1v1h-1zm1 1h1v1h-1zm1 2h2v1h-2zm9 1h1v1h-1z"/>
<path transform="translate(334 355)" fill="#72b6e1" d="M0 0m29 46h1v1h-1zm0 2h1v1h-1zm0 1h1v1h-1zm2 0h1v1h-1zm-11 1h1v1h-1zm-3 1h1v1h-1zm2 0h1v1h-1zm1 1h1v1h-1zm13 3h1v1h-1zm-17 2h1v1h-1zm19 1h1v1h-1zm2 1h1v1h-1zm1 3h1v1h-1zm1 1h1v1h-1zm2 0h2v1h-2zm-4 1h2v1h-2zm6 1h1v1h-1zm-8 1h1v1h-1zm3 0h1v1h-1zm5 0h1v1h-1zm0 1h1v1h-1zm-26 1h1v1h-1zm13 0h1v1h-1zm10 0h1v1h-1zm-5 1h1v1h-1zm3 0h1v1h-1zm-18 1h2v1h-2zm6 0h1v1h-1zm-1 1h1v1h-1zm-4 1h1v1h-1zm5 1h1v1h-1z"/>
<path transform="translate(334 355)" fill="#93a1d4" d="M0 0m27 16h1v1h-1zm-6 2h1v1h-1zm5 0h2v1h-2zm3 0h1v1h-1zm2 0h2v1h-2zm7 0h1v1h-1zm-13 1h1v1h-1zm3 0h1v1h-1zm3 0h1v1h-1zm-9 1h3v1h-3zm4 0h1v1h-1zm3 0h1v1h-1zm2 0h1v1h-1zm2 0h1v1h-1zm3 0h1v1h-1zm-17 1h1v1h-1zm8 0h1v1h-1zm-10 1h1v1h-1zm4 0h1v1h-1zm2 0h1v1h-1zm2 0h1v1h-1zm4 0h1v1h-1zm2 1h2v1h-2zm-13 1h2v1h-2zm13 0h1v1h-1zm3 0h1v1h-1zm-15 1h1v1h-1zm14 0h1v1h-1zm2 0h1v1h-1zm4 0h1v1h-1zm-23 1h1v1h-1zm3 0h2v1h-2zm14 0h1v1h-1zm2 0h1v1h-1zm3 0h1v1h-1zm-22 1h2v1h-2zm19 0h1v1h-1zm4 0h1v1h-1zm-23 1h1v1h-1zm2 0h1v1h-1zm19 0h1v1h-1zm-20 1h3v1h-3zm22 0h1v1h-1zm-23 1h1v1h-1zm2 0h1v1h-1zm16 0h3v1h-3zm-22 1h2v1h-2zm24 0h1v1h-1zm-22 1h1v1h-1zm22 0h1v1h-1zm6 0h1v1h-1zm-28 1h1v1h-1zm2 0h1v1h-1zm21 0h3v1h-3zm4 0h1v1h-1zm-28 1h1v1h-1zm24 0h1v1h-1zm2 0h1v1h-1zm-28 1h3v1h-3zm28 0h3v1h-3zm7 0h1v1h-1zm-41 1h1v1h-1zm5 0h1v1h-1zm3 0h1v1h-1zm26 0h1v1h-1zm-31 1h1v1h-1zm4 0h3v1h-3zm26 0h4v1h-4zm5 0h1v1h-1zm-35 1h1v1h-1zm2 0h1v1h-1zm2 0h1v1h-1zm28 0h3v1h-3zm6 0h1v1h-1zm-39 1h1v1h-1zm2 0h1v1h-1zm30 0h1v1h-1zm2 0h2v1h-2zm-30 1h1v1h-1zm30 0h2v1h-2zm4 0h1v1h-1zm-38 1h1v1h-1zm34 0h2v1h-2zm3 0h1v1h-1zm5 0h1v1h-1zm-7 1h2v1h-2zm-36 1h2v1h-2zm4 0h1v1h-1zm37 0h1v1h-1zm2 0h1v1h-1zm6 0h1v1h-1zm-54 1h1v1h-1zm3 0h1v1h-1zm41 0h1v1h-1zm3 0h1v1h-1zm2 0h1v1h-1zm6 0h1v1h-1zm-48 1h1v1h-1zm35 0h2v1h-2zm3 0h1v1h-1zm2 0h1v1h-1zm2 0h2v1h-2zm-46 1h1v1h-1zm41 0h1v1h-1zm4 0h1v1h-1zm7 0h1v1h-1zm-56 1h1v1h-1zm7 0h1v1h-1zm40 0h1v1h-1zm2 0h1v1h-1zm6 0h1v1h-1zm-51 1h1v1h-1zm45 0h1v1h-1zm5 0h1v1h-1zm-51 1h2v1h-2zm3 0h1v1h-1zm44 0h1v1h-1zm-46 1h3v1h-3zm46 0h1v1h-1zm7 0h2v1h-2zm-7 1h1v1h-1zm5 0h3v1h-3zm4 0h1v1h-1zm-9 1h1v1h-1zm2 0h1v1h-1zm2 0h1v1h-1zm2 0h1v1h-1zm2 0h1v1h-1zm2 0h1v1h-1zm4 0h1v1h-1zm-12 1h1v1h-1zm3 0h2v1h-2zm-52 1h2v1h-2zm54 0h1v1h-1zm-53 1h1v1h-1zm51 0h1v1h-1zm0 1h1v1h-1zm4 0h1v1h-1zm-58 1h2v1h-2zm65 0h1v1h-1zm-64 1h1v1h-1zm54 0h2v1h-2zm3 0h1v1h-1zm2 0h1v1h-1zm-4 1h1v1h-1zm3 0h1v1h-1zm-60 1h3v1h-3zm1 1h3v1h-3zm56 0h1v1h-1zm3 0h1v1h-1zm-60 1h3v1h-3zm59 0h2v1h-2zm-58 1h2v1h-2zm2 1h1v1h-1zm56 0h1v1h-1zm-57 1h1v1h-1zm55 0h1v1h-1zm2 0h1v1h-1zm4 0h1v1h-1zm-4 1h1v1h-1zm6 0h1v1h-1zm-62 1h1v1h-1zm55 0h1v1h-1zm2 0h2v1h-2zm8 0h1v1h-1zm-68 1h1v1h-1zm3 0h1v1h-1zm53 1h2v1h-2zm3 0h3v1h-3zm-56 1h1v1h-1zm53 0h2v1h-2zm4 0h2v1h-2zm-60 1h1v1h-1zm4 0h1v1h-1zm51 0h4v1h-4zm5 0h1v1h-1zm-58 1h2v1h-2zm54 0h2v1h-2zm8 0h1v1h-1zm-64 1h2v1h-2zm4 0h1v1h-1zm50 0h1v1h-1zm2 0h3v1h-3zm-54 1h1v1h-1zm55 0h1v1h-1zm3 0h1v1h-1zm-56 1h2v1h-2zm48 0h1v1h-1zm2 0h2v1h-2zm-5 1h1v1h-1zm2 0h1v1h-1zm2 0h2v1h-2z"/></g>
<rect x="369.8" y="362.4" width="37.2" height="70.0" fill="none" stroke="#7a7a7a" stroke-width="1.2"/>
<text transform="translate(380.45 373.70) scale(1.1331 1)" font-size="9.517">c-Kit<tspan font-size="4.76" dy="-3.52" stroke-width="0.12">+</tspan></text>
<rect x="418.7" y="353.9" width="80.5" height="80.8" fill="#fff" stroke="#7f7f7f" stroke-width="1.3"/>
<g clip-path="url(#clip21)"><path transform="translate(419 355)" fill="#e7eaf5" d="M0 0m38 37h1v1h-1zm2 1h1v1h-1zm-1 2h1v1h-1zm2 0h1v1h-1zm3 1h1v1h-1zm-18 4h1v1h-1zm18 1h1v1h-1zm-19 1h1v1h-1zm19 3h1v1h-1zm-22 1h1v1h-1zm22 1h1v1h-1zm-27 3h1v1h-1zm28 3h1v1h-1zm-34 3h1v1h-1zm31 1h1v1h-1zm-35 2h1v1h-1zm35 0h1v1h-1zm-36 1h1v1h-1zm-3 1h1v1h-1zm40 4h1v1h-1zm1 1h2v1h-2zm0 5h2v1h-2z"/>
<path transform="translate(419 355)" fill="#e7eaf5" d="M0 0m35 29h1v1h-1zm2 0h1v1h-1zm-3 1h1v1h-1zm6 0h1v1h-1zm-4 1h1v1h-1zm5 1h1v1h-1zm-11 1h1v1h-1zm10 0h1v1h-1zm-10 1h2v1h-2zm1 1h1v1h-1zm14 0h1v1h-1zm-17 1h1v1h-1zm16 1h1v1h-1zm-17 1h1v1h-1zm20 0h1v1h-1zm2 0h1v1h-1zm-22 1h1v1h-1zm22 3h1v1h-1zm1 7h1v1h-1zm-35 3h1v1h-1zm33 0h1v1h-1zm-33 1h1v1h-1zm-3 1h1v1h-1zm34 0h1v1h-1zm2 3h2v1h-2zm-38 1h1v1h-1zm-3 3h1v1h-1zm40 8h1v1h-1zm2 0h1v1h-1zm-1 3h1v1h-1zm-1 6h1v1h-1z"/>
<path transform="translate(419 355)" fill="#e7eaf5" d="M0 0m37 35h2v1h-2zm1 1h1v1h-1zm3 0h1v1h-1zm-10 2h1v1h-1zm3 0h1v1h-1zm5 0h1v1h-1zm3 0h1v1h-1zm-12 1h1v1h-1zm-3 1h1v1h-1zm3 0h1v1h-1zm14 0h1v1h-1zm-18 3h1v1h-1zm1 1h1v1h-1zm-3 1h1v1h-1zm21 1h2v1h-2zm1 1h1v1h-1zm0 2h1v1h-1zm-31 7h1v1h-1zm29 3h1v1h-1zm-34 1h1v1h-1zm-1 2h1v1h-1zm34 4h1v1h-1zm0 1h1v1h-1zm3 4h1v1h-1z"/>
<path transform="translate(419 355)" fill="#59a9b2" d="M0 0m17 71h1v1h-1zm2 0h1v1h-1zm2 0h1v1h-1zm-8 1h2v1h-2zm11 0h2v1h-2zm-12 1h1v1h-1zm16 0h2v1h-2zm-16 1h1v1h-1zm16 0h1v1h-1zm-1 1h1v1h-1zm-15 1h1v1h-1zm13 0h1v1h-1z"/>
<path transform="translate(419 355)" fill="#5375c5" d="M0 0m23 65h1v1h-1zm8 0h1v1h-1zm-11 2h1v1h-1zm6 0h1v1h-1zm-4 1h1v1h-1zm-9 1h1v1h-1zm6 0h1v1h-1zm4 0h1v1h-1zm-13 1h3v1h-3zm14 0h1v1h-1zm2 0h1v1h-1zm5 0h1v1h-1zm-22 1h1v1h-1zm2 0h3v1h-3zm14 0h1v1h-1zm4 0h1v1h-1zm-23 1h1v1h-1zm5 0h1v1h-1zm19 0h1v1h-1zm-24 1h1v1h-1zm2 0h1v1h-1zm23 0h2v1h-2zm3 0h1v1h-1zm-28 1h1v1h-1zm2 0h1v1h-1zm23 0h1v1h-1zm3 0h1v1h-1zm-28 1h2v1h-2zm4 1h1v1h-1zm4 1h2v1h-2zm11 0h1v1h-1z"/>
<path transform="translate(419 355)" fill="#e7eaf5" d="M0 0m39 33h1v1h-1zm-6 1h2v1h-2zm6 0h1v1h-1zm3 0h2v1h-2zm-7 1h1v1h-1zm6 0h2v1h-2zm-10 1h1v1h-1zm-2 2h1v1h-1zm15 1h1v1h-1zm-18 3h1v1h-1zm19 0h1v1h-1zm2 1h1v1h-1zm-22 1h1v1h-1zm20 0h1v1h-1zm2 0h1v1h-1zm-22 1h1v1h-1zm22 0h1v1h-1zm-28 5h1v1h-1zm27 2h1v1h-1zm-30 2h1v1h-1zm-1 1h1v1h-1zm32 1h1v1h-1zm-35 2h1v1h-1zm-3 1h3v1h-3zm0 1h1v1h-1zm36 0h1v1h-1zm-40 4h1v1h-1zm40 2h1v1h-1zm2 5h1v1h-1zm0 5h1v1h-1zm-2 1h2v1h-2z"/>
<path transform="translate(419 355)" fill="#cfd5ec" d="M0 0m37 44h1v1h-1zm-2 1h1v1h-1zm3 0h1v1h-1zm2 0h1v1h-1zm-7 1h1v1h-1zm3 0h2v1h-2zm3 0h1v1h-1zm-10 1h1v1h-1zm5 0h2v1h-2zm-5 1h1v1h-1zm2 0h1v1h-1zm4 0h1v1h-1zm5 0h1v1h-1zm-13 1h1v1h-1zm2 0h1v1h-1zm7 0h1v1h-1zm-9 1h1v1h-1zm2 0h1v1h-1zm4 0h1v1h-1zm2 0h1v1h-1zm2 0h2v1h-2zm3 0h2v1h-2zm-5 1h2v1h-2zm-10 1h2v1h-2zm11 0h4v1h-4zm-9 1h1v1h-1zm5 0h1v1h-1zm4 0h1v1h-1zm2 1h1v1h-1zm3 0h1v1h-1zm-4 1h1v1h-1zm-14 1h2v1h-2zm5 0h1v1h-1zm9 0h1v1h-1zm2 0h2v1h-2zm-18 1h1v1h-1zm6 0h1v1h-1zm11 0h1v1h-1zm2 0h2v1h-2zm-3 1h1v1h-1zm2 0h1v1h-1zm-21 1h1v1h-1zm2 0h1v1h-1zm18 0h1v1h-1zm-21 1h1v1h-1zm22 0h1v1h-1zm-2 1h2v1h-2zm-21 1h2v1h-2zm21 1h1v1h-1zm2 0h1v1h-1zm-27 1h1v1h-1zm3 0h1v1h-1zm22 1h2v1h-2zm-31 1h1v1h-1zm-2 1h1v1h-1zm2 0h1v1h-1zm-2 1h1v1h-1zm33 0h1v1h-1zm1 2h1v1h-1zm3 2h1v1h-1zm1 1h1v1h-1zm-1 1h2v1h-2zm-1 1h1v1h-1zm2 1h1v1h-1zm-4 1h1v1h-1z"/>
<path transform="translate(419 355)" fill="#e7eaf5" d="M0 0m29 53h1v1h-1zm5 1h1v1h-1zm0 1h1v1h-1zm-11 2h1v1h-1zm10 1h1v1h-1zm-7 1h1v1h-1zm-3 1h1v1h-1zm12 1h1v1h-1zm-16 4h1v1h-1zm14 0h1v1h-1zm-19 1h1v1h-1zm2 0h1v1h-1zm16 0h1v1h-1zm2 1h1v1h-1zm-32 2h1v1h-1zm-2 2h2v1h-2zm39 0h1v1h-1zm-39 5h1v1h-1z"/>
<path transform="translate(419 355)" fill="#9facda" d="M0 0m42 45h1v1h-1zm-11 2h1v1h-1zm-5 3h1v1h-1zm10 0h1v1h-1zm-10 1h1v1h-1zm6 0h2v1h-2zm1 1h2v1h-2zm-4 2h1v1h-1zm6 0h1v1h-1zm4 0h1v1h-1zm-15 1h1v1h-1zm3 0h1v1h-1zm3 0h1v1h-1zm2 0h1v1h-1zm-8 2h1v1h-1zm5 0h1v1h-1zm-5 1h4v1h-4zm-1 1h2v1h-2zm10 0h1v1h-1zm4 0h1v1h-1zm-29 1h1v1h-1zm11 0h1v1h-1zm6 0h1v1h-1zm5 0h1v1h-1zm7 0h1v1h-1zm-13 1h1v1h-1zm3 0h1v1h-1zm-1 1h1v1h-1zm6 0h1v1h-1zm2 0h1v1h-1zm-13 1h1v1h-1zm6 0h1v1h-1zm4 0h1v1h-1zm-11 1h4v1h-4zm15 0h1v1h-1zm-21 1h1v1h-1zm4 0h1v1h-1zm6 0h2v1h-2zm3 0h1v1h-1zm2 0h1v1h-1zm-9 1h1v1h-1zm7 0h2v1h-2zm3 0h1v1h-1zm-18 1h1v1h-1zm2 0h1v1h-1zm3 0h2v1h-2zm12 0h1v1h-1zm-23 1h1v1h-1zm3 0h1v1h-1zm6 0h1v1h-1zm3 0h1v1h-1zm9 0h1v1h-1zm2 0h1v1h-1zm6 0h1v1h-1zm-28 1h2v1h-2zm5 0h1v1h-1zm4 0h1v1h-1zm6 0h1v1h-1zm4 0h1v1h-1zm4 0h1v1h-1zm5 0h1v1h-1zm-33 1h1v1h-1zm4 0h4v1h-4zm10 0h1v1h-1zm-13 1h1v1h-1zm2 0h1v1h-1zm28 0h1v1h-1zm2 0h1v1h-1zm2 0h1v1h-1zm-37 1h1v1h-1zm3 0h1v1h-1zm26 0h1v1h-1zm-29 1h1v1h-1zm9 0h1v1h-1zm-8 1h1v1h-1zm3 0h1v1h-1zm39 0h1v1h-1zm-9 1h1v1h-1zm3 0h1v1h-1zm5 0h1v1h-1zm-40 1h1v1h-1zm29 0h1v1h-1zm4 0h1v1h-1zm3 0h1v1h-1zm-34 1h1v1h-1zm31 0h1v1h-1zm-30 1h1v1h-1zm3 0h2v1h-2zm7 0h1v1h-1zm5 0h1v1h-1zm4 0h1v1h-1zm3 0h1v1h-1z"/>
<path transform="translate(419 355)" fill="#e7eaf5" d="M0 0m33 40h1v1h-1zm7 1h1v1h-1zm-7 1h1v1h-1zm7 0h1v1h-1zm1 1h1v1h-1zm0 1h1v1h-1zm-12 1h1v1h-1zm12 0h1v1h-1zm-15 2h1v1h-1zm17 1h1v1h-1zm0 2h1v1h-1zm0 3h1v1h-1zm-2 2h1v1h-1zm1 1h1v1h-1zm-26 2h2v1h-2zm25 0h2v1h-2zm-29 3h1v1h-1zm28 2h2v1h-2zm-30 1h1v1h-1zm30 1h2v1h-2zm-39 2h1v1h-1zm43 7h1v1h-1zm-4 3h1v1h-1z"/>
<path transform="translate(419 355)" fill="#e7eaf5" d="M0 0m36 36h2v1h-2zm-1 1h1v1h-1zm2 0h1v1h-1zm3 0h2v1h-2zm3 1h1v1h-1zm-15 3h1v1h-1zm16 1h1v1h-1zm-16 1h1v1h-1zm16 2h2v1h-2zm-21 4h1v1h-1zm22 1h1v1h-1zm-26 2h1v1h-1zm-2 2h1v1h-1zm28 1h1v1h-1zm-29 1h1v1h-1zm-5 6h1v1h-1zm-5 1h1v1h-1zm38 0h1v1h-1zm0 1h1v1h-1zm0 1h1v1h-1zm-44 2h1v1h-1z"/>
<path transform="translate(419 355)" fill="#cfd5eb" d="M0 0m31 33h1v1h-1zm-2 6h1v1h-1zm10 0h1v1h-1zm-2 1h1v1h-1zm0 1h1v1h-1zm-5 1h1v1h-1zm1 1h1v1h-1zm4 0h2v1h-2zm-7 2h1v1h-1zm-9 3h1v1h-1zm3 0h1v1h-1zm2 0h1v1h-1zm0 1h1v1h-1zm-8 2h1v1h-1zm7 0h1v1h-1zm-9 2h1v1h-1zm4 0h1v1h-1zm22 0h1v1h-1zm-22 1h1v1h-1zm2 0h1v1h-1zm20 0h1v1h-1zm2 0h1v1h-1zm-28 1h1v1h-1zm27 1h1v1h-1zm-28 3h2v1h-2zm32 0h1v1h-1zm-33 1h2v1h-2zm26 1h1v1h-1zm5 0h1v1h-1zm-4 1h1v1h-1zm-37 2h1v1h-1zm1 1h1v1h-1zm42 0h1v1h-1zm-6 1h1v1h-1zm-1 2h1v1h-1zm0 1h3v1h-3zm3 2h1v1h-1zm0 1h1v1h-1zm2 0h1v1h-1zm-1 1h1v1h-1zm3 0h1v1h-1zm-4 5h1v1h-1z"/>
<path transform="translate(419 355)" fill="#558ecf" d="M0 0m18 70h1v1h-1zm3 0h1v1h-1zm-3 1h1v1h-1zm6 0h1v1h-1zm2 0h2v1h-2zm-16 1h1v1h-1zm2 0h1v1h-1zm14 0h3v1h-3zm-16 1h2v1h-2zm17 0h1v1h-1zm3 0h1v1h-1zm-21 1h2v1h-2zm21 0h1v1h-1zm-22 1h3v1h-3zm21 0h1v1h-1zm-18 1h1v1h-1zm3 0h1v1h-1zm13 0h1v1h-1zm-10 1h5v1h-5zm7 0h1v1h-1z"/>
<path transform="translate(419 355)" fill="#b7c0e2" d="M0 0m32 50h1v1h-1zm-3 1h1v1h-1zm-1 2h1v1h-1zm2 0h1v1h-1zm-3 1h1v1h-1zm6 0h1v1h-1zm-8 1h1v1h-1zm3 0h1v1h-1zm3 0h1v1h-1zm4 0h1v1h-1zm-9 1h2v1h-2zm5 0h1v1h-1zm4 0h1v1h-1zm-10 1h1v1h-1zm3 0h1v1h-1zm4 0h1v1h-1zm2 0h1v1h-1zm2 0h1v1h-1zm-1 2h2v1h-2zm-2 1h1v1h-1zm-12 2h1v1h-1zm-5 1h1v1h-1zm20 0h1v1h-1zm-20 1h1v1h-1zm20 0h1v1h-1zm-20 1h1v1h-1zm-4 1h1v1h-1zm-3 1h1v1h-1zm26 0h1v1h-1zm-32 1h1v1h-1zm4 0h1v1h-1zm-3 1h1v1h-1zm-3 1h1v1h-1zm37 1h1v1h-1zm2 3h1v1h-1zm-39 3h1v1h-1zm36 0h1v1h-1zm-2 1h1v1h-1z"/>
<path transform="translate(419 355)" fill="#b7c1e3" d="M0 0m28 60h1v1h-1zm-4 2h2v1h-2zm0 1h1v1h-1zm3 1h1v1h-1zm-6 1h2v1h-2zm5 0h1v1h-1zm4 0h1v1h-1zm-9 1h1v1h-1zm3 0h1v1h-1zm2 0h1v1h-1zm3 0h1v1h-1zm-4 1h1v1h-1zm2 0h1v1h-1zm-16 1h1v1h-1zm21 0h1v1h-1zm-23 1h1v1h-1zm22 0h1v1h-1zm2 1h1v1h-1zm-32 2h1v1h-1zm36 2h1v1h-1zm-36 1h1v1h-1zm6 3h1v1h-1zm23 0h3v1h-3z"/>
<path transform="translate(419 355)" fill="#b8c7e8" d="M0 0m8 76h1v1h-1zm21 0h1v1h-1z"/>
<path transform="translate(419 355)" fill="#6da6d2" d="M0 0m19 70h1v1h-1zm3 0h1v1h-1zm-7 1h2v1h-2zm5 0h1v1h-1zm2 0h2v1h-2zm-11 3h1v1h-1zm18 0h1v1h-1zm-18 1h2v1h-2zm17 0h1v1h-1zm2 0h1v1h-1zm-17 1h1v1h-1zm13 0h1v1h-1zm-10 1h1v1h-1zm6 0h2v1h-2z"/>
<path transform="translate(419 355)" fill="#6f85ca" d="M0 0m30 54h1v1h-1zm-2 4h1v1h-1zm0 1h1v1h-1zm-3 2h1v1h-1zm8 0h1v1h-1zm-14 3h1v1h-1zm9 1h1v1h-1zm-6 1h1v1h-1zm-3 1h1v1h-1zm3 0h1v1h-1zm9 0h1v1h-1zm-10 1h1v1h-1zm2 0h2v1h-2zm3 0h1v1h-1zm-21 1h1v1h-1zm5 0h1v1h-1zm-7 1h1v1h-1zm10 0h1v1h-1zm14 0h1v1h-1zm2 0h2v1h-2zm-21 1h1v1h-1zm20 0h1v1h-1zm4 0h1v1h-1zm2 0h1v1h-1zm-25 1h1v1h-1zm22 0h1v1h-1zm-27 1h2v1h-2zm29 1h1v1h-1zm-29 1h1v1h-1zm27 0h3v1h-3zm-28 1h1v1h-1zm3 0h1v1h-1zm3 0h1v1h-1zm24 0h1v1h-1zm-24 1h2v1h-2zm20 0h2v1h-2zm-13 1h1v1h-1zm2 0h2v1h-2zm11 0h1v1h-1z"/>
<path transform="translate(419 355)" fill="#b7c0e3" d="M0 0m31 54h1v1h-1zm1 2h1v1h-1zm2 0h1v1h-1zm-5 2h1v1h-1zm2 0h1v1h-1zm0 1h1v1h-1zm3 0h1v1h-1zm-10 1h1v1h-1zm3 0h1v1h-1zm5 0h1v1h-1zm2 0h1v1h-1zm-3 1h2v1h-2zm-9 1h2v1h-2zm-3 1h1v1h-1zm6 0h1v1h-1zm9 0h1v1h-1zm-2 1h1v1h-1zm-15 1h1v1h-1zm17 0h1v1h-1zm-3 1h1v1h-1zm3 0h1v1h-1zm-23 1h1v1h-1zm-3 1h1v1h-1zm25 0h1v1h-1zm-27 1h1v1h-1zm28 0h1v1h-1zm-34 5h1v1h-1zm0 1h1v1h-1zm1 1h1v1h-1zm1 1h1v1h-1zm4 1h1v1h-1z"/>
<path transform="translate(419 355)" fill="#c1ae35" d="M0 0m15 73h11v1h-11zm-1 1h12v1h-12zm2 1h10v1h-10z"/>
<path transform="translate(419 355)" fill="#395dbb" d="M0 0m18 64h1v1h-1zm1 4h2v1h-2zm2 1h1v1h-1zm-6 1h1v1h-1zm2 0h1v1h-1zm3 0h1v1h-1zm3 0h1v1h-1zm2 0h1v1h-1zm3 0h1v1h-1zm-21 1h1v1h-1zm3 0h1v1h-1zm4 0h1v1h-1zm16 0h2v1h-2zm-25 1h1v1h-1zm2 0h1v1h-1zm26 1h1v1h-1zm-31 1h1v1h-1zm5 0h1v1h-1zm25 0h1v1h-1zm-4 2h1v1h-1zm-17 1h3v1h-3zm16 0h1v1h-1z"/>
<path transform="translate(419 355)" fill="#e7eaf5" d="M0 0m35 46h1v1h-1zm3 1h2v1h-2zm-6 1h3v1h-3zm-2 1h1v1h-1zm4 0h1v1h-1zm-3 1h1v1h-1zm9 1h1v1h-1zm-11 1h1v1h-1zm3 0h1v1h-1zm-6 1h1v1h-1zm12 5h1v1h-1zm-1 4h2v1h-2zm-23 1h1v1h-1zm-3 1h1v1h-1zm-2 2h1v1h-1zm-1 1h1v1h-1zm29 0h1v1h-1zm1 1h1v1h-1zm0 1h2v1h-2zm-38 1h1v1h-1zm40 1h1v1h-1zm-40 6h1v1h-1zm39 0h1v1h-1zm-39 1h1v1h-1z"/>
<path transform="translate(419 355)" fill="#e7eaf5" d="M0 0m38 20h1v1h-1zm4 7h1v1h-1zm6 1h1v1h-1zm0 2h1v1h-1zm4 0h1v1h-1zm-6 3h1v1h-1zm3 0h1v1h-1zm-25 2h1v1h-1zm4 0h1v1h-1zm-11 3h1v1h-1zm5 0h1v1h-1zm2 1h1v1h-1zm-4 5h1v1h-1zm31 2h1v1h-1zm0 3h2v1h-2zm-35 1h1v1h-1zm-4 1h1v1h-1zm42 2h1v1h-1zm-44 1h1v1h-1zm-1 1h1v1h-1zm-3 3h1v1h-1zm46 3h1v1h-1zm-50 1h1v1h-1zm47 1h1v1h-1zm1 1h1v1h-1zm4 3h1v1h-1zm-3 3h1v1h-1zm14 4h1v1h-1z"/>
<path transform="translate(419 355)" fill="#e7eaf5" d="M0 0m38 41h1v1h-1zm-4 1h2v1h-2zm1 1h1v1h-1zm-4 1h1v1h-1zm2 0h1v1h-1zm-2 2h1v1h-1zm9 0h1v1h-1zm0 1h2v1h-2zm2 2h1v1h-1zm-1 3h2v1h-2zm-19 1h3v1h-3zm-3 2h1v1h-1zm22 1h1v1h-1zm-23 2h1v1h-1zm-5 3h1v1h-1zm27 1h1v1h-1zm-29 1h1v1h-1zm29 1h1v1h-1zm-30 1h1v1h-1zm28 1h1v1h-1zm-38 3h1v1h-1zm40 1h1v1h-1zm2 1h1v1h-1zm2 1h1v1h-1zm-3 4h1v1h-1zm-2 2h1v1h-1z"/>
<path transform="translate(419 355)" fill="#e7eaf5" d="M0 0m37 38h1v1h-1zm1 1h1v1h-1zm3 3h1v1h-1zm-11 1h1v1h-1zm4 0h1v1h-1zm8 0h1v1h-1zm1 2h1v1h-1zm-16 1h1v1h-1zm15 0h1v1h-1zm-17 4h1v1h-1zm17 0h1v1h-1zm-2 5h1v1h-1zm2 0h1v1h-1zm-24 1h1v1h-1zm25 2h1v1h-1zm-30 2h1v1h-1zm30 1h1v1h-1zm-33 2h1v1h-1zm-2 2h1v1h-1zm-3 1h1v1h-1zm37 0h1v1h-1zm0 2h1v1h-1z"/>
<path transform="translate(419 355)" fill="#e7eaf5" d="M0 0m32 49h1v1h-1zm3 0h1v1h-1zm-1 1h1v1h-1zm-4 1h1v1h-1zm-2 1h1v1h-1zm3 1h1v1h-1zm4 0h1v1h-1zm-7 1h1v1h-1zm-2 1h1v1h-1zm10 0h1v1h-1zm1 2h1v1h-1zm-16 1h1v1h-1zm0 1h1v1h-1zm17 1h1v1h-1zm-21 1h1v1h-1zm2 0h1v1h-1zm17 0h1v1h-1zm0 1h1v1h-1zm-1 3h1v1h-1zm-24 1h1v1h-1zm-1 1h1v1h-1zm-5 1h1v1h-1zm33 4h1v1h-1zm-2 5h1v1h-1zm-34 1h1v1h-1z"/>
<path transform="translate(419 355)" fill="#b7c2e4" d="M0 0m6 71h1v1h-1zm27 1h1v1h-1zm-25 5h1v1h-1zm23 0h1v1h-1zm-21 1h1v1h-1zm11 0h1v1h-1z"/>
<path transform="translate(419 355)" fill="#e7eaf5" d="M0 0m32 43h1v1h-1zm3 1h1v1h-1zm-4 1h1v1h-1zm3 0h1v1h-1zm2 0h1v1h-1zm3 0h1v1h-1zm-9 2h1v1h-1zm6 0h1v1h-1zm-8 1h1v1h-1zm9 0h2v1h-2zm-9 2h1v1h-1zm12 2h1v1h-1zm0 1h2v1h-2zm-17 2h1v1h-1zm16 0h1v1h-1zm-19 2h1v1h-1zm0 1h1v1h-1zm-1 1h1v1h-1zm20 0h2v1h-2zm0 2h1v1h-1zm-24 1h1v1h-1zm-3 1h1v1h-1zm26 1h1v1h-1zm1 1h1v1h-1zm-32 1h2v1h-2zm32 0h1v1h-1zm-32 1h1v1h-1zm-7 1h1v1h-1zm2 0h1v1h-1zm39 5h1v1h-1zm2 0h1v1h-1zm-2 2h1v1h-1zm-1 1h1v1h-1z"/>
<path transform="translate(419 355)" fill="#81c478" d="M0 0m15 72h9v1h-9zm-2 1h2v1h-2zm13 0h1v1h-1zm-13 1h1v1h-1zm13 0h2v1h-2zm-13 1h3v1h-3zm13 0h1v1h-1zm-11 1h10v1h-10z"/>
<path transform="translate(419 355)" fill="#b7c0e2" d="M0 0m34 46h1v1h-1zm4 0h1v1h-1zm-8 2h1v1h-1zm1 1h1v1h-1zm2 0h1v1h-1zm5 2h1v1h-1zm-11 1h1v1h-1zm-2 1h1v1h-1zm12 0h1v1h-1zm-15 3h1v1h-1zm14 0h1v1h-1zm-17 2h1v1h-1zm21 0h1v1h-1zm-23 1h1v1h-1zm-1 2h1v1h-1zm2 0h1v1h-1zm21 1h1v1h-1zm-24 1h1v1h-1zm23 0h1v1h-1zm-25 1h1v1h-1zm-4 1h1v1h-1zm3 0h1v1h-1zm24 1h1v1h-1zm0 1h1v1h-1zm3 1h1v1h-1zm-2 1h1v1h-1zm4 2h1v1h-1zm1 1h1v1h-1zm-41 6h1v1h-1z"/>
<path transform="translate(419 355)" fill="#8798d1" d="M0 0m32 46h1v1h-1zm5 3h1v1h-1zm-2 3h1v1h-1zm-3 2h1v1h-1zm4 0h1v1h-1zm-7 2h1v1h-1zm1 1h1v1h-1zm-8 2h1v1h-1zm7 0h1v1h-1zm-3 1h1v1h-1zm3 0h1v1h-1zm-3 1h1v1h-1zm2 0h1v1h-1zm-1 1h2v1h-2zm3 0h2v1h-2zm-13 1h1v1h-1zm3 0h1v1h-1zm6 0h1v1h-1zm3 0h1v1h-1zm-3 1h1v1h-1zm7 0h1v1h-1zm-1 1h1v1h-1zm-17 1h1v1h-1zm2 0h2v1h-2zm6 0h1v1h-1zm10 0h1v1h-1zm-20 1h1v1h-1zm2 0h1v1h-1zm8 0h2v1h-2zm5 0h1v1h-1zm-16 1h1v1h-1zm2 0h1v1h-1zm2 0h2v1h-2zm9 0h1v1h-1zm3 0h1v1h-1zm-17 1h1v1h-1zm3 0h2v1h-2zm3 0h2v1h-2zm3 0h1v1h-1zm4 0h1v1h-1zm3 0h3v1h-3zm6 0h1v1h-1zm-29 1h2v1h-2zm10 0h1v1h-1zm18 0h1v1h-1zm-28 1h1v1h-1zm32 0h1v1h-1zm-34 1h1v1h-1zm2 0h1v1h-1zm4 0h1v1h-1zm24 0h1v1h-1zm2 0h4v1h-4zm5 0h1v1h-1zm-38 1h3v1h-3zm6 0h1v1h-1zm29 0h1v1h-1zm4 0h1v1h-1zm-35 1h1v1h-1zm30 0h2v1h-2zm-33 1h2v1h-2zm3 0h1v1h-1zm30 0h2v1h-2zm-31 1h2v1h-2zm3 0h1v1h-1zm23 0h1v1h-1zm2 0h1v1h-1zm2 0h1v1h-1zm-31 1h1v1h-1zm2 0h1v1h-1zm2 0h1v1h-1zm19 0h1v1h-1zm2 0h1v1h-1zm6 0h1v1h-1zm-23 1h1v1h-1zm2 0h2v1h-2zm4 0h1v1h-1zm5 0h2v1h-2zm3 0h2v1h-2zm3 0h1v1h-1z"/>
<path transform="translate(419 355)" fill="#cfd5ec" d="M0 0m29 62h1v1h-1zm1 1h1v1h-1zm-6 1h2v1h-2zm5 0h2v1h-2zm-9 1h1v1h-1zm-1 1h1v1h-1zm6 0h1v1h-1zm-9 1h1v1h-1zm5 0h1v1h-1zm9 0h1v1h-1zm1 1h1v1h-1zm-6 1h1v1h-1zm7 0h1v1h-1zm2 1h1v1h-1zm1 3h1v1h-1zm-32 1h1v1h-1zm3 3h1v1h-1zm26 0h2v1h-2zm-20 1h1v1h-1z"/>
<path transform="translate(419 355)" fill="#cfd5ec" d="M0 0m31 52h1v1h-1zm2 1h2v1h-2zm0 2h1v1h-1zm-8 1h1v1h-1zm8 0h1v1h-1zm-7 1h1v1h-1zm9 0h1v1h-1zm-5 1h1v1h-1zm2 0h1v1h-1zm2 0h3v1h-3zm-9 1h1v1h-1zm2 0h1v1h-1zm5 0h1v1h-1zm-12 1h3v1h-3zm11 0h1v1h-1zm4 0h2v1h-2zm-15 1h3v1h-3zm9 0h2v1h-2zm5 0h1v1h-1zm-1 1h1v1h-1zm2 0h1v1h-1zm-17 1h1v1h-1zm4 0h2v1h-2zm6 0h1v1h-1zm4 0h2v1h-2zm3 0h1v1h-1zm-18 1h1v1h-1zm17 0h1v1h-1zm-21 1h1v1h-1zm23 0h1v1h-1zm-1 1h1v1h-1zm-3 1h2v1h-2zm-29 2h1v1h-1zm33 1h2v1h-2zm-34 1h1v1h-1zm38 1h1v1h-1zm-1 1h1v1h-1zm-1 1h2v1h-2zm1 1h1v1h-1zm-36 3h2v1h-2zm31 0h1v1h-1zm2 0h1v1h-1z"/>
<path transform="translate(419 355)" fill="#e7eaf5" d="M0 0m31 57h1v1h-1zm-1 2h1v1h-1zm-10 3h1v1h-1zm8 2h1v1h-1zm3 0h1v1h-1zm-18 2h1v1h-1zm-3 2h1v1h-1zm3 0h1v1h-1zm17 0h1v1h-1zm8 5h1v1h-1zm0 2h1v1h-1zm-2 1h2v1h-2z"/>
<path transform="translate(419 355)" fill="#b7c0e2" d="M0 0m34 39h1v1h-1zm-1 2h1v1h-1zm13 0h1v1h-1zm-4 1h1v1h-1zm-13 1h1v1h-1zm7 1h1v1h-1zm5 4h1v1h-1zm4 0h1v1h-1zm-26 6h1v1h-1zm26 0h1v1h-1zm0 3h1v1h-1zm-4 2h1v1h-1zm0 2h1v1h-1zm-27 1h1v1h-1zm32 0h1v1h-1zm-45 6h1v1h-1zm42 1h1v1h-1zm-2 8h1v1h-1z"/>
<path transform="translate(419 355)" fill="#e7eaf5" d="M0 0m36 39h2v1h-2zm-6 3h1v1h-1zm1 1h1v1h-1zm-3 1h2v1h-2zm14 0h1v1h-1zm1 3h1v1h-1zm-16 1h1v1h-1zm17 0h1v1h-1zm-20 1h1v1h-1zm19 0h1v1h-1zm-20 1h2v1h-2zm-2 2h1v1h-1zm2 0h1v1h-1zm-5 3h1v1h-1zm24 4h1v1h-1zm0 1h1v1h-1zm-2 7h1v1h-1z"/></g>
<rect x="453.5" y="362.4" width="39.3" height="70.0" fill="none" stroke="#7a7a7a" stroke-width="1.2"/>
<text transform="translate(464.15 373.70) scale(1.1331 1)" font-size="9.517">c-Kit<tspan font-size="4.76" dy="-3.52" stroke-width="0.12">+</tspan></text>
<text transform="translate(321.60 241.03) rotate(-90) scale(0.8362 1)" font-size="9.157">WT</text>
<text transform="translate(329.10 271.32) rotate(-90) scale(0.7304 1)" font-size="9.599">SSA</text>
<text transform="translate(316.40 348.62) rotate(-90) scale(1.0221 1)" font-size="8.552">NHD13/Setd2<tspan font-style="italic" font-size="5.30" dy="-2.82" stroke-width="0.12">f/f</tspan></text>
<text transform="translate(317.30 432.04) rotate(-90) scale(0.9973 1)" font-size="9.103">NHD13/Setd2<tspan font-style="italic" font-size="5.64" dy="-3.00" stroke-width="0.12">Δ/Δ</tspan></text>
<line x1="326.2" y1="280" x2="326.2" y2="444.2" stroke="#111" stroke-width="1.3"/>
<line x1="325.55" y1="444.2" x2="414" y2="444.2" stroke="#111" stroke-width="1.3"/>
<path d="M326.2 275.5L329.1 283L326.2 281.5L323.3 283Z" fill="#111"/>
<path d="M421.3 444.2L412.1 441.4L413.8 444.2L412.1 446.9Z" fill="#111"/>
<text transform="translate(426.48 449.80) scale(0.8847 1)" font-size="8.69">c-Kit</text>
<text transform="translate(7.15 341.80) scale(1.1489 1)" font-size="11.605" fill="#000"><tspan font-weight="bold">G</tspan></text>
<line x1="41.1" y1="348.3" x2="41.1" y2="435.34999999999997" stroke="#1a1a1a" stroke-width="1.3"/>
<line x1="40.45" y1="434.7" x2="103.3" y2="434.7" stroke="#1a1a1a" stroke-width="1.3"/>
<line x1="37.6" y1="434.7" x2="41.1" y2="434.7" stroke="#1a1a1a" stroke-width="1"/>
<line x1="37.6" y1="406.9" x2="41.1" y2="406.9" stroke="#1a1a1a" stroke-width="1"/>
<line x1="37.6" y1="378.8" x2="41.1" y2="378.8" stroke="#1a1a1a" stroke-width="1"/>
<line x1="37.6" y1="350.8" x2="41.1" y2="350.8" stroke="#1a1a1a" stroke-width="1"/>
<text transform="translate(29.73 437.61) scale(1.0000 1)" font-size="9.04">0</text>
<text transform="translate(29.69 409.81) scale(1.0000 1)" font-size="9.169">5</text>
<text transform="translate(24.70 381.71) scale(1.0000 1)" font-size="9.04">10</text>
<text transform="translate(24.59 353.71) scale(1.0000 1)" font-size="9.169">15</text>
<line x1="51.4" y1="434.7" x2="51.4" y2="437.7" stroke="#1a1a1a" stroke-width="1"/>
<line x1="72.3" y1="434.7" x2="72.3" y2="437.7" stroke="#1a1a1a" stroke-width="1"/>
<line x1="93.8" y1="434.7" x2="93.8" y2="437.7" stroke="#1a1a1a" stroke-width="1"/>
<line x1="51.85" y1="397.6" x2="51.85" y2="394.5" stroke="#353535" stroke-width="1.3"/>
<line x1="49.2" y1="394.5" x2="55.1" y2="394.5" stroke="#353535" stroke-width="1.3"/>
<rect x="45.45" y="397.95" width="12.80" height="36.75" fill="#6aaa3c" stroke="#5e9d34" stroke-width="0.7"/>
<line x1="72.95" y1="392.2" x2="72.95" y2="385.5" stroke="#353535" stroke-width="1.3"/>
<line x1="69.9" y1="385.5" x2="76.1" y2="385.5" stroke="#353535" stroke-width="1.3"/>
<rect x="66.55" y="392.55" width="12.80" height="42.15" fill="#2b4a80" stroke="#22406f" stroke-width="0.7"/>
<line x1="93.94999999999999" y1="371.6" x2="93.94999999999999" y2="365.3" stroke="#353535" stroke-width="1.3"/>
<line x1="90.9" y1="365.3" x2="96.8" y2="365.3" stroke="#353535" stroke-width="1.3"/>
<rect x="87.45" y="371.95" width="13.00" height="62.75" fill="#a9032a" stroke="#960024" stroke-width="0.7"/>
<text transform="translate(65.82 448.60) scale(1.0722 1)" font-size="8.866">BM</text>
<line x1="51" y1="351.8" x2="93.2" y2="351.8" stroke="#1a1a1a" stroke-width="1.2"/>
<text transform="translate(64.75 352.27) scale(1.0436 1)" font-size="9.117">****</text>
<line x1="71.9" y1="362.2" x2="94.1" y2="362.2" stroke="#1a1a1a" stroke-width="1.2"/>
<text transform="translate(77.55 362.09) scale(1.2027 1)" font-size="7.692">***</text>
<text transform="translate(20.30 417.75) rotate(-90) scale(0.9163 1)" font-size="8.966">c-Kit<tspan font-size="6.99" dy="-4.48" stroke-width="0.12">+</tspan><tspan dy="4.48"> % of live</tspan></text>
<line x1="147.2" y1="347.4" x2="147.2" y2="435.34999999999997" stroke="#1a1a1a" stroke-width="1.3"/>
<line x1="146.54999999999998" y1="434.7" x2="209.5" y2="434.7" stroke="#1a1a1a" stroke-width="1.3"/>
<line x1="144.2" y1="434.9" x2="147.2" y2="434.9" stroke="#1a1a1a" stroke-width="1"/>
<line x1="144.2" y1="406.5" x2="147.2" y2="406.5" stroke="#1a1a1a" stroke-width="1"/>
<line x1="144.2" y1="378.2" x2="147.2" y2="378.2" stroke="#1a1a1a" stroke-width="1"/>
<line x1="144.2" y1="349.2" x2="147.2" y2="349.2" stroke="#1a1a1a" stroke-width="1"/>
<text transform="translate(136.13 437.71) scale(1.0000 1)" font-size="9.04">0</text>
<text transform="translate(136.09 409.31) scale(1.0000 1)" font-size="9.169">5</text>
<text transform="translate(131.10 381.01) scale(1.0000 1)" font-size="9.04">10</text>
<text transform="translate(130.99 352.01) scale(1.0000 1)" font-size="9.169">15</text>
<line x1="157.5" y1="434.7" x2="157.5" y2="437.7" stroke="#1a1a1a" stroke-width="1"/>
<line x1="178.6" y1="434.7" x2="178.6" y2="437.7" stroke="#1a1a1a" stroke-width="1"/>
<line x1="200.1" y1="434.7" x2="200.1" y2="437.7" stroke="#1a1a1a" stroke-width="1"/>
<line x1="157.65" y1="422.7" x2="157.65" y2="417.6" stroke="#353535" stroke-width="1.3"/>
<line x1="154.7" y1="417.6" x2="160.6" y2="417.6" stroke="#353535" stroke-width="1.3"/>
<rect x="151.35" y="423.05" width="12.60" height="11.65" fill="#6aaa3c" stroke="#5e9d34" stroke-width="0.7"/>
<line x1="178.8" y1="415" x2="178.8" y2="405.6" stroke="#353535" stroke-width="1.3"/>
<line x1="175.8" y1="405.6" x2="181.8" y2="405.6" stroke="#353535" stroke-width="1.3"/>
<rect x="172.55" y="415.35" width="12.50" height="19.35" fill="#2b4a80" stroke="#22406f" stroke-width="0.7"/>
<line x1="200.39999999999998" y1="382.8" x2="200.39999999999998" y2="372.2" stroke="#353535" stroke-width="1.3"/>
<line x1="197.4" y1="372.2" x2="203.4" y2="372.2" stroke="#353535" stroke-width="1.3"/>
<rect x="194.05" y="383.15" width="12.70" height="51.55" fill="#a9032a" stroke="#960024" stroke-width="0.7"/>
<text transform="translate(165.30 448.50) scale(0.9913 1)" font-size="8.966">Spleen</text>
<line x1="157.5" y1="356.2" x2="200.1" y2="356.2" stroke="#1a1a1a" stroke-width="1.2"/>
<text transform="translate(173.35 356.49) scale(1.1708 1)" font-size="7.977">***</text>
<line x1="179.2" y1="367.2" x2="200.7" y2="367.2" stroke="#1a1a1a" stroke-width="1.2"/>
<text transform="translate(186.75 367.09) scale(1.1427 1)" font-size="7.977">**</text>
<text transform="translate(126.90 417.55) rotate(-90) scale(0.9544 1)" font-size="8.69">c-Kit<tspan font-size="6.78" dy="-4.34" stroke-width="0.12">+</tspan><tspan dy="4.34"> % of live</tspan></text>
<rect x="219.50" y="353.80" width="7.80" height="6.10" fill="#6aaa3c"/>
<text transform="translate(231.07 359.40) scale(0.9782 1)" font-size="8.43">WT</text>
<rect x="219.50" y="366.00" width="7.80" height="6.00" fill="#2b4a80"/>
<text transform="translate(231.26 372.00) scale(0.9545 1)" font-size="8.276"><tspan font-style="italic">NHD13/Setd2</tspan><tspan font-style="italic" font-size="5.13" dy="-2.73" stroke-width="0.12">f/f</tspan></text>
<rect x="219.50" y="377.70" width="7.80" height="5.90" fill="#a9032a"/>
<text transform="translate(231.24 383.30) scale(1.0298 1)" font-size="8.0"><tspan font-style="italic">NHD13/Setd2</tspan><tspan font-style="italic" font-size="4.96" dy="-2.64" stroke-width="0.12">Δ/Δ</tspan></text>
<text transform="translate(7.10 478.80) scale(1.1700 1)" font-size="11.483" fill="#000"><tspan font-weight="bold">H</tspan></text>
<rect x="39.10" y="476.00" width="7.90" height="5.50" fill="#6aaa3c"/>
<text transform="translate(50.27 480.90) scale(1.0032 1)" font-size="8.285">WT</text>
<rect x="39.10" y="487.80" width="7.90" height="5.80" fill="#2b4a80"/>
<text transform="translate(50.04 493.10) scale(1.0621 1)" font-size="8.023"><tspan font-style="italic">NHD13</tspan></text>
<rect x="39.10" y="499.50" width="7.90" height="5.70" fill="#a9032a"/>
<text transform="translate(50.06 505.20) scale(0.9745 1)" font-size="7.862"><tspan font-style="italic">NHD13/Setd2</tspan><tspan font-style="italic" font-size="4.87" dy="-2.59" stroke-width="0.12">Δ/Δ</tspan></text>
<line x1="37.2" y1="512.5" x2="37.2" y2="588.65" stroke="#1a1a1a" stroke-width="1.3"/>
<line x1="36.550000000000004" y1="588" x2="92.8" y2="588" stroke="#1a1a1a" stroke-width="1.3"/>
<line x1="34.2" y1="588" x2="37.2" y2="588" stroke="#1a1a1a" stroke-width="1"/>
<line x1="34.2" y1="573.7" x2="37.2" y2="573.7" stroke="#1a1a1a" stroke-width="1"/>
<line x1="34.2" y1="559" x2="37.2" y2="559" stroke="#1a1a1a" stroke-width="1"/>
<line x1="34.2" y1="544.4" x2="37.2" y2="544.4" stroke="#1a1a1a" stroke-width="1"/>
<line x1="34.2" y1="529.8" x2="37.2" y2="529.8" stroke="#1a1a1a" stroke-width="1"/>
<line x1="34.2" y1="515.4" x2="37.2" y2="515.4" stroke="#1a1a1a" stroke-width="1"/>
<text transform="translate(26.57 590.71) scale(1.0000 1)" font-size="8.757">0</text>
<text transform="translate(26.53 576.41) scale(1.0000 1)" font-size="8.883">5</text>
<text transform="translate(21.70 561.71) scale(1.0000 1)" font-size="8.757">10</text>
<text transform="translate(21.60 547.11) scale(1.0000 1)" font-size="8.883">15</text>
<text transform="translate(21.70 532.51) scale(1.0000 1)" font-size="8.757">20</text>
<text transform="translate(21.73 518.11) scale(1.0000 1)" font-size="8.757">25</text>
<line x1="47.1" y1="588" x2="47.1" y2="591" stroke="#1a1a1a" stroke-width="1"/>
<line x1="65.5" y1="588" x2="65.5" y2="591" stroke="#1a1a1a" stroke-width="1"/>
<line x1="83.6" y1="588" x2="83.6" y2="591" stroke="#1a1a1a" stroke-width="1"/>
<line x1="47.15" y1="578.7" x2="47.15" y2="575.7" stroke="#353535" stroke-width="1.3"/>
<line x1="44.9" y1="575.7" x2="49.9" y2="575.7" stroke="#353535" stroke-width="1.3"/>
<rect x="41.25" y="579.05" width="11.80" height="8.95" fill="#6aaa3c" stroke="#5e9d34" stroke-width="0.7"/>
<line x1="65.6" y1="580.7" x2="65.6" y2="575.4" stroke="#353535" stroke-width="1.3"/>
<line x1="62.6" y1="575.4" x2="68.5" y2="575.4" stroke="#353535" stroke-width="1.3"/>
<rect x="59.65" y="581.05" width="11.90" height="6.95" fill="#2b4a80" stroke="#22406f" stroke-width="0.7"/>
<line x1="83.6" y1="548.1" x2="83.6" y2="520.4" stroke="#353535" stroke-width="1.3"/>
<line x1="80.6" y1="520.4" x2="86.9" y2="520.4" stroke="#353535" stroke-width="1.3"/>
<rect x="77.55" y="548.45" width="12.10" height="39.55" fill="#a9032a" stroke="#960024" stroke-width="0.7"/>
<line x1="66" y1="517.2" x2="83.6" y2="517.2" stroke="#1a1a1a" stroke-width="1.2"/>
<text transform="translate(71.37 517.29) scale(1.0419 1)" font-size="7.977">**</text>
<text transform="translate(40.21 602.40) scale(1.0041 1)" font-size="8.414">Mac-1<tspan font-size="6.56" dy="-4.21" stroke-width="0.12">−</tspan><tspan dy="4.21"> c-Kit</tspan><tspan font-size="6.56" dy="-4.21" stroke-width="0.12">+</tspan></text>
<text transform="translate(16.40 565.59) rotate(-90) scale(0.7458 1)" font-size="10.621">% of live</text>
<text transform="translate(125.24 478.80) scale(1.6125 1)" font-size="11.628" fill="#000"><tspan font-weight="bold">I</tspan></text>
<rect x="160.40" y="473.70" width="8.40" height="5.80" fill="#6aaa3c"/>
<text transform="translate(171.87 479.10) scale(1.0450 1)" font-size="7.703">WT</text>
<rect x="160.40" y="486.20" width="8.40" height="5.60" fill="#2b4a80"/>
<text transform="translate(171.96 491.80) scale(1.0189 1)" font-size="7.724"><tspan font-style="italic">NHD13/Setd2</tspan><tspan font-style="italic" font-size="4.79" dy="-2.55" stroke-width="0.12">f/f</tspan></text>
<rect x="160.40" y="498.00" width="8.40" height="5.70" fill="#a9032a"/>
<text transform="translate(171.94 503.40) scale(1.0885 1)" font-size="7.724"><tspan font-style="italic">NHD13/Setd2</tspan><tspan font-style="italic" font-size="4.79" dy="-2.55" stroke-width="0.12">Δ/Δ</tspan></text>
<line x1="159.9" y1="509.7" x2="159.9" y2="588.75" stroke="#1a1a1a" stroke-width="1.3"/>
<line x1="159.25" y1="588.1" x2="217.8" y2="588.1" stroke="#1a1a1a" stroke-width="1.3"/>
<line x1="156.9" y1="588.2" x2="159.9" y2="588.2" stroke="#1a1a1a" stroke-width="1"/>
<line x1="156.9" y1="563.2" x2="159.9" y2="563.2" stroke="#1a1a1a" stroke-width="1"/>
<line x1="156.9" y1="537.7" x2="159.9" y2="537.7" stroke="#1a1a1a" stroke-width="1"/>
<line x1="156.9" y1="512.2" x2="159.9" y2="512.2" stroke="#1a1a1a" stroke-width="1"/>
<text transform="translate(148.85 590.71) scale(1.0000 1)" font-size="8.616">0</text>
<text transform="translate(144.06 565.71) scale(1.0000 1)" font-size="8.616">20</text>
<text transform="translate(144.06 540.21) scale(1.0000 1)" font-size="8.616">40</text>
<text transform="translate(144.06 514.71) scale(1.0000 1)" font-size="8.616">60</text>
<line x1="169.2" y1="588.1" x2="169.2" y2="591.1" stroke="#1a1a1a" stroke-width="1"/>
<line x1="188.5" y1="588.1" x2="188.5" y2="591.1" stroke="#1a1a1a" stroke-width="1"/>
<line x1="207.4" y1="588.1" x2="207.4" y2="591.1" stroke="#1a1a1a" stroke-width="1"/>
<line x1="169.45" y1="577.5" x2="169.45" y2="572.9" stroke="#353535" stroke-width="1.3"/>
<line x1="166.9" y1="572.9" x2="172.3" y2="572.9" stroke="#353535" stroke-width="1.3"/>
<rect x="163.35" y="577.85" width="12.20" height="10.25" fill="#6aaa3c" stroke="#5e9d34" stroke-width="0.7"/>
<line x1="188.45" y1="583.2" x2="188.45" y2="581.6" stroke="#353535" stroke-width="1.3"/>
<line x1="186" y1="581.6" x2="191.5" y2="581.6" stroke="#353535" stroke-width="1.3"/>
<rect x="182.45" y="583.55" width="12.00" height="4.55" fill="#2b4a80" stroke="#22406f" stroke-width="0.7"/>
<line x1="207.5" y1="550.7" x2="207.5" y2="524.3" stroke="#353535" stroke-width="1.3"/>
<line x1="206.1" y1="524.3" x2="210.6" y2="524.3" stroke="#353535" stroke-width="1.3"/>
<rect x="201.35" y="551.05" width="12.30" height="37.05" fill="#a9032a" stroke="#960024" stroke-width="0.7"/>
<line x1="169.2" y1="570" x2="188.8" y2="570" stroke="#1a1a1a" stroke-width="1.2"/>
<text transform="translate(178.08 569.70) scale(1.0225 1)" font-size="7.123">*</text>
<line x1="188.8" y1="521.3" x2="208.1" y2="521.3" stroke="#1a1a1a" stroke-width="1.2"/>
<text transform="translate(197.18 520.90) scale(1.0225 1)" font-size="7.123">*</text>
<text transform="translate(178.06 602.50) scale(0.9877 1)" font-size="8.883">WBC</text>
<text transform="translate(139.30 568.42) rotate(-90) scale(0.8793 1)" font-size="9.241">10<tspan font-size="5.73" dy="-4.62" stroke-width="0.12">9</tspan><tspan dy="4.62"> cells /L</tspan></text>
<line x1="282.3" y1="509.7" x2="282.3" y2="588.9499999999999" stroke="#1a1a1a" stroke-width="1.3"/>
<line x1="281.65000000000003" y1="588.3" x2="339.7" y2="588.3" stroke="#1a1a1a" stroke-width="1.3"/>
<line x1="279.3" y1="588.2" x2="282.3" y2="588.2" stroke="#1a1a1a" stroke-width="1"/>
<line x1="279.3" y1="569.1" x2="282.3" y2="569.1" stroke="#1a1a1a" stroke-width="1"/>
<line x1="279.3" y1="550.1" x2="282.3" y2="550.1" stroke="#1a1a1a" stroke-width="1"/>
<line x1="279.3" y1="531.3" x2="282.3" y2="531.3" stroke="#1a1a1a" stroke-width="1"/>
<line x1="279.3" y1="512.0" x2="282.3" y2="512.0" stroke="#1a1a1a" stroke-width="1"/>
<text transform="translate(270.87 590.81) scale(1.0000 1)" font-size="8.757">0</text>
<text transform="translate(266.00 571.71) scale(1.0000 1)" font-size="8.757">50</text>
<text transform="translate(261.13 552.71) scale(1.0000 1)" font-size="8.757">100</text>
<text transform="translate(261.13 533.91) scale(1.0000 1)" font-size="8.757">150</text>
<text transform="translate(261.13 514.61) scale(1.0000 1)" font-size="8.757">200</text>
<line x1="291.8" y1="588.3" x2="291.8" y2="591.3" stroke="#1a1a1a" stroke-width="1"/>
<line x1="311.1" y1="588.3" x2="311.1" y2="591.3" stroke="#1a1a1a" stroke-width="1"/>
<line x1="330.1" y1="588.3" x2="330.1" y2="591.3" stroke="#1a1a1a" stroke-width="1"/>
<line x1="292.0" y1="533.2" x2="292.0" y2="528.4" stroke="#353535" stroke-width="1.3"/>
<line x1="288.8" y1="528.4" x2="295.2" y2="528.4" stroke="#353535" stroke-width="1.3"/>
<rect x="286.15" y="533.55" width="11.70" height="54.75" fill="#6aaa3c" stroke="#5e9d34" stroke-width="0.7"/>
<line x1="311.0" y1="544.9" x2="311.0" y2="537.5" stroke="#353535" stroke-width="1.3"/>
<line x1="308.1" y1="537.5" x2="314.2" y2="537.5" stroke="#353535" stroke-width="1.3"/>
<rect x="305.15" y="545.25" width="11.70" height="43.05" fill="#2b4a80" stroke="#22406f" stroke-width="0.7"/>
<line x1="330.1" y1="556" x2="330.1" y2="551.8" stroke="#353535" stroke-width="1.3"/>
<line x1="327.1" y1="551.8" x2="333.2" y2="551.8" stroke="#353535" stroke-width="1.3"/>
<rect x="324.05" y="556.35" width="12.10" height="31.95" fill="#a9032a" stroke="#960024" stroke-width="0.7"/>
<line x1="291.8" y1="525.6" x2="330.1" y2="525.6" stroke="#1a1a1a" stroke-width="1.2"/>
<text transform="translate(307.14 525.29) scale(1.2267 1)" font-size="7.977">**</text>
<line x1="311.1" y1="534.7" x2="329.7" y2="534.7" stroke="#1a1a1a" stroke-width="1.2"/>
<text transform="translate(318.88 534.10) scale(1.0225 1)" font-size="7.123">*</text>
<text transform="translate(301.27 602.80) scale(1.0780 1)" font-size="8.309">HGB</text>
<text transform="translate(255.90 554.35) rotate(-90) scale(0.8710 1)" font-size="9.517">g/L</text>
<text transform="translate(349.70 479.20) scale(1.2354 1)" font-size="10.61" fill="#000"><tspan font-weight="bold">J</tspan></text>
<text transform="translate(433.74 477.00) scale(0.9779 1)" font-size="10.756">BMT</text>
<line x1="377.6" y1="491.5" x2="385.8" y2="491.5" stroke="#4664a4" stroke-width="1.0"/>
<line x1="381.7" y1="490.5" x2="381.7" y2="491.5" stroke="#4664a4" stroke-width="0.8"/>
<text transform="translate(389.63 493.50) scale(1.1154 1)" font-size="7.862"><tspan font-style="italic">NHD13/Setd2</tspan><tspan font-style="italic" font-size="4.87" dy="-2.59" stroke-width="0.12">f/f</tspan><tspan dy="2.59"> (n=11)</tspan></text>
<line x1="377.6" y1="501.2" x2="385.8" y2="501.2" stroke="#c41c40" stroke-width="1.0"/>
<line x1="381.7" y1="500.2" x2="381.7" y2="501.2" stroke="#c41c40" stroke-width="0.8"/>
<text transform="translate(389.64 503.50) scale(1.0271 1)" font-size="8.138"><tspan font-style="italic">NHD13/Setd2</tspan><tspan font-style="italic" font-size="5.05" dy="-2.69" stroke-width="0.12">Δ/Δ</tspan><tspan dy="2.69"> (n=18)</tspan></text>
<text transform="translate(479.27 503.60) scale(1.2240 1)" font-size="6.838">***</text>
<line x1="385.3" y1="510.4" x2="385.3" y2="588.9499999999999" stroke="#1a1a1a" stroke-width="1.3"/>
<line x1="384.65000000000003" y1="588.3" x2="505.5" y2="588.3" stroke="#1a1a1a" stroke-width="1.3"/>
<line x1="382.3" y1="588.3" x2="385.3" y2="588.3" stroke="#1a1a1a" stroke-width="1"/>
<line x1="382.3" y1="552.9" x2="385.3" y2="552.9" stroke="#1a1a1a" stroke-width="1"/>
<line x1="382.3" y1="517.5" x2="385.3" y2="517.5" stroke="#1a1a1a" stroke-width="1"/>
<text transform="translate(374.46 590.72) scale(1.0000 1)" font-size="8.192">0</text>
<text transform="translate(369.91 555.32) scale(1.0000 1)" font-size="8.192">50</text>
<text transform="translate(365.36 519.92) scale(1.0000 1)" font-size="8.192">100</text>
<line x1="385.4" y1="588.3" x2="385.4" y2="591.3" stroke="#1a1a1a" stroke-width="1"/>
<line x1="424.5" y1="588.3" x2="424.5" y2="591.3" stroke="#1a1a1a" stroke-width="1"/>
<line x1="463.2" y1="588.3" x2="463.2" y2="591.3" stroke="#1a1a1a" stroke-width="1"/>
<line x1="502.7" y1="588.3" x2="502.7" y2="591.3" stroke="#1a1a1a" stroke-width="1"/>
<text transform="translate(379.74 601.80) scale(0.9193 1)" font-size="9.456">100</text>
<text transform="translate(418.42 601.80) scale(1.0113 1)" font-size="9.456">200</text>
<text transform="translate(457.56 601.80) scale(0.9505 1)" font-size="9.456">300</text>
<text transform="translate(497.90 601.80) scale(0.9416 1)" font-size="9.456">400</text>
<text transform="translate(424.53 614.90) scale(0.9607 1)" font-size="8.276">Time (days)</text>
<text transform="translate(359.40 577.45) rotate(-90) scale(0.7421 1)" font-size="10.621">Percent survival</text>
<path d="M385.9 517.5H433.2V523.9H433.6V530.4H434.8V536.8H436.9V543.2H443.6V549.7H457.2V556.1H463.2V562.5H467.5V569.0H477.4V575.4H490.4V581.8H491.5V588.3" fill="none" stroke="#4664a4" stroke-width="1.1"/>
<path d="M401.8 517.5H401.8V521.4H403.8V525.4H404.5V529.3H404.8V533.2H405.1V537.2H405.4V541.1H411.4V545.0H412.6V549.0H413.0V552.9H413.3V556.8H417.3V560.8H419.7V564.7H421.6V568.6H427.7V572.6H435.7V576.5H448.8V580.4H455.2V584.4H477.4V588.3" fill="none" stroke="#c41c40" stroke-width="1.1"/>
<rect x="0.00" y="0.00" width="520.00" height="1.20" fill="#000"/>
<rect x="0.00" y="624.80" width="520.00" height="1.20" fill="#000"/>
<rect x="0.00" y="0.00" width="1.20" height="626.00" fill="#000"/>
<rect x="518.80" y="0.00" width="1.20" height="626.00" fill="#000"/>
</svg>
</body></html>
